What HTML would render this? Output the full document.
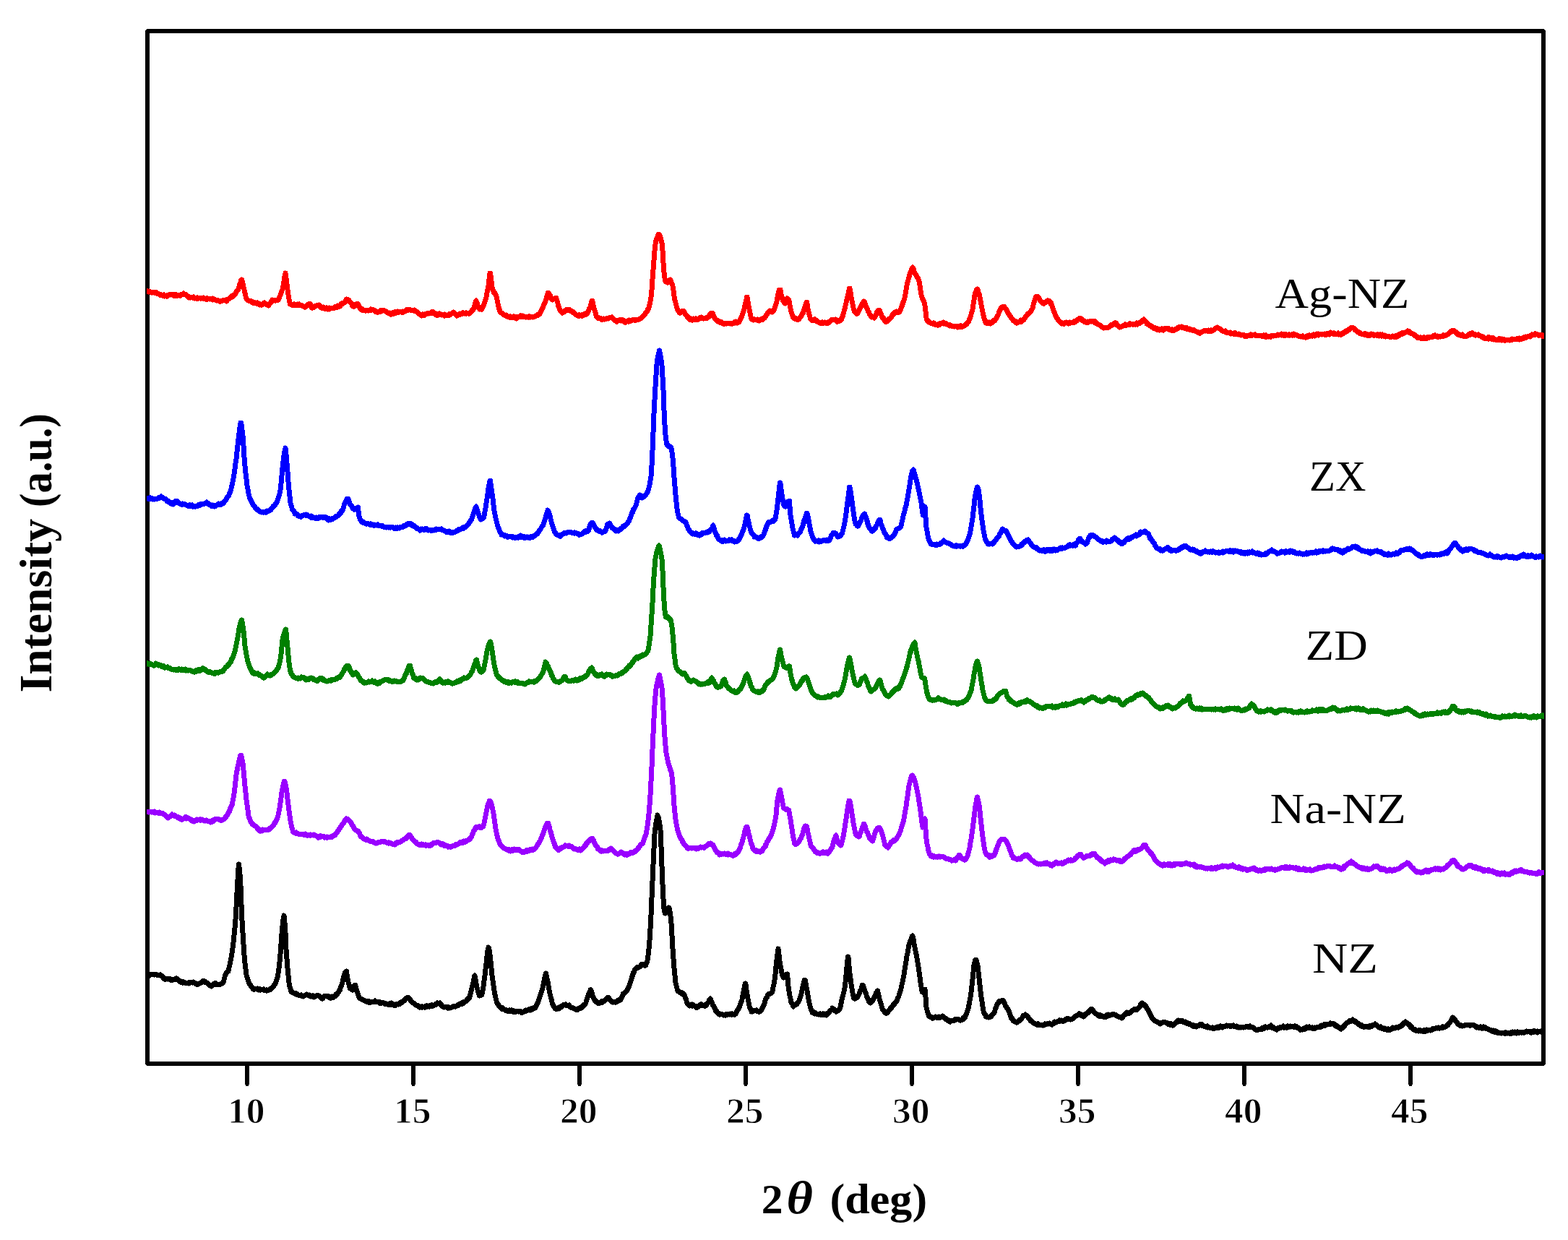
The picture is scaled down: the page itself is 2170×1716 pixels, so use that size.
<!DOCTYPE html>
<html lang="en"><head><meta charset="utf-8"><title>XRD patterns</title>
<style>
html,body{margin:0;padding:0;background:#fff;}
body{width:2170px;height:1716px;}
svg{display:block;}
text{font-family:"Liberation Serif","DejaVu Serif",serif;fill:#000;}
.b{font-weight:bold;}
.t{font-weight:bold;stroke:#fff;stroke-width:1px;}
.c{fill:none;stroke-linejoin:round;stroke-linecap:butt;shape-rendering:crispEdges;}
</style></head><body>
<svg width="2170" height="1716" viewBox="0 0 2170 1716">
<rect x="0" y="0" width="2170" height="1716" fill="#fff"/>
<g shape-rendering="crispEdges"><rect x="204" y="43" width="1932" height="1429" fill="none" stroke="#000" stroke-width="6"/>
<rect x="201" y="40" width="1" height="1" fill="#fff"/><rect x="202" y="40" width="1" height="1" fill="#fff"/><rect x="201" y="41" width="1" height="1" fill="#fff"/><rect x="2138" y="40" width="1" height="1" fill="#fff"/><rect x="2137" y="40" width="1" height="1" fill="#fff"/><rect x="2138" y="41" width="1" height="1" fill="#fff"/><rect x="201" y="1474" width="1" height="1" fill="#fff"/><rect x="202" y="1474" width="1" height="1" fill="#fff"/><rect x="201" y="1473" width="1" height="1" fill="#fff"/><rect x="2138" y="1474" width="1" height="1" fill="#fff"/><rect x="2137" y="1474" width="1" height="1" fill="#fff"/><rect x="2138" y="1473" width="1" height="1" fill="#fff"/><rect x="339" y="1472" width="6" height="29" fill="#000"/><rect x="340" y="1501" width="4" height="2" fill="#000"/><rect x="569" y="1472" width="6" height="29" fill="#000"/><rect x="570" y="1501" width="4" height="2" fill="#000"/><rect x="799" y="1472" width="6" height="29" fill="#000"/><rect x="800" y="1501" width="4" height="2" fill="#000"/><rect x="1029" y="1472" width="6" height="29" fill="#000"/><rect x="1030" y="1501" width="4" height="2" fill="#000"/><rect x="1259" y="1472" width="6" height="29" fill="#000"/><rect x="1260" y="1501" width="4" height="2" fill="#000"/><rect x="1489" y="1472" width="6" height="29" fill="#000"/><rect x="1490" y="1501" width="4" height="2" fill="#000"/><rect x="1719" y="1472" width="6" height="29" fill="#000"/><rect x="1720" y="1501" width="4" height="2" fill="#000"/><rect x="1949" y="1472" width="6" height="29" fill="#000"/><rect x="1950" y="1501" width="4" height="2" fill="#000"/></g>
<clipPath id="cp"><rect x="203" y="46" width="1934" height="1423"/></clipPath>
<g clip-path="url(#cp)">
<path class="c" d="M203 403l0.5 1h0.5l0.5 -1l0.5 1h1l0.5 -1l0.5 1h2l0.5 1l0.5 -1h1l0.5 1l0.5 -1h0.5l0.5 1h0.5l0.5 -1h0.5l0.5 1h1l0.5 1l0.5 -1l0.5 1h1.5l0.5 1h1l0.5 1l0.5 -1h0.5l0.5 1h2l0.5 1l0.5 -1h0.5l0.5 1l0.5 -1l0.5 2l0.5 -1h1.5l0.5 1h0.5l0.5 -1l0.5 1l0.5 -1l0.5 -1h2l0.5 -1h0.5l0.5 1h1l0.5 -1h0.5l0.5 1h1l0.5 1l0.5 -1l0.5 1l0.5 -1l0.5 1l0.5 -1l0.5 1h0.5l0.5 -1l0.5 1h2.5l0.5 -1h0.5l0.5 1h0.5l0.5 -1l0.5 1l0.5 -1h1.5l0.5 -1h1l0.5 -1l0.5 1h2l0.5 1h1l0.5 1h0.5l0.5 1h1l0.5 2h0.5l0.5 -1h1l0.5 1l0.5 -1h1.5l0.5 1h1.5l0.5 -1l0.5 1l0.5 1h0.5l0.5 -1h1l0.5 1h1l0.5 -1l0.5 1h1.5l0.5 -1h2l0.5 1l0.5 -1h2l0.5 1l0.5 -1l0.5 1h2.5l0.5 1l0.5 -1l0.5 1h0.5l0.5 -1l0.5 1h0.5l0.5 -1h1.5l0.5 1l0.5 -1h2.5l0.5 1l0.5 -1l0.5 2l0.5 -1h1l0.5 1h2l0.5 1l0.5 -1h1l0.5 1h2l0.5 1l0.5 -1h0.5l0.5 1h0.5l0.5 -1h2.5l0.5 -1h2l0.5 1h0.5l0.5 -1l0.5 2l0.5 -2h1l0.5 -1h1.5l0.5 -1l0.5 -1h1l0.5 -1h0.5l0.5 -1l0.5 1h0.5l0.5 -2l0.5 1l0.5 -1h0.5l0.5 -1h0.5l0.5 -1h0.5l0.5 -1l0.5 -1h0.5l0.5 -2h0.5l0.5 -1h0.5l0.5 -1l0.5 -2l0.5 -1l0.5 -1l0.5 -3l0.5 -1l0.5 -1l0.5 -2l0.5 -2h0.5l0.5 -1l0.5 1l0.5 3l0.5 1l0.5 3l0.5 2l0.5 2l0.5 2l0.5 3l0.5 1l0.5 2l0.5 3l0.5 2h0.5l0.5 2h0.5l0.5 1h0.5l0.5 1h2.5l0.5 1h1l0.5 1l0.5 -1l0.5 1h0.5l0.5 1l0.5 -1l0.5 1l0.5 -1h0.5l0.5 1h1l0.5 1h1l0.5 -1l0.5 1l0.5 -1l0.5 1h0.5l0.5 1h1l0.5 1h0.5l0.5 -1l0.5 1h2l0.5 -1l0.5 -1l0.5 1h0.5l0.5 -1l0.5 -1l0.5 1h1l0.5 1h1l0.5 1h1l0.5 1h1l0.5 -2h0.5l0.5 -1h0.5l0.5 -1l0.5 -1l0.5 -1h1l0.5 -2l0.5 1l0.5 -1h2.5l0.5 1l0.5 -1h4l0.5 -2l0.5 -1l0.5 -2h0.5l0.5 -2l0.5 -1l0.5 -2l0.5 -1l0.5 -2h0.5l0.5 -2l0.5 -2l0.5 -3l0.5 -4l0.5 -2l0.5 -4l0.5 -3l0.5 -1l0.5 -3l0.5 4l0.5 3l0.5 4l0.5 4l0.5 5l0.5 3l0.5 3l0.5 4l0.5 3l0.5 3l0.5 3l0.5 2l0.5 2h1l0.5 1h3.5l0.5 -1l0.5 1h3.5l0.5 -1l0.5 1l0.5 -1h0.5l0.5 1l0.5 -1l0.5 1h2.5l0.5 1h1.5l0.5 1h1l0.5 1h2l0.5 -1h0.5l0.5 -1h0.5l0.5 -1h0.5l0.5 -1l0.5 1l0.5 -1l0.5 -1h1l0.5 1l0.5 1l0.5 2l0.5 1l0.5 1h1l0.5 -1h1l0.5 -1l0.5 1l0.5 -1h0.5l0.5 -1h2.5l0.5 -1h1l0.5 1l0.5 -1l0.5 1h0.5l0.5 1h0.5l0.5 1l0.5 1h2.5l0.5 -1l0.5 1h0.5l0.5 1l0.5 -1h0.5l0.5 1h1l0.5 -1l0.5 1h0.5l0.5 1l0.5 -1h1l0.5 -1l0.5 2l0.5 -1l0.5 -1h5.5l0.5 -1l0.5 1h0.5l0.5 -1h1.5l0.5 -1l0.5 1l0.5 -2l0.5 2l0.5 -1h0.5l0.5 -1h0.5l0.5 1l0.5 -2h0.5l0.5 -1l0.5 -1l0.5 1h0.5l0.5 -1h1l0.5 -1h1l0.5 -1h0.5l0.5 -1l0.5 -1l0.5 -1l0.5 -1l0.5 1l0.5 -1h0.5l0.5 1h1l0.5 2h0.5l0.5 1h0.5l0.5 1h1l0.5 1l0.5 1l0.5 2h0.5l0.5 1l0.5 -1l0.5 1l0.5 -1l0.5 1l0.5 -2l0.5 1l0.5 -1h0.5l0.5 -1h0.5l0.5 -1h1l0.5 1l0.5 1l0.5 1l0.5 1l0.5 1l0.5 2h0.5l0.5 1h0.5l0.5 -1l0.5 2l0.5 -1l0.5 1l0.5 -1l0.5 1h2.5l0.5 1h1.5l0.5 -1h1.5l0.5 1l0.5 -1h2.5l0.5 -1l0.5 1h1.5l0.5 -1h0.5l0.5 1h1.5l0.5 1l0.5 1l0.5 -1h0.5l0.5 1l0.5 1h2.5l0.5 -1h1.5l0.5 -1l0.5 1h1l0.5 -1h0.5l0.5 -1h1.5l0.5 1h2l0.5 1h1.5l0.5 1h0.5l0.5 1h1l0.5 1h1l0.5 -1l0.5 1h0.5l0.5 1l0.5 -1h0.5l0.5 -1l0.5 1h1l0.5 -1l0.5 1l0.5 -2l0.5 1h0.5l0.5 -1l0.5 1l0.5 -1l0.5 1l0.5 -1h1l0.5 -1l0.5 1l0.5 -1h0.5l0.5 1h0.5l0.5 -1h1l0.5 1h2l0.5 -1l0.5 1l0.5 -1h2.5l0.5 -1l0.5 -1l0.5 1l0.5 -1h0.5l0.5 -1h0.5l0.5 1l0.5 -1h1.5l0.5 1h5l0.5 1l0.5 -1l0.5 1h0.5l0.5 1h1.5l0.5 1h0.5l0.5 1h0.5l0.5 1h0.5l0.5 1h1.5l0.5 1h1l0.5 1l0.5 -1h0.5l0.5 -1l0.5 1l0.5 -1h0.5l0.5 1l0.5 -1l0.5 1l0.5 -1h1l0.5 -1h2l0.5 -1h0.5l0.5 1l0.5 -1h2.5l0.5 -1l0.5 1h1l0.5 -1l0.5 1l0.5 -1l0.5 1h1l0.5 2h0.5l0.5 1h3.5l0.5 -1l0.5 -1l0.5 1l0.5 -1l0.5 1h2l0.5 1l0.5 -1h0.5l0.5 1h1.5l0.5 1l0.5 -2l0.5 1h4.5l0.5 -1l0.5 1l0.5 -1l0.5 1l0.5 -1h1l0.5 -1h1l0.5 -1h1l0.5 -1l0.5 1h1l0.5 1h0.5l0.5 1h0.5l0.5 1l0.5 1l0.5 -1h2l0.5 -1h1l0.5 -1l0.5 1l0.5 -1h2l0.5 -1l0.5 1h0.5l0.5 -1l0.5 1h1l0.5 -1h0.5l0.5 1l0.5 -1l0.5 1l0.5 -1h1.5l0.5 1h1.5l0.5 -1h1l0.5 -1h0.5l0.5 -1l0.5 -1l0.5 -1h1l0.5 -1l0.5 -1l0.5 -1l0.5 -2l0.5 -2l0.5 -2l0.5 -2l0.5 -1l0.5 -1l0.5 2l0.5 2h0.5l0.5 2l0.5 2l0.5 1l0.5 1h1l0.5 2l0.5 -2l0.5 1l0.5 1h0.5l0.5 -1l0.5 1l0.5 -2l0.5 -1l0.5 -1l0.5 -1l0.5 -1l0.5 -2l0.5 -1l0.5 -1l0.5 -2l0.5 -1l0.5 -2l0.5 -2l0.5 -4l0.5 -2l0.5 -2l0.5 -3l0.5 -2l0.5 -3l0.5 -4l0.5 -5l0.5 -5l0.5 -3h0.5l0.5 3l0.5 3l0.5 5l0.5 4l0.5 4l0.5 3l0.5 1l0.5 1l0.5 1l0.5 2l0.5 -1l0.5 1l0.5 1l0.5 1l0.5 1l0.5 1l0.5 1l0.5 3l0.5 2l0.5 2l0.5 3l0.5 2l0.5 3l0.5 1l0.5 3h0.5l0.5 1l0.5 2h0.5l0.5 1h1.5l0.5 1l0.5 1h1l0.5 1h2l0.5 1l0.5 -1l0.5 1l0.5 1h3l0.5 1l0.5 -1l0.5 1l0.5 -1l0.5 1h0.5l0.5 -1h0.5l0.5 1l0.5 -1h0.5l0.5 1l0.5 -1l0.5 1h1l0.5 1l0.5 -1l0.5 1l0.5 -1l0.5 2l0.5 -2l0.5 1l0.5 -1h1.5l0.5 -1h1l0.5 -1l0.5 1l0.5 -1l0.5 1l0.5 -1h0.5l0.5 1l0.5 -1l0.5 1h3l0.5 1l0.5 -1h1l0.5 1h0.5l0.5 -1h0.5l0.5 1l0.5 -1l0.5 1h0.5l0.5 -1l0.5 1h0.5l0.5 -1h2l0.5 1h0.5l0.5 -1h2l0.5 -1h1.5l0.5 -1h1l0.5 -1l0.5 1l0.5 -1l0.5 -1l0.5 1l0.5 -2h0.5l0.5 -1l0.5 -1l0.5 -1l0.5 -1l0.5 -1l0.5 -1l0.5 -1l0.5 -1l0.5 -2l0.5 -1h0.5l0.5 -2l0.5 -1l0.5 -1l0.5 -2l0.5 -1l0.5 -2l0.5 -2l0.5 -2l0.5 -1l0.5 -2l0.5 -1h0.5l0.5 1h0.5l0.5 2l0.5 1h0.5l0.5 3l0.5 1l0.5 1h0.5l0.5 1h0.5l0.5 -1h0.5l0.5 -1h2.5l0.5 -1h0.5l0.5 1l0.5 2l0.5 1l0.5 2l0.5 2l0.5 3l0.5 1l0.5 1l0.5 2l0.5 1h0.5l0.5 2h0.5l0.5 1h0.5l0.5 1l0.5 1l0.5 -1h0.5l0.5 -1l0.5 1h0.5l0.5 -1h0.5l0.5 -1h0.5l0.5 -1h1l0.5 -1h0.5l0.5 1l0.5 -1h1l0.5 1h0.5l0.5 1l0.5 -1l0.5 1h0.5l0.5 1h1l0.5 1l0.5 -1l0.5 1l0.5 1h1l0.5 1h1l0.5 1h0.5l0.5 1h1.5l0.5 1h1l0.5 -1l0.5 1l0.5 -1l0.5 1l0.5 -1h1l0.5 1l0.5 -1l0.5 1l0.5 -1l0.5 1l0.5 -1h1.5l0.5 -1l0.5 -1l0.5 1h1.5l0.5 -1h0.5l0.5 -1l0.5 -1l0.5 -1l0.5 -1l0.5 -1l0.5 -2h0.5l0.5 -1l0.5 -2l0.5 -1l0.5 -3l0.5 -2l0.5 -2h0.5l0.5 1l0.5 4l0.5 1l0.5 3l0.5 2l0.5 1l0.5 2l0.5 1l0.5 2l0.5 1l0.5 3l0.5 1l0.5 1h0.5l0.5 1l0.5 -1l0.5 1h2.5l0.5 1h0.5l0.5 1l0.5 -1h0.5l0.5 1h1.5l0.5 -1l0.5 1h0.5l0.5 -1h2.5l0.5 -1h0.5l0.5 1h0.5l0.5 -1h1.5l0.5 -1h2l0.5 1l0.5 -1l0.5 1l0.5 1h0.5l0.5 1h0.5l0.5 1h0.5l0.5 1h1.5l0.5 1l0.5 -1l0.5 1l0.5 -1h1l0.5 -1h2l0.5 -1h1l0.5 2l0.5 -1h0.5l0.5 1h0.5l0.5 -1l0.5 1h0.5l0.5 1l0.5 1l0.5 -1h0.5l0.5 1l0.5 -1h1.5l0.5 -1h1l0.5 1l0.5 -2l0.5 1l0.5 -1h1l0.5 1l0.5 -1h2.5l0.5 -1h1l0.5 1l0.5 -1h1l0.5 1l0.5 -1h4.5l0.5 -1h1l0.5 -1h1l0.5 -1l0.5 -1h1l0.5 -1l0.5 -1h0.5l0.5 -1h0.5l0.5 -1l0.5 -1h0.5l0.5 -1l0.5 -1h0.5l0.5 -1l0.5 -2l0.5 1l0.5 -2l0.5 -1l0.5 -2l0.5 -3l0.5 -1l0.5 -3l0.5 -3l0.5 -3l0.5 -4l0.5 -6l0.5 -8l0.5 -7l0.5 -7l0.5 -6l0.5 -7l0.5 -6l0.5 -7l0.5 -6l0.5 -5l0.5 -4l0.5 -4h0.5l0.5 -3l0.5 -1l0.5 -1l0.5 -2l0.5 -1l0.5 -1l0.5 -1h0.5l0.5 1h0.5l0.5 2l0.5 2l0.5 1l0.5 2l0.5 3l0.5 1l0.5 4l0.5 7l0.5 8l0.5 9l0.5 7l0.5 6l0.5 4l0.5 4l0.5 3h0.5l0.5 2h1l0.5 1h1.5l0.5 -1h0.5l0.5 -1h0.5l0.5 -1l0.5 -1l0.5 1l0.5 1l0.5 1l0.5 2l0.5 2h0.5l0.5 2l0.5 3l0.5 3l0.5 4l0.5 4l0.5 3l0.5 3l0.5 1l0.5 2l0.5 2l0.5 2l0.5 2l0.5 1l0.5 2l0.5 1l0.5 1l0.5 1h1l0.5 2h1l0.5 -1h1.5l0.5 -1l0.5 -1h1.5l0.5 1l0.5 1l0.5 1h0.5l0.5 2h0.5l0.5 1l0.5 1h0.5l0.5 1l0.5 1h0.5l0.5 1l0.5 -1l0.5 2l0.5 1l0.5 -1l0.5 1h0.5l0.5 -1l0.5 1h1l0.5 1l0.5 -1h0.5l0.5 -1l0.5 1l0.5 -1h1l0.5 1l0.5 -1l0.5 1l0.5 -1l0.5 1h2.5l0.5 -1h0.5l0.5 -1l0.5 1h0.5l0.5 -1h0.5l0.5 -1l0.5 1h1.5l0.5 1h0.5l0.5 -1h4l0.5 -1l0.5 1l0.5 -1h1l0.5 -1h0.5l0.5 -2l0.5 1l0.5 -2l0.5 -1h0.5l0.5 -1h1l0.5 1h0.5l0.5 2l0.5 1l0.5 1l0.5 1l0.5 1l0.5 1h0.5l0.5 1h0.5l0.5 1h1.5l0.5 2h1l0.5 1h0.5l0.5 -1l0.5 1h1l0.5 1h0.5l0.5 -1l0.5 1h0.5l0.5 1h3.5l0.5 -1h0.5l0.5 1l0.5 -1h3.5l0.5 1h0.5l0.5 -1h0.5l0.5 1h1.5l0.5 -1h1.5l0.5 -1l0.5 1l0.5 -1h1l0.5 1l0.5 -2l0.5 1h0.5l0.5 1l0.5 -1h0.5l0.5 -1l0.5 1l0.5 -1l0.5 -1h0.5l0.5 -2l0.5 -1l0.5 -1l0.5 -1l0.5 -1l0.5 -1l0.5 -2l0.5 -1l0.5 -2l0.5 -2l0.5 -1l0.5 -2l0.5 -3l0.5 -1l0.5 -2l0.5 -3l0.5 -2l0.5 -2l0.5 -3h0.5l0.5 3l0.5 3l0.5 2l0.5 4l0.5 2l0.5 3l0.5 2l0.5 3l0.5 3l0.5 2l0.5 2l0.5 2h0.5l0.5 -1l0.5 1l0.5 -1h0.5l0.5 2l0.5 -1h4l0.5 1l0.5 -1l0.5 1h1l0.5 1l0.5 -1h1.5l0.5 -1h1l0.5 -1l0.5 1l0.5 -1l0.5 1l0.5 -1h0.5l0.5 -1h1l0.5 -2h0.5l0.5 -1l0.5 -1l0.5 -1h0.5l0.5 -1l0.5 -1h0.5l0.5 -1l0.5 -1h1l0.5 -1l0.5 1h1l0.5 -1h0.5l0.5 2l0.5 -2h1.5l0.5 -1l0.5 -1l0.5 -1l0.5 -2l0.5 -1l0.5 -2l0.5 -1l0.5 -2l0.5 -2l0.5 -3l0.5 -3l0.5 -3l0.5 -2l0.5 -2l0.5 -2l0.5 -1h1.5l0.5 3l0.5 3l0.5 2l0.5 1l0.5 3l0.5 1l0.5 2h0.5l0.5 1l0.5 1l0.5 1l0.5 1h0.5l0.5 -2l0.5 -2l0.5 -1l0.5 -1l0.5 -1l0.5 1h0.5l0.5 1l0.5 -1l0.5 1l0.5 1l0.5 3l0.5 3l0.5 2l0.5 3l0.5 3l0.5 1l0.5 2l0.5 1l0.5 2l0.5 1l0.5 2l0.5 1h0.5l0.5 1h1l0.5 -1l0.5 1h0.5l0.5 1h3.5l0.5 -1l0.5 -1h0.5l0.5 -1h0.5l0.5 -1l0.5 -1l0.5 -1h0.5l0.5 -2l0.5 -1h0.5l0.5 -3l0.5 -1l0.5 -1l0.5 -2l0.5 -1l0.5 -2l0.5 -1l0.5 -2l0.5 -2h0.5l0.5 2l0.5 4l0.5 3l0.5 3l0.5 2l0.5 1l0.5 3l0.5 1l0.5 2l0.5 2l0.5 1h0.5l0.5 1l0.5 -1l0.5 1h0.5l0.5 -1h0.5l0.5 1l0.5 -1l0.5 1h0.5l0.5 -1l0.5 1h1l0.5 1l0.5 1h1l0.5 1h2l0.5 1h3l0.5 -1l0.5 1h2.5l0.5 -1l0.5 1h4.5l0.5 -1l0.5 -1h1l0.5 -1h0.5l0.5 -1h0.5l0.5 -1h4l0.5 1h0.5l0.5 -1l0.5 1l0.5 1l0.5 1l0.5 -1l0.5 1h0.5l0.5 -1h1l0.5 -1h0.5l0.5 1l0.5 -2h1.5l0.5 -1l0.5 -2h0.5l0.5 -2l0.5 -3l0.5 -1l0.5 -2l0.5 -2l0.5 -2l0.5 -1l0.5 -3l0.5 -2l0.5 -2l0.5 -2l0.5 -3l0.5 -2l0.5 -2l0.5 -2l0.5 -2l0.5 -2l0.5 -3l0.5 -2h0.5l0.5 3l0.5 2l0.5 5l0.5 2l0.5 2l0.5 3l0.5 3l0.5 2l0.5 3l0.5 2l0.5 2l0.5 2l0.5 1h1l0.5 1l0.5 1l0.5 1l0.5 -1l0.5 1h0.5l0.5 -1l0.5 -1l0.5 -1l0.5 -1l0.5 -1l0.5 -1l0.5 -1l0.5 -1l0.5 -1l0.5 -1l0.5 -1l0.5 -1l0.5 -1l0.5 -1h0.5l0.5 -1l0.5 -1l0.5 -1l0.5 1h0.5l0.5 2l0.5 1l0.5 1l0.5 2h0.5l0.5 2l0.5 1l0.5 1l0.5 1l0.5 2l0.5 1h0.5l0.5 2l0.5 1l0.5 1h0.5l0.5 1l0.5 1l0.5 1h0.5l0.5 -1h0.5l0.5 1h1.5l0.5 1l0.5 -1l0.5 -1l0.5 -1l0.5 -1l0.5 -1l0.5 -1l0.5 -2h1l0.5 -2l0.5 1l0.5 -1l0.5 -1h0.5l0.5 1l0.5 1l0.5 3h0.5l0.5 1l0.5 2l0.5 1l0.5 1l0.5 1l0.5 1l0.5 -1l0.5 2h1l0.5 2l0.5 1l0.5 -1l0.5 1h1.5l0.5 -1l0.5 -1h1.5l0.5 -2h1l0.5 -1h1l0.5 -1l0.5 -1l0.5 -1h0.5l0.5 -2l0.5 1l0.5 -1l0.5 -1l0.5 -1h0.5l0.5 -1h0.5l0.5 1l0.5 -1l0.5 -1l0.5 1h3.5l0.5 -1l0.5 -1l0.5 -1l0.5 -1l0.5 -1l0.5 -2l0.5 -1l0.5 -2h0.5l0.5 -3l0.5 -1l0.5 -1l0.5 -2l0.5 -1l0.5 -2l0.5 -2l0.5 -3l0.5 -3l0.5 -3l0.5 -3l0.5 -3l0.5 -2l0.5 -3l0.5 -1l0.5 -2l0.5 -2l0.5 -1l0.5 -2l0.5 -3h0.5l0.5 -2l0.5 -1l0.5 -2l0.5 -1l0.5 -1l0.5 -1l0.5 -1l0.5 1l0.5 1l0.5 1l0.5 2l0.5 2h0.5l0.5 2l0.5 1h0.5l0.5 2h0.5l0.5 2h0.5l0.5 1h0.5l0.5 2l0.5 1l0.5 1l0.5 4l0.5 2l0.5 3l0.5 4l0.5 3l0.5 3l0.5 2l0.5 2l0.5 1h0.5l0.5 2l0.5 1l0.5 1l0.5 2l0.5 1l0.5 3l0.5 4l0.5 4l0.5 5l0.5 4l0.5 2l0.5 1l0.5 1h1l0.5 1l0.5 1h1l0.5 1h2.5l0.5 1h1l0.5 -1l0.5 1l0.5 -1l0.5 1l0.5 1l0.5 -1l0.5 1h2.5l0.5 1l0.5 -1l0.5 1l0.5 -1l0.5 -1l0.5 1l0.5 -1l0.5 1l0.5 -1h0.5l0.5 -1h2.5l0.5 -1l0.5 2l0.5 -1h0.5l0.5 1l0.5 -1h0.5l0.5 1h0.5l0.5 1h3.5l0.5 2h0.5l0.5 -1h0.5l0.5 1h3.5l0.5 1h0.5l0.5 -1h1.5l0.5 1h0.5l0.5 -1h1l0.5 2l0.5 -1h2.5l0.5 -1l0.5 1l0.5 -1l0.5 1h2.5l0.5 -1h1l0.5 -1h1l0.5 -1h1l0.5 -1l0.5 -1h0.5l0.5 -1h0.5l0.5 -1l0.5 -1l0.5 -2l0.5 -1l0.5 -1l0.5 -2l0.5 -1l0.5 -2l0.5 -2l0.5 -1l0.5 -2l0.5 -2l0.5 -3l0.5 -4l0.5 -3l0.5 -3l0.5 -3l0.5 -4l0.5 -2l0.5 -2h0.5l0.5 -1l0.5 -2h0.5l0.5 -1l0.5 1l0.5 1l0.5 2l0.5 2h0.5l0.5 2l0.5 3l0.5 2l0.5 4l0.5 1l0.5 4l0.5 2l0.5 3l0.5 3l0.5 2l0.5 3l0.5 1l0.5 3l0.5 1l0.5 2l0.5 2l0.5 1l0.5 2h0.5l0.5 -1l0.5 1h1l0.5 -1l0.5 1h1.5l0.5 -1l0.5 1l0.5 1h0.5l0.5 -1l0.5 -1l0.5 1l0.5 -1l0.5 -1h1l0.5 -1l0.5 -1h0.5l0.5 1l0.5 -2h1l0.5 -1l0.5 -1l0.5 -1l0.5 -1l0.5 -1l0.5 -1h0.5l0.5 -2l0.5 -2l0.5 -1l0.5 -1h0.5l0.5 -2h0.5l0.5 -2l0.5 -1h2l0.5 -1h1l0.5 1l0.5 1h0.5l0.5 1l0.5 1h0.5l0.5 1l0.5 1l0.5 1l0.5 1l0.5 1l0.5 1l0.5 1h0.5l0.5 1l0.5 1l0.5 1h0.5l0.5 1l0.5 1l0.5 1h1l0.5 1l0.5 1l0.5 1l0.5 -1l0.5 1h1l0.5 1l0.5 1h0.5l0.5 1h1l0.5 -1h1l0.5 -1h3l0.5 -2l0.5 1l0.5 1l0.5 -1h0.5l0.5 -1h1l0.5 -1l0.5 -1l0.5 -1h0.5l0.5 -1l0.5 -1h0.5l0.5 -1l0.5 -1h0.5l0.5 -1l0.5 -1h1.5l0.5 -1l0.5 -1h0.5l0.5 -1h0.5l0.5 -1l0.5 -1l0.5 -1h0.5l0.5 -2l0.5 -1l0.5 -3l0.5 -2l0.5 -2l0.5 -1l0.5 -2l0.5 -1l0.5 -1l0.5 -2l0.5 -1h2l0.5 1h0.5l0.5 1l0.5 1l0.5 1l0.5 1l0.5 1h0.5l0.5 1h0.5l0.5 1l0.5 1h0.5l0.5 1h1l0.5 -1l0.5 1l0.5 -1h1l0.5 -1h0.5l0.5 -1l0.5 1l0.5 -1h0.5l0.5 -1l0.5 1h1.5l0.5 1l0.5 -1l0.5 1l0.5 2l0.5 -1l0.5 2l0.5 1l0.5 2l0.5 1l0.5 2l0.5 1l0.5 2l0.5 1l0.5 2h0.5l0.5 2l0.5 1l0.5 1l0.5 1l0.5 2h1l0.5 1l0.5 1l0.5 1h0.5l0.5 1l0.5 1h1l0.5 1h1l0.5 1l0.5 1l0.5 -1h0.5l0.5 1h1l0.5 -1l0.5 1l0.5 -1h1.5l0.5 -1l0.5 1h2l0.5 1h0.5l0.5 -1h0.5l0.5 -1l0.5 1l0.5 -1h4l0.5 -1l0.5 1h1l0.5 -1h1l0.5 -1h1l0.5 -2h1.5l0.5 -1h0.5l0.5 -1h1l0.5 1h1l0.5 2l0.5 -1l0.5 1h0.5l0.5 1h0.5l0.5 1l0.5 -1l0.5 1h1l0.5 1h2.5l0.5 -1l0.5 1l0.5 -1h2l0.5 -1h1l0.5 1h0.5l0.5 -1h3l0.5 2l0.5 1l0.5 -1l0.5 1l0.5 -1l0.5 2l0.5 -1l0.5 1h0.5l0.5 1h1.5l0.5 1h1l0.5 1h1l0.5 1h0.5l0.5 1h1.5l0.5 1l0.5 -1h6.5l0.5 -1h1l0.5 -1l0.5 -1l0.5 1l0.5 -1h2l0.5 -1h0.5l0.5 -1h0.5l0.5 -1l0.5 1l0.5 -1l0.5 1l0.5 -1l0.5 2l0.5 1h1l0.5 1h0.5l0.5 1h1l0.5 1h0.5l0.5 -1h2l0.5 -1h2l0.5 -1h1l0.5 -1l0.5 1h2l0.5 -1h2.5l0.5 -1l0.5 1l0.5 -1l0.5 1l0.5 -1h2.5l0.5 1l0.5 -1h2l0.5 1l0.5 -1h1l0.5 -1l0.5 1l0.5 1l0.5 -1h0.5l0.5 -1h1.5l0.5 -1l0.5 1l0.5 -1h1l0.5 -1l0.5 -1h0.5l0.5 -1h1l0.5 -1l0.5 1l0.5 1l0.5 1h1l0.5 1h0.5l0.5 2l0.5 -1l0.5 2h1.5l0.5 1h0.5l0.5 1h1.5l0.5 1l0.5 -1l0.5 1l0.5 1h1l0.5 1l0.5 -1h0.5l0.5 1h1l0.5 1l0.5 -1l0.5 1l0.5 1h1l0.5 -1l0.5 1h1.5l0.5 1l0.5 -1l0.5 -1h0.5l0.5 1h1l0.5 -1l0.5 1h1l0.5 1l0.5 -1h1l0.5 -1l0.5 -1h0.5l0.5 1h0.5l0.5 -1h1.5l0.5 1h0.5l0.5 1l0.5 -1l0.5 1h2l0.5 1l0.5 -1l0.5 1l0.5 -1l0.5 1h3l0.5 -1l0.5 -1h1.5l0.5 -1l0.5 1l0.5 -1l0.5 -1h1l0.5 -1h2.5l0.5 1l0.5 -1l0.5 1h2l0.5 1l0.5 -1h0.5l0.5 1h1l0.5 1l0.5 -1l0.5 1l0.5 -1l0.5 1h2l0.5 1l0.5 -1l0.5 1h2l0.5 1l0.5 -1h0.5l0.5 1l0.5 -1h0.5l0.5 1h0.5l0.5 1h1.5l0.5 1h2.5l0.5 1h0.5l0.5 1l0.5 -1h0.5l0.5 1l0.5 -1h1l0.5 -1h2l0.5 -1h1.5l0.5 -1h0.5l0.5 1l0.5 -1h1l0.5 1l0.5 -1h0.5l0.5 1l0.5 -1l0.5 1h2.5l0.5 -1l0.5 1h1.5l0.5 -1h1l0.5 -1h0.5l0.5 -1h1l0.5 -1h1.5l0.5 -1l0.5 1h2l0.5 1h1l0.5 1h1l0.5 1l0.5 1h3.5l0.5 1h0.5l0.5 -1l0.5 2h5l0.5 1l0.5 -1l0.5 1l0.5 1l0.5 -1h1.5l0.5 1h1.5l0.5 -1l0.5 1l0.5 -1l0.5 1l0.5 -1l0.5 1h2.5l0.5 1h0.5l0.5 -1l0.5 1h2l0.5 1l0.5 -1h2.5l0.5 1h0.5l0.5 1l0.5 -1h1l0.5 1l0.5 -1h1l0.5 1l0.5 -1h3.5l0.5 -1l0.5 1l0.5 -1l0.5 1l0.5 -1h0.5l0.5 1h0.5l0.5 -1h1.5l0.5 1l0.5 -1l0.5 1h7.5l0.5 1h3l0.5 -1l0.5 1h1l0.5 1l0.5 -1l0.5 -1l0.5 2h1l0.5 -1h1l0.5 1l0.5 -1h1l0.5 1h0.5l0.5 -1l0.5 1l0.5 -1h1.5l0.5 -1h0.5l0.5 1h0.5l0.5 -1h4.5l0.5 -1l0.5 1h1l0.5 -1h2.5l0.5 1l0.5 -2l0.5 1h0.5l0.5 1l0.5 -1l0.5 1h1l0.5 -1l0.5 1h1.5l0.5 -1l0.5 1h1l0.5 -1h0.5l0.5 1l0.5 -1l0.5 1h0.5l0.5 -1h0.5l0.5 1h0.5l0.5 -1l0.5 1h1.5l0.5 -1l0.5 -1l0.5 1l0.5 1l0.5 -1h2l0.5 1h1l0.5 1h4l0.5 1l0.5 -1h1l0.5 1l0.5 -1l0.5 1h3l0.5 1l0.5 -1h0.5l0.5 -1l0.5 1l0.5 -1l0.5 1l0.5 -1h1l0.5 -1l0.5 1h1l0.5 -1h1l0.5 1l0.5 -1l0.5 1l0.5 -1h0.5l0.5 -1l0.5 1h0.5l0.5 1l0.5 -1l0.5 -1l0.5 1l0.5 -1h0.5l0.5 -1l0.5 1h1l0.5 1l0.5 -2l0.5 1h1.5l0.5 -1h1.5l0.5 1l0.5 -1h2.5l0.5 1l0.5 -1l0.5 1h1.5l0.5 -1l0.5 1l0.5 -1h1.5l0.5 1h0.5l0.5 -2l0.5 1l0.5 -1l0.5 -1l0.5 1h2.5l0.5 1l0.5 -1l0.5 1l0.5 -1l0.5 1h4.5l0.5 -1l0.5 2h0.5l0.5 -1h1l0.5 1l0.5 -1l0.5 1l0.5 -1h0.5l0.5 -1h0.5l0.5 1l0.5 -2h0.5l0.5 1l0.5 -1l0.5 -1h0.5l0.5 -1h0.5l0.5 1l0.5 -1h0.5l0.5 -1l0.5 1l0.5 -1h1l0.5 -1l0.5 -1h1l0.5 -1h1l0.5 -1h1.5l0.5 1h1.5l0.5 1h0.5l0.5 2l0.5 -1l0.5 1h0.5l0.5 1h0.5l0.5 1l0.5 1h1.5l0.5 1l0.5 -1l0.5 1h1l0.5 1h3.5l0.5 1l0.5 -1l0.5 1h1l0.5 -1l0.5 1h1l0.5 1l0.5 -1l0.5 1l0.5 -1l0.5 1l0.5 -1h1l0.5 1l0.5 -1h0.5l0.5 -1l0.5 1h1.5l0.5 1h0.5l0.5 -1l0.5 1h1l0.5 -1h1l0.5 1h1l0.5 -1l0.5 1l0.5 -1l0.5 1h0.5l0.5 1l0.5 -1h0.5l0.5 -1l0.5 1h1l0.5 1l0.5 -1l0.5 -1l0.5 1l0.5 1h2l0.5 -1l0.5 1l0.5 1l0.5 -1h4l0.5 1h4.5l0.5 -1l0.5 1h2l0.5 -1l0.5 1l0.5 -1l0.5 1h0.5l0.5 -1l0.5 1l0.5 -1h1l0.5 -2l0.5 1l0.5 -1l0.5 1l0.5 -1h0.5l0.5 -1h0.5l0.5 -1l0.5 1l0.5 -1l0.5 1h1l0.5 -1h0.5l0.5 -1h2.5l0.5 -1h1l0.5 -1l0.5 1h0.5l0.5 1h1l0.5 -1l0.5 2h2l0.5 1h1.5l0.5 1h0.5l0.5 1h1l0.5 1l0.5 -1l0.5 1h0.5l0.5 1l0.5 1l0.5 -1h0.5l0.5 1h2.5l0.5 1l0.5 -1l0.5 1h1l0.5 -1h0.5l0.5 1l0.5 -1l0.5 1l0.5 -1l0.5 1l0.5 -1l0.5 1h0.5l0.5 -1h0.5l0.5 1l0.5 -1l0.5 1h0.5l0.5 -1h0.5l0.5 -1h0.5l0.5 1h1l0.5 -1h3l0.5 -1l0.5 1l0.5 -1h1.5l0.5 -1l0.5 1h2l0.5 1l0.5 -1l0.5 1h1.5l0.5 -1h1l0.5 1h0.5l0.5 -1h2l0.5 -1l0.5 1l0.5 -1l0.5 1l0.5 -1h2.5l0.5 -1h1.5l0.5 -1h1l0.5 -1h0.5l0.5 -1h0.5l0.5 -1h0.5l0.5 -1l0.5 1l0.5 -1h0.5l0.5 -1h1.5l0.5 1h0.5l0.5 1h1l0.5 1l0.5 1h1l0.5 1l0.5 1h0.5l0.5 -1l0.5 1h0.5l0.5 1h3.5l0.5 -1l0.5 2h6l0.5 -1h0.5l0.5 -1l0.5 1h0.5l0.5 -1h0.5l0.5 -1l0.5 1l0.5 -1h1l0.5 -1l0.5 1l0.5 -1l0.5 1h1l0.5 1h0.5l0.5 1h0.5l0.5 -1l0.5 1h0.5l0.5 -1h1l0.5 1h0.5l0.5 -1l0.5 1h1l0.5 1h1.5l0.5 1h1l0.5 1h0.5l0.5 -1l0.5 2h5.5l0.5 -1l0.5 1l0.5 1l0.5 -1l0.5 -1l0.5 1h1.5l0.5 1l0.5 -1l0.5 1l0.5 -1l0.5 1h1l0.5 -1l0.5 2l0.5 -1h0.5l0.5 1h4.5l0.5 -1l0.5 1l0.5 -1l0.5 1l0.5 -1l0.5 1h1.5l0.5 -1l0.5 2l0.5 -1h1l0.5 1h0.5l0.5 -1l0.5 1h1l0.5 -1h5l0.5 1l0.5 -1h2l0.5 -1l0.5 1l0.5 -1h6.5l0.5 -1h1.5l0.5 2l0.5 -2l0.5 1h0.5l0.5 -1h1l0.5 1l0.5 -1h1.5l0.5 -1l0.5 1l0.5 -1h1.5l0.5 -1l0.5 1l0.5 -1h2l0.5 -1h2l0.5 1l0.5 -1l0.5 -1h1l0.5 -1l0.5 1l0.5 -1h2.5l0.5 -1l0.5 1l0.5 -1l0.5 1l0.5 -1h0.5l0.5 1h1.5l0.5 1l0.5 -1h0.5l0.5 1h0.5l0.5 -1h1l0.5 1h0.5l0.5 1l0.5 -1l0.5 1l0.5 -1l0.5 1h0.5l0.5 1" stroke="#ff0000" stroke-width="7"/>
<path class="c" d="M203 690l0.5 -1h1l0.5 1l0.5 -1h0.5l0.5 1l0.5 -1l0.5 1h0.5l0.5 -1l0.5 1l0.5 -1h0.5l0.5 1h0.5l0.5 1h0.5l0.5 -1h0.5l0.5 1l0.5 -1h4.5l0.5 -1h0.5l0.5 -1h1l0.5 1l0.5 -1h0.5l0.5 -1l0.5 1h1l0.5 1h1l0.5 1h2l0.5 1h0.5l0.5 1h1l0.5 2l0.5 -1l0.5 1h0.5l0.5 1l0.5 -1l0.5 1h0.5l0.5 1h0.5l0.5 1l0.5 -1l0.5 1h1.5l0.5 1l0.5 -1l0.5 -2l0.5 1h0.5l0.5 -2h0.5l0.5 -1h1.5l0.5 1h1l0.5 2h1.5l0.5 1h1.5l0.5 1l0.5 -1h0.5l0.5 1l0.5 -1l0.5 1l0.5 -1h1l0.5 1h2l0.5 1h1.5l0.5 1h1.5l0.5 -1l0.5 1l0.5 -1l0.5 1l0.5 -1l0.5 1l0.5 -1h0.5l0.5 1l0.5 -1l0.5 2l0.5 -1l0.5 1l0.5 -1h1.5l0.5 1l0.5 -1h3l0.5 -1l0.5 1l0.5 -1h1l0.5 -1h0.5l0.5 1l0.5 -2h0.5l0.5 1h0.5l0.5 -1h3.5l0.5 -1h1.5l0.5 -1l0.5 2l0.5 -1h0.5l0.5 1l0.5 1h2l0.5 1h0.5l0.5 1l0.5 -1h1l0.5 1l0.5 -1l0.5 1h1l0.5 1l0.5 -1h0.5l0.5 -1h0.5l0.5 1l0.5 -1h1.5l0.5 -1h0.5l0.5 -1l0.5 1h2.5l0.5 -1l0.5 1h0.5l0.5 -1l0.5 -1l0.5 1h0.5l0.5 -1l0.5 -1l0.5 -1h0.5l0.5 -1l0.5 -1h0.5l0.5 -1l0.5 -1h0.5l0.5 -2h0.5l0.5 -1l0.5 -1h0.5l0.5 -1l0.5 -2l0.5 -1l0.5 -1l0.5 -2l0.5 -1l0.5 -2l0.5 -3l0.5 -1l0.5 -3l0.5 -2l0.5 -2l0.5 -3l0.5 -3l0.5 -3l0.5 -3l0.5 -4l0.5 -3l0.5 -5l0.5 -3l0.5 -3l0.5 -5l0.5 -5l0.5 -4l0.5 -5l0.5 -4l0.5 -5l0.5 -4l0.5 -4l0.5 -4l0.5 -4l0.5 -3l0.5 -3h0.5l0.5 2l0.5 5l0.5 3l0.5 4l0.5 4l0.5 7l0.5 7l0.5 8l0.5 8l0.5 7l0.5 5l0.5 5l0.5 5l0.5 5l0.5 3l0.5 5l0.5 4l0.5 2l0.5 3l0.5 2l0.5 4l0.5 2l0.5 2l0.5 2h0.5l0.5 2l0.5 1l0.5 1h0.5l0.5 2l0.5 1l0.5 1l0.5 2h0.5l0.5 1h0.5l0.5 1h0.5l0.5 1l0.5 1l0.5 1h0.5l0.5 1h1l0.5 1l0.5 -1l0.5 1l0.5 1h1l0.5 1h2.5l0.5 1l0.5 -1h1l0.5 1h1l0.5 -1h1.5l0.5 1l0.5 -1h0.5l0.5 -1l0.5 1h1l0.5 -1h1.5l0.5 -1h1l0.5 -1l0.5 -1h0.5l0.5 -1l0.5 -1h0.5l0.5 -1l0.5 -1l0.5 1l0.5 -1l0.5 -1h0.5l0.5 -1l0.5 -1l0.5 -1h0.5l0.5 -1l0.5 -1l0.5 -2l0.5 -1l0.5 -1l0.5 -2l0.5 -2l0.5 -1l0.5 -2l0.5 -2l0.5 -3l0.5 -4l0.5 -5l0.5 -6l0.5 -5l0.5 -5l0.5 -6l0.5 -4l0.5 -5l0.5 -4l0.5 -4l0.5 -3l0.5 -3l0.5 -2l0.5 -2l0.5 3l0.5 6l0.5 5l0.5 7l0.5 6l0.5 6l0.5 7l0.5 7l0.5 5l0.5 6l0.5 5l0.5 4l0.5 5l0.5 4l0.5 2l0.5 2l0.5 1l0.5 2l0.5 2l0.5 1h0.5l0.5 1h0.5l0.5 1l0.5 1l0.5 2l0.5 -1l0.5 1h1.5l0.5 1h0.5l0.5 1l0.5 1l0.5 -1l0.5 1h2l0.5 1l0.5 -1l0.5 1l0.5 -1h1l0.5 -1h1.5l0.5 -1h0.5l0.5 1h1l0.5 -1l0.5 1l0.5 -1h0.5l0.5 1h0.5l0.5 1h2.5l0.5 1l0.5 1l0.5 -2l0.5 2l0.5 -1l0.5 1l0.5 -1l0.5 1h1.5l0.5 1h0.5l0.5 -1h0.5l0.5 1l0.5 -1l0.5 1h2.5l0.5 -1l0.5 1h0.5l0.5 -1h1.5l0.5 -1h1l0.5 1l0.5 -1h0.5l0.5 1h0.5l0.5 -1h0.5l0.5 1h0.5l0.5 1h0.5l0.5 -1l0.5 2h0.5l0.5 1h1l0.5 1h0.5l0.5 -1l0.5 -1l0.5 1h2.5l0.5 -1l0.5 -1h0.5l0.5 1l0.5 -1h1.5l0.5 -1l0.5 -1l0.5 1l0.5 -1h1l0.5 -1h1l0.5 -1h1l0.5 -2h0.5l0.5 -1l0.5 1l0.5 -1l0.5 -2l0.5 -1l0.5 -1l0.5 1l0.5 -1l0.5 -1l0.5 -2l0.5 -1l0.5 -2l0.5 -2l0.5 -1l0.5 -1l0.5 -2h0.5l0.5 -2h0.5l0.5 -1l0.5 -1h1l0.5 1l0.5 1l0.5 2l0.5 1l0.5 2l0.5 1l0.5 1h0.5l0.5 1h0.5l0.5 1l0.5 1l0.5 1l0.5 1h1l0.5 1l0.5 -1h2l0.5 1l0.5 -2l0.5 1l0.5 -1l0.5 1l0.5 -2l0.5 5l0.5 4l0.5 4l0.5 1l0.5 1l0.5 2l0.5 1h0.5l0.5 1l0.5 1h0.5l0.5 1h0.5l0.5 -1h0.5l0.5 1h0.5l0.5 1h1.5l0.5 1h1l0.5 -1h0.5l0.5 1h2l0.5 1h0.5l0.5 -1l0.5 1l0.5 -1l0.5 1h2.5l0.5 1l0.5 -1l0.5 1h0.5l0.5 -1h1l0.5 1l0.5 -1h1l0.5 1l0.5 -1l0.5 1h3.5l0.5 1l0.5 -1h0.5l0.5 1h1l0.5 1h3l0.5 1h0.5l0.5 -1h2l0.5 1h0.5l0.5 -1h1l0.5 1l0.5 -1h2l0.5 1h1.5l0.5 1l0.5 -1h1l0.5 1l0.5 -1l0.5 1l0.5 -1h0.5l0.5 1l0.5 -1l0.5 1l0.5 -1h1l0.5 1l0.5 -1h0.5l0.5 -1h3.5l0.5 -1l0.5 1l0.5 -1h2l0.5 -1h0.5l0.5 -1h0.5l0.5 -1l0.5 1h0.5l0.5 -1h0.5l0.5 -1h1l0.5 1l0.5 1l0.5 -1h0.5l0.5 2l0.5 -2l0.5 2h0.5l0.5 1h0.5l0.5 -1l0.5 1h0.5l0.5 1h1l0.5 1l0.5 1l0.5 -1l0.5 1h0.5l0.5 1h1.5l0.5 1h0.5l0.5 1l0.5 -1h0.5l0.5 -1l0.5 1h1l0.5 -1l0.5 1h2.5l0.5 -1l0.5 1h0.5l0.5 -1l0.5 1h0.5l0.5 -1l0.5 1h0.5l0.5 1h0.5l0.5 -1h1l0.5 1h4l0.5 -1h0.5l0.5 1l0.5 -1h2l0.5 -1l0.5 1l0.5 -1h5l0.5 1h0.5l0.5 -1l0.5 1h1l0.5 1h1.5l0.5 1h1.5l0.5 1l0.5 -1h1l0.5 1l0.5 -1h0.5l0.5 1h0.5l0.5 -1l0.5 1l0.5 1h1l0.5 -1h0.5l0.5 1l0.5 -1h1l0.5 1l0.5 -1h3l0.5 -1h1l0.5 -1h1l0.5 -1l0.5 1l0.5 -1h2l0.5 -1h1l0.5 -1h1l0.5 -1l0.5 1l0.5 -1l0.5 1l0.5 -1h1l0.5 -1h0.5l0.5 -1h0.5l0.5 -1h1l0.5 -1l0.5 -1h1l0.5 -2l0.5 -1h1l0.5 -2h0.5l0.5 -1l0.5 -1l0.5 -2l0.5 -1l0.5 -2l0.5 -1l0.5 -2l0.5 -2l0.5 -1l0.5 -1l0.5 -2l0.5 -2h0.5l0.5 -1l0.5 2l0.5 1l0.5 2l0.5 3h0.5l0.5 2l0.5 1l0.5 1l0.5 2l0.5 1l0.5 1l0.5 1l0.5 1l0.5 -1h1l0.5 -1h0.5l0.5 -1l0.5 1l0.5 -1l0.5 -2l0.5 -3l0.5 -3l0.5 -3l0.5 -2l0.5 -4l0.5 -3l0.5 -3l0.5 -3l0.5 -4l0.5 -3l0.5 -4l0.5 -4l0.5 -2l0.5 -3l0.5 -3l0.5 -2h0.5l0.5 4l0.5 3l0.5 4l0.5 3l0.5 4l0.5 4l0.5 3l0.5 6l0.5 3l0.5 3l0.5 5l0.5 3l0.5 2l0.5 3l0.5 2l0.5 2l0.5 2l0.5 2l0.5 2l0.5 2l0.5 1l0.5 2l0.5 1l0.5 1l0.5 2l0.5 1l0.5 2h0.5l0.5 1h0.5l0.5 2l0.5 -1l0.5 1h2l0.5 1l0.5 1h1l0.5 -1l0.5 1h1.5l0.5 1l0.5 -1l0.5 1l0.5 -1h5l0.5 1l0.5 1h0.5l0.5 -1l0.5 1h3.5l0.5 -1h1l0.5 1h1l0.5 -1l0.5 -1l0.5 1h1l0.5 -2l0.5 2l0.5 -1l0.5 1l0.5 -1h1l0.5 1l0.5 1h1l0.5 -1l0.5 1h1.5l0.5 -1l0.5 1h1l0.5 -1l0.5 1h2.5l0.5 -1l0.5 1l0.5 -1h2l0.5 -1l0.5 1l0.5 -1h1.5l0.5 -1h0.5l0.5 -1h0.5l0.5 -1h1l0.5 -1l0.5 -1l0.5 -1h0.5l0.5 -1l0.5 -1h0.5l0.5 -1l0.5 -1h0.5l0.5 -2h0.5l0.5 -2h0.5l0.5 -1h0.5l0.5 -1l0.5 -2l0.5 -1l0.5 -2l0.5 -1l0.5 -2l0.5 -2l0.5 -2l0.5 -2l0.5 -1l0.5 -2l0.5 -1l0.5 -2l0.5 1l0.5 1l0.5 1l0.5 2l0.5 1l0.5 2l0.5 1l0.5 3l0.5 2l0.5 2l0.5 2l0.5 1l0.5 2l0.5 2l0.5 1l0.5 2l0.5 1l0.5 1l0.5 2h0.5l0.5 1l0.5 1l0.5 1h0.5l0.5 1h1l0.5 1h1.5l0.5 1h1l0.5 -1l0.5 1l0.5 -2h1.5l0.5 -1h1l0.5 -1h1l0.5 -1h1l0.5 1h0.5l0.5 -1h2l0.5 -1h3.5l0.5 1h3.5l0.5 1l0.5 -1l0.5 1l0.5 -1h0.5l0.5 1h2l0.5 1h1l0.5 1l0.5 -1l0.5 1h1l0.5 -1h2l0.5 -1h1l0.5 -1h0.5l0.5 -1h0.5l0.5 -1l0.5 1l0.5 -1l0.5 1l0.5 -1h1.5l0.5 -1l0.5 1l0.5 -1l0.5 -1l0.5 -3h0.5l0.5 -3h0.5l0.5 -2l0.5 -1l0.5 1l0.5 -1l0.5 -1h0.5l0.5 1l0.5 1l0.5 1l0.5 1l0.5 1l0.5 1l0.5 1h0.5l0.5 1h0.5l0.5 2h0.5l0.5 1l0.5 -1l0.5 1h0.5l0.5 1l0.5 -1h1l0.5 1h0.5l0.5 1h1l0.5 1l0.5 -1h2l0.5 -1h1l0.5 -1l0.5 1l0.5 -2l0.5 -1l0.5 -2l0.5 -2l0.5 -2l0.5 1l0.5 -2h1.5l0.5 -1l0.5 1l0.5 1l0.5 1l0.5 1l0.5 1h0.5l0.5 2h1.5l0.5 1h0.5l0.5 1h1l0.5 1h0.5l0.5 1l0.5 -2l0.5 1h0.5l0.5 -1h0.5l0.5 2l0.5 -2h1.5l0.5 -1l0.5 1l0.5 -2h1.5l0.5 -1h0.5l0.5 -1l0.5 -1l0.5 1h0.5l0.5 -1h1l0.5 -1h0.5l0.5 -1h0.5l0.5 -1h0.5l0.5 -1l0.5 -1l0.5 -1h0.5l0.5 -1l0.5 -2l0.5 -1l0.5 -1l0.5 -1l0.5 -1l0.5 -2l0.5 -1l0.5 -2h0.5l0.5 -1l0.5 -3h1l0.5 -2l0.5 -1h0.5l0.5 -2h0.5l0.5 -2l0.5 -1l0.5 -2l0.5 -2l0.5 -2l0.5 -2l0.5 -1l0.5 -1l0.5 -1h0.5l0.5 -1l0.5 -1l0.5 1h0.5l0.5 1l0.5 1h0.5l0.5 1l0.5 -1h1l0.5 -1h0.5l0.5 -1l0.5 1l0.5 -1h0.5l0.5 -1l0.5 -1h0.5l0.5 -2h0.5l0.5 -1l0.5 -1l0.5 -1l0.5 -2l0.5 -2l0.5 -2l0.5 -2l0.5 -3l0.5 -3l0.5 -2l0.5 -4l0.5 -6l0.5 -9l0.5 -11l0.5 -10l0.5 -13l0.5 -12l0.5 -14l0.5 -12l0.5 -9l0.5 -10l0.5 -9l0.5 -9l0.5 -8l0.5 -8l0.5 -8l0.5 -7l0.5 -6l0.5 -2l0.5 -3l0.5 -2l0.5 -2l0.5 -2l0.5 -2l0.5 2l0.5 3l0.5 2l0.5 3l0.5 3l0.5 3l0.5 5l0.5 8l0.5 8l0.5 9l0.5 9l0.5 13l0.5 15l0.5 12l0.5 8l0.5 7l0.5 7l0.5 5l0.5 3l0.5 4l0.5 2h1.5l0.5 1l0.5 1l0.5 -1l0.5 1h1l0.5 1h0.5l0.5 1l0.5 3l0.5 3l0.5 4l0.5 4l0.5 4l0.5 8l0.5 7l0.5 8l0.5 6l0.5 6l0.5 6l0.5 6l0.5 5l0.5 5l0.5 5l0.5 4l0.5 4l0.5 2l0.5 2l0.5 2l0.5 2l0.5 1h0.5l0.5 1h1.5l0.5 1h0.5l0.5 1h1l0.5 1h1l0.5 1h1.5l0.5 1l0.5 1l0.5 2l0.5 1l0.5 1l0.5 1l0.5 1l0.5 2l0.5 1h0.5l0.5 1l0.5 1h0.5l0.5 1l0.5 1h0.5l0.5 1l0.5 -1l0.5 1l0.5 1l0.5 -1h1.5l0.5 1l0.5 -1h0.5l0.5 1l0.5 -1l0.5 1h1l0.5 1l0.5 -1l0.5 1l0.5 -1h0.5l0.5 1l0.5 1l0.5 -1h1l0.5 -1l0.5 1l0.5 -1h1l0.5 -2h5.5l0.5 -1l0.5 1h1l0.5 -1h1l0.5 -1l0.5 -1h0.5l0.5 -1l0.5 -1h0.5l0.5 -1h0.5l0.5 -2l0.5 -1l0.5 -1l0.5 2l0.5 1l0.5 3l0.5 1l0.5 2l0.5 1l0.5 1l0.5 1l0.5 2h1l0.5 2l0.5 1h0.5l0.5 2h0.5l0.5 1h2l0.5 2h2l0.5 -1l0.5 1l0.5 -1h0.5l0.5 -1l0.5 1h0.5l0.5 1h0.5l0.5 -1h3.5l0.5 -1l0.5 1l0.5 -1h1l0.5 1l0.5 -1l0.5 1l0.5 -1l0.5 1h0.5l0.5 1h0.5l0.5 -1h0.5l0.5 2l0.5 -1h3.5l0.5 -1h0.5l0.5 -1l0.5 -1h1l0.5 -2l0.5 -1h0.5l0.5 -2l0.5 -1l0.5 -1l0.5 -1l0.5 -2l0.5 -1l0.5 -1l0.5 -2l0.5 -1l0.5 -2l0.5 -2l0.5 -2l0.5 -3l0.5 -2l0.5 -3l0.5 -1l0.5 -3l0.5 1h0.5l0.5 4l0.5 2l0.5 2l0.5 2l0.5 3l0.5 2l0.5 2l0.5 2l0.5 2l0.5 1l0.5 1l0.5 1l0.5 1h0.5l0.5 1h0.5l0.5 1h0.5l0.5 2l0.5 -1l0.5 1h2l0.5 1h0.5l0.5 1h2l0.5 -1l0.5 1h0.5l0.5 -2h0.5l0.5 1l0.5 -1l0.5 -1h1l0.5 -1h0.5l0.5 -2l0.5 -1l0.5 -2l0.5 -1l0.5 -1l0.5 -2h0.5l0.5 -3h0.5l0.5 -2l0.5 -1l0.5 -1l0.5 -1l0.5 -1l0.5 -1h3.5l0.5 -1h1l0.5 -1l0.5 1l0.5 -1l0.5 1l0.5 -1h0.5l0.5 -1l0.5 -1l0.5 -2l0.5 -4l0.5 -3l0.5 -3l0.5 -4l0.5 -4l0.5 -5l0.5 -4l0.5 -4l0.5 -5l0.5 -5l0.5 -4l0.5 -3l0.5 1l0.5 4l0.5 4l0.5 3l0.5 4l0.5 3l0.5 3l0.5 3l0.5 2l0.5 3l0.5 1l0.5 1h0.5l0.5 1h1l0.5 -2l0.5 -1l0.5 -2l0.5 -1l0.5 -1h1.5l0.5 -1h0.5l0.5 8l0.5 9l0.5 3l0.5 4l0.5 2l0.5 4l0.5 2l0.5 4l0.5 2l0.5 2l0.5 2l0.5 2l0.5 2l0.5 2l0.5 -1h3.5l0.5 1l0.5 -2h0.5l0.5 -1l0.5 -1h1l0.5 -1l0.5 -1l0.5 -2h0.5l0.5 -2h0.5l0.5 -2l0.5 -2l0.5 -2h0.5l0.5 -4h0.5l0.5 -2l0.5 -2l0.5 -1l0.5 -2l0.5 -1l0.5 -2l0.5 -1h0.5l0.5 2l0.5 2l0.5 3l0.5 3l0.5 1l0.5 4l0.5 3l0.5 2l0.5 3l0.5 3l0.5 1l0.5 1l0.5 2l0.5 2l0.5 1l0.5 1l0.5 1l0.5 1l0.5 1l0.5 1h0.5l0.5 1l0.5 -1h2l0.5 1l0.5 -1h0.5l0.5 1l0.5 -1l0.5 2l0.5 -2l0.5 1h3.5l0.5 -1h1l0.5 -1h1.5l0.5 1l0.5 -1h1l0.5 1l0.5 -1l0.5 1h2.5l0.5 -1l0.5 -1l0.5 -1l0.5 -1l0.5 -2l0.5 -1l0.5 -1h0.5l0.5 -1h0.5l0.5 -1l0.5 -1h1.5l0.5 1h1l0.5 1l0.5 1h0.5l0.5 1l0.5 1l0.5 1h0.5l0.5 -1h2l0.5 -1h0.5l0.5 -1l0.5 -1h0.5l0.5 -1l0.5 -2l0.5 -2l0.5 -2l0.5 -2l0.5 -2l0.5 -2l0.5 -3l0.5 -3l0.5 -3l0.5 -4l0.5 -3l0.5 -4l0.5 -4l0.5 -4l0.5 -4l0.5 -4l0.5 -3l0.5 -5l0.5 -3l0.5 -5h0.5l0.5 3l0.5 2l0.5 4l0.5 3l0.5 4l0.5 3l0.5 4l0.5 4l0.5 4l0.5 3l0.5 4l0.5 3l0.5 2l0.5 4l0.5 2l0.5 2l0.5 -1l0.5 2h0.5l0.5 1l0.5 1h1l0.5 -1h0.5l0.5 -2l0.5 -1l0.5 -1l0.5 -1l0.5 -1h0.5l0.5 -2l0.5 -2l0.5 -1l0.5 -1l0.5 -1l0.5 -1l0.5 -1h1l0.5 -1l0.5 2l0.5 1l0.5 1l0.5 1l0.5 2l0.5 2h0.5l0.5 3l0.5 3h0.5l0.5 2l0.5 1h0.5l0.5 2l0.5 1h0.5l0.5 1h0.5l0.5 1l0.5 1h1l0.5 -1h1l0.5 -1l0.5 -1l0.5 -1h1l0.5 -1l0.5 -2l0.5 -1h0.5l0.5 -2l0.5 -1l0.5 -1l0.5 -1l0.5 -1l0.5 -1l0.5 -1h1l0.5 2l0.5 3l0.5 2l0.5 1l0.5 1l0.5 2l0.5 1l0.5 2h0.5l0.5 2l0.5 1l0.5 1l0.5 1l0.5 1h0.5l0.5 2h0.5l0.5 2l0.5 1h1l0.5 -1l0.5 2l0.5 -1h0.5l0.5 1l0.5 -1h0.5l0.5 1l0.5 -1h1l0.5 -1h0.5l0.5 -1h1l0.5 -2h0.5l0.5 -1l0.5 -1l0.5 -1l0.5 -1l0.5 -2l0.5 -1h0.5l0.5 -1h1.5l0.5 -1h1l0.5 -1h1l0.5 -1l0.5 -2l0.5 -1l0.5 -3l0.5 -2l0.5 -2l0.5 -3l0.5 -2l0.5 -2l0.5 -2l0.5 -1l0.5 -2l0.5 -3l0.5 -1l0.5 -2l0.5 -1l0.5 -2l0.5 -4l0.5 -2l0.5 -3l0.5 -2l0.5 -4l0.5 -3l0.5 -3l0.5 -3l0.5 -3l0.5 -3l0.5 -4l0.5 -3l0.5 -3l0.5 -2l0.5 -1l0.5 -3l0.5 -1h0.5l0.5 -1l0.5 1l0.5 2l0.5 2l0.5 2l0.5 1l0.5 2l0.5 2l0.5 2l0.5 1l0.5 3l0.5 1l0.5 3l0.5 2l0.5 3l0.5 1l0.5 3l0.5 2l0.5 3l0.5 2l0.5 3l0.5 2l0.5 3l0.5 4l0.5 4l0.5 4l0.5 3l0.5 2l0.5 -2l0.5 -3l0.5 -2l0.5 -3l0.5 -2l0.5 7l0.5 8l0.5 8l0.5 6l0.5 3l0.5 2l0.5 4l0.5 2l0.5 3l0.5 1l0.5 2l0.5 1l0.5 1h0.5l0.5 2l0.5 1l0.5 1h5l0.5 1l0.5 -1h0.5l0.5 1h0.5l0.5 -1l0.5 1l0.5 -1h4l0.5 -1l0.5 -1l0.5 1l0.5 -1l0.5 -1h1l0.5 -1l0.5 -1l0.5 1h0.5l0.5 1h1.5l0.5 1h2l0.5 1h1.5l0.5 1h1.5l0.5 1h1l0.5 1h2.5l0.5 1l0.5 -1h1l0.5 1l0.5 -1l0.5 1l0.5 -1l0.5 1l0.5 -1h3.5l0.5 1l0.5 -1h1l0.5 1h1l0.5 -1l0.5 1l0.5 -1h1.5l0.5 -1l0.5 -1h0.5l0.5 -1l0.5 -1l0.5 -1l0.5 -1h0.5l0.5 -2l0.5 -1l0.5 -2l0.5 -1l0.5 -2l0.5 -1l0.5 -2l0.5 -3l0.5 -3l0.5 -3l0.5 -3l0.5 -3l0.5 -3l0.5 -3l0.5 -4l0.5 -5l0.5 -5l0.5 -3l0.5 -6l0.5 -4l0.5 -3l0.5 -3l0.5 -2l0.5 -3l0.5 -2l0.5 -2l0.5 -1l0.5 1l0.5 1l0.5 1l0.5 2l0.5 5l0.5 4l0.5 4l0.5 5l0.5 6l0.5 4l0.5 5l0.5 4l0.5 4l0.5 4l0.5 3l0.5 4l0.5 3l0.5 3l0.5 2l0.5 2l0.5 3l0.5 2l0.5 2h0.5l0.5 1l0.5 1l0.5 1h0.5l0.5 1l0.5 1h0.5l0.5 -1h0.5l0.5 1h0.5l0.5 -1h2.5l0.5 1l0.5 -2h1.5l0.5 -1l0.5 -1h0.5l0.5 -1h0.5l0.5 -1l0.5 -1l0.5 -1h0.5l0.5 -1l0.5 -1h0.5l0.5 -1h0.5l0.5 -1l0.5 -2h0.5l0.5 -1l0.5 -1l0.5 -1l0.5 -1l0.5 -1l0.5 -1l0.5 -1l0.5 1h0.5l0.5 1h2.5l0.5 1h0.5l0.5 2h0.5l0.5 1l0.5 1l0.5 1l0.5 1l0.5 1l0.5 1l0.5 1l0.5 1h0.5l0.5 2l0.5 1l0.5 1l0.5 1h0.5l0.5 2h0.5l0.5 1h0.5l0.5 1h0.5l0.5 1h0.5l0.5 1h0.5l0.5 1h1l0.5 -1h4l0.5 -1h0.5l0.5 -1l0.5 1l0.5 -2l0.5 1l0.5 -1l0.5 -1h0.5l0.5 -1l0.5 -1l0.5 1l0.5 -1h0.5l0.5 -1h1l0.5 -1h0.5l0.5 -1h0.5l0.5 1l0.5 -1l0.5 1l0.5 1l0.5 1l0.5 1h0.5l0.5 1h0.5l0.5 2h1l0.5 1l0.5 1h1l0.5 1h1l0.5 1h2l0.5 1l0.5 -1l0.5 2h1l0.5 1h1l0.5 1l0.5 -1h1.5l0.5 1l0.5 -1h1l0.5 1l0.5 -1l0.5 1h0.5l0.5 -1l0.5 2l0.5 -1h0.5l0.5 1l0.5 -1l0.5 -1l0.5 1l0.5 -1l0.5 1h0.5l0.5 -1l0.5 1h0.5l0.5 -1l0.5 1h1l0.5 -1l0.5 1h0.5l0.5 -1l0.5 1l0.5 -1l0.5 1h0.5l0.5 -2l0.5 1h0.5l0.5 -1l0.5 1l0.5 1l0.5 -1h1.5l0.5 -1h0.5l0.5 1l0.5 -1h1.5l0.5 -1h0.5l0.5 -1l0.5 1h1.5l0.5 -1l0.5 1l0.5 -1h4l0.5 -1h1.5l0.5 -1h0.5l0.5 -1h0.5l0.5 -1l0.5 1h0.5l0.5 -1l0.5 1l0.5 -1h0.5l0.5 1h1.5l0.5 -1l0.5 1h0.5l0.5 -1l0.5 -1l0.5 2l0.5 -1l0.5 1l0.5 -2l0.5 -1h0.5l0.5 -1h0.5l0.5 -1l0.5 -1l0.5 -2h0.5l0.5 -1l0.5 -1h0.5l0.5 1l0.5 1h0.5l0.5 1h0.5l0.5 2h1.5l0.5 1h1.5l0.5 1l0.5 1l0.5 -1l0.5 -1h0.5l0.5 1l0.5 -1l0.5 -1l0.5 -2l0.5 -2l0.5 -1l0.5 -1l0.5 -1h1l0.5 -2l0.5 1l0.5 -1h0.5l0.5 -1h1l0.5 1h1.5l0.5 1h0.5l0.5 1h1l0.5 1h0.5l0.5 1h0.5l0.5 1h0.5l0.5 1h1.5l0.5 1h1l0.5 1h2l0.5 1l0.5 -1l0.5 1l0.5 -1h3l0.5 1l0.5 -2l0.5 1h5.5l0.5 -1h0.5l0.5 -1l0.5 -1h1.5l0.5 -1h0.5l0.5 -1l0.5 1h1l0.5 1h0.5l0.5 1l0.5 1h0.5l0.5 1h0.5l0.5 -1l0.5 1l0.5 1l0.5 1h1l0.5 1l0.5 -1l0.5 1h1l0.5 -1l0.5 1l0.5 -2h0.5l0.5 1l0.5 -1l0.5 -1h0.5l0.5 -1l0.5 -1h0.5l0.5 -1h1l0.5 -1l0.5 1l0.5 -1l0.5 1l0.5 -1l0.5 1l0.5 -1h0.5l0.5 -1l0.5 1l0.5 -1h1l0.5 -1h0.5l0.5 -1h1.5l0.5 -1h1.5l0.5 -1l0.5 2l0.5 -1h2l0.5 -1l0.5 -1l0.5 1l0.5 -1l0.5 -1h0.5l0.5 -2l0.5 2l0.5 -2h4.5l0.5 -1l0.5 1h1l0.5 1h0.5l0.5 1h1l0.5 1h0.5l0.5 1l0.5 2l0.5 1l0.5 2h1l0.5 2h0.5l0.5 1h0.5l0.5 1l0.5 1h0.5l0.5 1l0.5 1h0.5l0.5 1l0.5 2h0.5l0.5 1l0.5 1l0.5 1l0.5 1h2l0.5 1h1.5l0.5 1l0.5 -1l0.5 2l0.5 -1h0.5l0.5 1h1.5l0.5 -1h1l0.5 -1h1l0.5 -1h1.5l0.5 -1l0.5 1h1l0.5 -1l0.5 1l0.5 1h0.5l0.5 1l0.5 1l0.5 -1h0.5l0.5 1l0.5 -1l0.5 1h0.5l0.5 -1h2.5l0.5 1h0.5l0.5 -1h0.5l0.5 1l0.5 -1h2l0.5 -1l0.5 1l0.5 -1h0.5l0.5 -1h1l0.5 -1h0.5l0.5 -1h0.5l0.5 1l0.5 -2h1.5l0.5 -1h2l0.5 1h0.5l0.5 1h0.5l0.5 1h1l0.5 1h0.5l0.5 1h0.5l0.5 1h0.5l0.5 -1h0.5l0.5 1h1l0.5 -1l0.5 1h1l0.5 1l0.5 -1l0.5 1h2l0.5 1l0.5 1h1.5l0.5 1h1l0.5 1h0.5l0.5 -1l0.5 1h1l0.5 -1h0.5l0.5 -1h0.5l0.5 -1h2.5l0.5 -1l0.5 1h2.5l0.5 1h0.5l0.5 -1h0.5l0.5 1h1.5l0.5 -1l0.5 1h1.5l0.5 -1l0.5 1h0.5l0.5 -1l0.5 1h2l0.5 1l0.5 -1h2.5l0.5 1l0.5 -1l0.5 1h2l0.5 -1h2.5l0.5 -1l0.5 2l0.5 -1l0.5 -1h3l0.5 -1h2l0.5 1l0.5 -1h0.5l0.5 1l0.5 -1l0.5 1l0.5 -1l0.5 1h1.5l0.5 -1l0.5 1h0.5l0.5 1l0.5 -2l0.5 1h1l0.5 -1l0.5 1h0.5l0.5 -1h0.5l0.5 1h3l0.5 1h0.5l0.5 1l0.5 -1l0.5 1h0.5l0.5 -1l0.5 1h1l0.5 1h0.5l0.5 -1l0.5 1h0.5l0.5 -1l0.5 1h0.5l0.5 -1h1.5l0.5 1l0.5 -2l0.5 1h1l0.5 -1l0.5 1l0.5 -1h2.5l0.5 -1l0.5 2l0.5 -1h0.5l0.5 1h1.5l0.5 1h3l0.5 -1l0.5 1l0.5 1l0.5 -1l0.5 1h0.5l0.5 -1l0.5 1h1l0.5 1l0.5 -1h4.5l0.5 -1l0.5 1l0.5 -1l0.5 1l0.5 -1h0.5l0.5 -1h1l0.5 -1h0.5l0.5 -1h1.5l0.5 -1h1l0.5 -1l0.5 2l0.5 -1h1l0.5 1h1l0.5 1h1.5l0.5 1h0.5l0.5 1l0.5 -1l0.5 1h0.5l0.5 -1h2.5l0.5 -1h1l0.5 -1l0.5 1h0.5l0.5 -1h0.5l0.5 1h1.5l0.5 1l0.5 -2l0.5 1h1l0.5 -1l0.5 1l0.5 -1h2l0.5 1l0.5 -1h0.5l0.5 -1l0.5 2l0.5 -1h1l0.5 1h0.5l0.5 -1l0.5 1h1l0.5 1h0.5l0.5 -1l0.5 1h1.5l0.5 1l0.5 -1h0.5l0.5 1h2l0.5 -1l0.5 1h2.5l0.5 1h1.5l0.5 -1h1l0.5 1h0.5l0.5 -1h1l0.5 -1l0.5 2l0.5 -1h1l0.5 -1l0.5 1l0.5 -1h2.5l0.5 -1h0.5l0.5 1h1.5l0.5 -1h0.5l0.5 1l0.5 -1h1.5l0.5 -1l0.5 1l0.5 1l0.5 -1l0.5 -1h0.5l0.5 1h0.5l0.5 -1l0.5 1h0.5l0.5 -1h1l0.5 -1h0.5l0.5 1h1l0.5 -1l0.5 1l0.5 -1l0.5 1h0.5l0.5 -1h0.5l0.5 1h0.5l0.5 -1h5.5l0.5 -1h0.5l0.5 -1l0.5 1l0.5 -1h0.5l0.5 -1l0.5 1l0.5 -1h0.5l0.5 1h5l0.5 1h0.5l0.5 1l0.5 -1h0.5l0.5 2l0.5 -1l0.5 1h0.5l0.5 1l0.5 -1l0.5 1l0.5 1l0.5 -1l0.5 1l0.5 -1l0.5 -2l0.5 1h1.5l0.5 -1l0.5 -1h1l0.5 -1l0.5 1l0.5 -1l0.5 -1l0.5 1h1.5l0.5 -1h1.5l0.5 -1h1l0.5 -1h0.5l0.5 -1h2l0.5 1l0.5 -1l0.5 1h1l0.5 1l0.5 -1l0.5 2l0.5 -2l0.5 2h1l0.5 1h0.5l0.5 1h1.5l0.5 1l0.5 -1h0.5l0.5 1h2.5l0.5 1h3.5l0.5 1l0.5 -1l0.5 1h0.5l0.5 1h0.5l0.5 -1h0.5l0.5 2l0.5 -3l0.5 2h1l0.5 -1h2l0.5 -1h1.5l0.5 -1h1.5l0.5 1l0.5 -1l0.5 1h3l0.5 1l0.5 -1h0.5l0.5 1h0.5l0.5 1h0.5l0.5 1h1l0.5 1l0.5 -1l0.5 1h3l0.5 1h0.5l0.5 -1l0.5 1l0.5 -2l0.5 1h1l0.5 1l0.5 -1h1l0.5 1l0.5 -1h1.5l0.5 -1h1.5l0.5 1l0.5 -1h1l0.5 -1l0.5 1h1.5l0.5 -1l0.5 1l0.5 -1h1l0.5 -1l0.5 -1h0.5l0.5 -1l0.5 -1h4.5l0.5 -1h2.5l0.5 -1h0.5l0.5 1l0.5 -1h1l0.5 1l0.5 -1l0.5 1h1l0.5 1l0.5 -1l0.5 1h1.5l0.5 1h0.5l0.5 1l0.5 1h0.5l0.5 1h1l0.5 1h0.5l0.5 1h1l0.5 1l0.5 -1l0.5 1l0.5 1h1.5l0.5 1h4l0.5 -1h0.5l0.5 -1h0.5l0.5 1l0.5 -1l0.5 1l0.5 -1h1l0.5 -1l0.5 1h3l0.5 -1l0.5 1h0.5l0.5 -1l0.5 1h1.5l0.5 -1h0.5l0.5 1l0.5 -1h0.5l0.5 1h0.5l0.5 -1h2l0.5 1l0.5 -1h2.5l0.5 1h0.5l0.5 -1h0.5l0.5 -1l0.5 1l0.5 -1h2.5l0.5 -1l0.5 1l0.5 -1h1l0.5 -1l0.5 1h0.5l0.5 1l0.5 -1h0.5l0.5 -1l0.5 -1l0.5 -1l0.5 -1h0.5l0.5 -1h0.5l0.5 -1l0.5 -1h0.5l0.5 -2h1l0.5 -1l0.5 -1l0.5 -1h0.5l0.5 -1l0.5 -1h1l0.5 1l0.5 1l0.5 1h0.5l0.5 1h0.5l0.5 1l0.5 1l0.5 1h0.5l0.5 1h1l0.5 1l0.5 1l0.5 1h1.5l0.5 1l0.5 -1h1l0.5 -1l0.5 1l0.5 -1h1.5l0.5 -1l0.5 1h1.5l0.5 -1l0.5 1l0.5 -1h1l0.5 -1h2l0.5 1h2.5l0.5 1l0.5 1l0.5 -1l0.5 1h2l0.5 1h0.5l0.5 1h4.5l0.5 1h2l0.5 1h2l0.5 1h1l0.5 1h3l0.5 1l0.5 -1h1.5l0.5 -1l0.5 1h1l0.5 1h1l0.5 1h1.5l0.5 1l0.5 -1h1l0.5 1h0.5l0.5 -1l0.5 1h0.5l0.5 -1l0.5 1h0.5l0.5 -1l0.5 1h2.5l0.5 1h1l0.5 -1h1.5l0.5 -1h0.5l0.5 1l0.5 -1h2l0.5 -1l0.5 1h2.5l0.5 1l0.5 -1h0.5l0.5 1h3.5l0.5 -1l0.5 1h0.5l0.5 1l0.5 -1h1.5l0.5 1h1l0.5 -1h0.5l0.5 1l0.5 -1h1.5l0.5 -1l0.5 1l0.5 -1h1.5l0.5 -1h0.5l0.5 -1h1l0.5 1l0.5 -2l0.5 1h0.5l0.5 1h1l0.5 1l0.5 -1h0.5l0.5 1l0.5 -1l0.5 1h0.5l0.5 -1l0.5 1h1.5l0.5 -1h0.5l0.5 1l0.5 -1l0.5 -1l0.5 1h0.5l0.5 1h1.5l0.5 1h2.5l0.5 -1l0.5 1h0.5l0.5 -1h1.5l0.5 1l0.5 -1h1l0.5 -1l0.5 1h0.5l0.5 1h1l0.5 -1h0.5l0.5 1l0.5 -1h1" stroke="#0000ff" stroke-width="7"/>
<path class="c" d="M203 919h1l0.5 -1l0.5 1h0.5l0.5 -1h0.5l0.5 1l0.5 -1l0.5 1h1.5l0.5 1h2.5l0.5 1l0.5 -1h2l0.5 -2l0.5 1h2.5l0.5 2l0.5 -1h1l0.5 1h1l0.5 1l0.5 -1l0.5 1h0.5l0.5 1h1.5l0.5 -1l0.5 1l0.5 1l0.5 -1h2.5l0.5 1l0.5 -1l0.5 1h2.5l0.5 1h0.5l0.5 1h3.5l0.5 1l0.5 -1h1l0.5 1l0.5 -1h0.5l0.5 1l0.5 -1h0.5l0.5 1h1l0.5 -1l0.5 1h0.5l0.5 -1l0.5 1h0.5l0.5 -1h0.5l0.5 1l0.5 -1l0.5 1h4l0.5 1l0.5 -2l0.5 1h0.5l0.5 1l0.5 -1h1l0.5 1h0.5l0.5 -1h1.5l0.5 1h1.5l0.5 1h3l0.5 1l0.5 -1h0.5l0.5 -1l0.5 1l0.5 -1h0.5l0.5 1l0.5 -1l0.5 -1l0.5 1h0.5l0.5 -1l0.5 1h2l0.5 -1l0.5 -1h1l0.5 -1l0.5 1l0.5 -1l0.5 1h1l0.5 1l0.5 -1l0.5 1l0.5 1h1.5l0.5 1h0.5l0.5 1l0.5 -1h0.5l0.5 1l0.5 -1h0.5l0.5 1h1.5l0.5 1h2.5l0.5 1h0.5l0.5 -1l0.5 1l0.5 -1l0.5 1l0.5 -1h1.5l0.5 -1h1l0.5 1l0.5 -1h2l0.5 -1h2.5l0.5 -1l0.5 1l0.5 -1l0.5 -1l0.5 -1h0.5l0.5 -1h0.5l0.5 -2h1.5l0.5 -1h0.5l0.5 -1l0.5 -1h1l0.5 -1l0.5 -1l0.5 -1h1l0.5 -2h0.5l0.5 -3h0.5l0.5 -1l0.5 -1l0.5 -1l0.5 -1l0.5 -2l0.5 -1l0.5 -2l0.5 -2l0.5 -1l0.5 -3l0.5 -2l0.5 -3l0.5 -2l0.5 -3l0.5 -2l0.5 -3l0.5 -3l0.5 -3l0.5 -3l0.5 -4l0.5 -2l0.5 -2l0.5 -2l0.5 -1l0.5 -2l0.5 -1l0.5 -1l0.5 2l0.5 2l0.5 4l0.5 3l0.5 4l0.5 5l0.5 5l0.5 6l0.5 5l0.5 4l0.5 2l0.5 3l0.5 3l0.5 2l0.5 3l0.5 3l0.5 1l0.5 2l0.5 2l0.5 1l0.5 1l0.5 2l0.5 1l0.5 1l0.5 1l0.5 1l0.5 2h1l0.5 2h0.5l0.5 1h0.5l0.5 -1l0.5 1l0.5 -1l0.5 1h3l0.5 1l0.5 -1l0.5 1l0.5 1l0.5 -1l0.5 1h0.5l0.5 1h1.5l0.5 1h1l0.5 1l0.5 1h2l0.5 -1l0.5 -1h0.5l0.5 -1h1l0.5 -1l0.5 -1l0.5 1h1l0.5 1h1l0.5 -1l0.5 1h1l0.5 -1h0.5l0.5 -1h1l0.5 -1h1l0.5 -1h0.5l0.5 -1h0.5l0.5 -1l0.5 -1h0.5l0.5 -1l0.5 -1l0.5 -1h0.5l0.5 -1l0.5 -1l0.5 -3l0.5 -1l0.5 -2l0.5 -2l0.5 -3l0.5 -2l0.5 -5l0.5 -4l0.5 -6l0.5 -5l0.5 -5l0.5 -2l0.5 -3l0.5 -1l0.5 -2l0.5 -1l0.5 -1l0.5 -2l0.5 -1l0.5 -1l0.5 4l0.5 6l0.5 5l0.5 5l0.5 5l0.5 6l0.5 5l0.5 6l0.5 4l0.5 4l0.5 3l0.5 2l0.5 4h0.5l0.5 1l0.5 2h0.5l0.5 1l0.5 1l0.5 1h0.5l0.5 1h1l0.5 1h3.5l0.5 1l0.5 -1l0.5 1h1l0.5 -1h0.5l0.5 1l0.5 -1h0.5l0.5 -1l0.5 1l0.5 -1h2l0.5 1l0.5 1l0.5 -1l0.5 1l0.5 1h0.5l0.5 1l0.5 -1h1.5l0.5 -1h0.5l0.5 1l0.5 -1l0.5 1l0.5 -1h1.5l0.5 -1l0.5 1h1.5l0.5 1l0.5 -1l0.5 1h0.5l0.5 1h2l0.5 1h0.5l0.5 -1l0.5 1l0.5 -1l0.5 1l0.5 -1h0.5l0.5 -1h0.5l0.5 -1h0.5l0.5 -1h1l0.5 1h1.5l0.5 2l0.5 -1h0.5l0.5 1h0.5l0.5 1h2.5l0.5 1l0.5 -1h2.5l0.5 -1h0.5l0.5 1h0.5l0.5 -1l0.5 1l0.5 -1h1l0.5 -1h4l0.5 -1h1l0.5 -1l0.5 1l0.5 -1h0.5l0.5 -1h1.5l0.5 -1l0.5 1l0.5 -2h0.5l0.5 -1l0.5 -1l0.5 -1l0.5 -1h0.5l0.5 -2h0.5l0.5 -1l0.5 -2l0.5 1l0.5 -1l0.5 -2l0.5 -1h0.5l0.5 -1l0.5 -1h2l0.5 1l0.5 1l0.5 1l0.5 1l0.5 3h0.5l0.5 1l0.5 1l0.5 1h0.5l0.5 1h0.5l0.5 2h0.5l0.5 -2l0.5 1h0.5l0.5 -1h0.5l0.5 -1l0.5 1l0.5 -1l0.5 1h0.5l0.5 1l0.5 1l0.5 1l0.5 1l0.5 1h0.5l0.5 1l0.5 1l0.5 1l0.5 1l0.5 1h1.5l0.5 1l0.5 1l0.5 -1l0.5 1h0.5l0.5 1l0.5 -1h1l0.5 1h0.5l0.5 -1h3l0.5 -1l0.5 1h0.5l0.5 -1h2.5l0.5 -1l0.5 1h0.5l0.5 1l0.5 -1h1l0.5 1l0.5 -1l0.5 2l0.5 -1h0.5l0.5 1h0.5l0.5 1l0.5 -1l0.5 1h0.5l0.5 -1h1l0.5 -1l0.5 1l0.5 -2h2l0.5 -1h2l0.5 -1h1.5l0.5 -1h1.5l0.5 1l0.5 -1h1l0.5 1l0.5 1l0.5 -1l0.5 1h2l0.5 1h3.5l0.5 -1l0.5 1h1l0.5 -1h0.5l0.5 1h7l0.5 -1h1.5l0.5 -1l0.5 -1l0.5 -2h0.5l0.5 -1l0.5 -2l0.5 -1l0.5 -1l0.5 -1l0.5 -1h0.5l0.5 -3h0.5l0.5 -2l0.5 -2l0.5 -1l0.5 -1l0.5 -1h1l0.5 3l0.5 1l0.5 2l0.5 1l0.5 3l0.5 1l0.5 2h0.5l0.5 2l0.5 2h0.5l0.5 1l0.5 -1l0.5 1h0.5l0.5 1l0.5 -1l0.5 2l0.5 -1h1l0.5 1l0.5 -1l0.5 -1h1.5l0.5 -1l0.5 1h0.5l0.5 -1h2l0.5 1l0.5 1h1l0.5 1l0.5 1h1l0.5 1h2.5l0.5 1h2.5l0.5 1h3.5l0.5 1l0.5 -1h1l0.5 -1h1l0.5 -1h0.5l0.5 1l0.5 -1h0.5l0.5 1l0.5 -2h0.5l0.5 -1h0.5l0.5 -1l0.5 1l0.5 -1l0.5 1l0.5 1l0.5 1h0.5l0.5 1h0.5l0.5 1l0.5 -1l0.5 1l0.5 -1h1.5l0.5 1l0.5 -1h0.5l0.5 -1h1l0.5 1l0.5 -1l0.5 1l0.5 -1l0.5 1h1.5l0.5 1h2l0.5 1h1l0.5 -1h2.5l0.5 -1h1.5l0.5 -1l0.5 1l0.5 -1h1.5l0.5 -1l0.5 1l0.5 -1h0.5l0.5 -1h0.5l0.5 1l0.5 -2l0.5 1l0.5 -1h1.5l0.5 -1l0.5 -1l0.5 1l0.5 -1h4l0.5 -1h0.5l0.5 -1h0.5l0.5 -1h0.5l0.5 -1l0.5 -1h0.5l0.5 -2l0.5 -1h0.5l0.5 -1l0.5 -2l0.5 -1l0.5 -1l0.5 -2l0.5 -1l0.5 -2l0.5 -1l0.5 -1l0.5 -2l0.5 -2h0.5l0.5 -1l0.5 2l0.5 2l0.5 2l0.5 2l0.5 1l0.5 2l0.5 1l0.5 2h0.5l0.5 2l0.5 1h0.5l0.5 -1l0.5 1l0.5 -1l0.5 -1h1l0.5 -1l0.5 -1l0.5 -3l0.5 -2l0.5 -3l0.5 -2l0.5 -3l0.5 -2l0.5 -4l0.5 -3l0.5 -3l0.5 -2l0.5 -1l0.5 -3l0.5 -1l0.5 -2l0.5 -1l0.5 -1l0.5 -1l0.5 -1l0.5 1l0.5 2l0.5 3l0.5 3l0.5 3l0.5 4l0.5 3l0.5 4l0.5 3l0.5 3l0.5 3l0.5 3l0.5 1l0.5 3l0.5 1l0.5 3l0.5 1l0.5 2l0.5 1h0.5l0.5 2h1l0.5 1l0.5 -1l0.5 2h1.5l0.5 1h0.5l0.5 1l0.5 1h1.5l0.5 1l0.5 -1l0.5 1h1l0.5 1l0.5 -1h0.5l0.5 1h1l0.5 1l0.5 -1l0.5 1h0.5l0.5 -1l0.5 1l0.5 -1h2l0.5 1l0.5 -1h1l0.5 -1h0.5l0.5 1h1l0.5 -1l0.5 1l0.5 -1l0.5 1h1l0.5 1h1l0.5 -1l0.5 1h5l0.5 1h3l0.5 1l0.5 -1h1l0.5 -1h1.5l0.5 -1h1l0.5 -1l0.5 1h0.5l0.5 -1h4l0.5 1h0.5l0.5 -1l0.5 1h0.5l0.5 -1h1l0.5 -1h0.5l0.5 -1h0.5l0.5 -1h0.5l0.5 -1h1l0.5 -1h0.5l0.5 -1l0.5 -1l0.5 -1l0.5 -1h0.5l0.5 -2h0.5l0.5 -1l0.5 -1l0.5 -2l0.5 -1l0.5 -3l0.5 -2l0.5 -2l0.5 -2l0.5 -2l0.5 1h0.5l0.5 1l0.5 1l0.5 2h0.5l0.5 1l0.5 1l0.5 2l0.5 1l0.5 1l0.5 1l0.5 1l0.5 2l0.5 1h0.5l0.5 3h0.5l0.5 1l0.5 1l0.5 2h0.5l0.5 1l0.5 1l0.5 1h0.5l0.5 1h4l0.5 1l0.5 -1h0.5l0.5 1h0.5l0.5 -1h0.5l0.5 -1h1l0.5 -1h0.5l0.5 -1l0.5 -1l0.5 -1l0.5 -1l0.5 -1h0.5l0.5 1h0.5l0.5 1l0.5 2h0.5l0.5 1l0.5 1h6.5l0.5 -1h1.5l0.5 1l0.5 -1h1.5l0.5 -1l0.5 1h1l0.5 1l0.5 -1l0.5 -1h1l0.5 1l0.5 -1l0.5 -1l0.5 1h1l0.5 -1h1l0.5 -1l0.5 1l0.5 -1h1.5l0.5 -1h1.5l0.5 -2h1l0.5 -1h0.5l0.5 -1h0.5l0.5 -2l0.5 -1l0.5 -1l0.5 -1l0.5 -1h0.5l0.5 -1l0.5 -1h1l0.5 -1l0.5 1l0.5 1l0.5 2l0.5 1l0.5 1l0.5 1h1l0.5 2h1l0.5 1l0.5 1l0.5 -1l0.5 1l0.5 -1l0.5 1h2l0.5 -1h0.5l0.5 -1h0.5l0.5 1h0.5l0.5 -1l0.5 1l0.5 1h0.5l0.5 -1h0.5l0.5 2l0.5 -1l0.5 1l0.5 -1h0.5l0.5 -1h0.5l0.5 -1l0.5 1l0.5 -1h3l0.5 1h0.5l0.5 1h1.5l0.5 1l0.5 -1l0.5 1h0.5l0.5 -1h3.5l0.5 -1h1l0.5 1l0.5 -1h1l0.5 -1h0.5l0.5 -1h2l0.5 -1l0.5 1l0.5 -1l0.5 -1l0.5 1l0.5 -1h0.5l0.5 -1h1l0.5 -1h0.5l0.5 -1l0.5 -1h1l0.5 -1l0.5 -1h0.5l0.5 -1h1l0.5 -2l0.5 1l0.5 -1h0.5l0.5 -1l0.5 -1h0.5l0.5 -1h0.5l0.5 -2h1l0.5 -2h0.5l0.5 -1l0.5 -1l0.5 -1h1l0.5 -1h0.5l0.5 -1l0.5 1h0.5l0.5 1l0.5 -1l0.5 -1h1l0.5 -1l0.5 1h0.5l0.5 -1h1.5l0.5 -1l0.5 -1l0.5 1h0.5l0.5 -1h2l0.5 -1h0.5l0.5 -1l0.5 -1h0.5l0.5 -2h0.5l0.5 -1l0.5 -3l0.5 -3l0.5 -2l0.5 -5l0.5 -3l0.5 -4l0.5 -7l0.5 -8l0.5 -7l0.5 -8l0.5 -8l0.5 -8l0.5 -10l0.5 -10l0.5 -9l0.5 -7l0.5 -7l0.5 -6l0.5 -7l0.5 -5l0.5 -3l0.5 -2l0.5 -2l0.5 -3l0.5 -1l0.5 -2l0.5 -1l0.5 -2l0.5 -1l0.5 -1l0.5 1l0.5 3l0.5 1l0.5 3l0.5 2l0.5 3l0.5 2l0.5 4l0.5 5l0.5 11l0.5 12l0.5 11l0.5 10l0.5 9l0.5 9l0.5 4l0.5 4l0.5 3l0.5 2l0.5 -1l0.5 1h0.5l0.5 1l0.5 -1l0.5 1l0.5 -1l0.5 1l0.5 1l0.5 1l0.5 1l0.5 -1l0.5 2h0.5l0.5 3l0.5 3l0.5 3l0.5 5l0.5 5l0.5 5l0.5 7l0.5 7l0.5 8l0.5 3l0.5 4l0.5 4l0.5 4l0.5 2l0.5 1l0.5 2h0.5l0.5 1l0.5 1l0.5 1h0.5l0.5 1h1l0.5 1h0.5l0.5 1h0.5l0.5 1h1l0.5 1l0.5 -1h0.5l0.5 -1h1l0.5 1l0.5 1l0.5 1l0.5 1h0.5l0.5 2h0.5l0.5 1l0.5 1h0.5l0.5 1l0.5 1l0.5 1h1l0.5 1h0.5l0.5 -1h0.5l0.5 1l0.5 -1h1.5l0.5 -1l0.5 1h2l0.5 1h1l0.5 1h0.5l0.5 1h0.5l0.5 1l0.5 -1l0.5 1l0.5 1l0.5 -1h0.5l0.5 1h2l0.5 -1h0.5l0.5 1h0.5l0.5 -1h3l0.5 -1h1.5l0.5 -1l0.5 1h1l0.5 -1l0.5 1l0.5 -2h0.5l0.5 -1l0.5 -1l0.5 -2h0.5l0.5 -1l0.5 1l0.5 1l0.5 1l0.5 1h0.5l0.5 2l0.5 1l0.5 1h0.5l0.5 1l0.5 1l0.5 1l0.5 1h0.5l0.5 1l0.5 -1h0.5l0.5 1l0.5 -1h3l0.5 -1l0.5 -1l0.5 -2l0.5 -1l0.5 -1l0.5 -2h0.5l0.5 -1h0.5l0.5 -1l0.5 2l0.5 1l0.5 2h0.5l0.5 3l0.5 1h0.5l0.5 1h0.5l0.5 1l0.5 1l0.5 1h1l0.5 1h1l0.5 1h0.5l0.5 1h1l0.5 1h1.5l0.5 -1l0.5 2l0.5 -1l0.5 1h3l0.5 -1h0.5l0.5 -1l0.5 -1h0.5l0.5 -1h1l0.5 -1l0.5 -1l0.5 -1l0.5 -1h0.5l0.5 -2l0.5 -2h0.5l0.5 -1l0.5 -2l0.5 -2l0.5 -1l0.5 -1l0.5 -2l0.5 -1l0.5 -1h0.5l0.5 -1l0.5 -1l0.5 2h0.5l0.5 2l0.5 2l0.5 1l0.5 2l0.5 2h0.5l0.5 3l0.5 1l0.5 2l0.5 1h0.5l0.5 1l0.5 2h0.5l0.5 1l0.5 1h1.5l0.5 1h3l0.5 1l0.5 -1l0.5 1h1.5l0.5 -1l0.5 1l0.5 -1h1l0.5 -1l0.5 1l0.5 -1h1l0.5 -1l0.5 -1l0.5 -1l0.5 -2l0.5 -1l0.5 -1l0.5 -1l0.5 -1h0.5l0.5 -1h0.5l0.5 -2h1l0.5 -1l0.5 1l0.5 -1h0.5l0.5 -1h0.5l0.5 -1h1l0.5 -1h0.5l0.5 -1h0.5l0.5 -1l0.5 -1h0.5l0.5 -2l0.5 -1l0.5 -2l0.5 -1l0.5 -2l0.5 -2l0.5 -2l0.5 -2l0.5 -4l0.5 -3l0.5 -4l0.5 -3l0.5 -2l0.5 -2l0.5 -3l0.5 -1l0.5 -2l0.5 2l0.5 3l0.5 3l0.5 2l0.5 2l0.5 2l0.5 2l0.5 2l0.5 2l0.5 2l0.5 1l0.5 1h1.5l0.5 1h2l0.5 -1h1l0.5 -1l0.5 1l0.5 -1l0.5 3l0.5 4l0.5 3l0.5 2l0.5 3l0.5 2l0.5 3h0.5l0.5 2l0.5 2l0.5 2h0.5l0.5 2l0.5 1l0.5 1h0.5l0.5 1h1l0.5 -1h0.5l0.5 -1l0.5 -1h0.5l0.5 -1h0.5l0.5 -1h0.5l0.5 -1l0.5 -1l0.5 -1l0.5 -1l0.5 -1l0.5 -1h1l0.5 -1l0.5 -2h0.5l0.5 -1h1l0.5 -1h1l0.5 1l0.5 -1l0.5 1l0.5 1l0.5 1l0.5 2l0.5 1l0.5 2l0.5 1l0.5 2l0.5 1l0.5 1l0.5 2l0.5 2l0.5 1l0.5 1l0.5 1l0.5 1l0.5 1l0.5 1h0.5l0.5 1h0.5l0.5 1h0.5l0.5 1h2l0.5 1h0.5l0.5 1h0.5l0.5 -1l0.5 1h8.5l0.5 -1h0.5l0.5 1l0.5 -1h2l0.5 -1l0.5 1h2.5l0.5 -1l0.5 1l0.5 -1l0.5 -1h0.5l0.5 -1l0.5 1l0.5 -2h3.5l0.5 1h0.5l0.5 -1l0.5 1h0.5l0.5 1h0.5l0.5 -1h0.5l0.5 -1l0.5 -1h0.5l0.5 -1l0.5 -1h0.5l0.5 -1l0.5 -1l0.5 -2l0.5 -1l0.5 -2l0.5 -1l0.5 -3l0.5 -1l0.5 -2l0.5 -2l0.5 -2l0.5 -3l0.5 -3l0.5 -3l0.5 -3l0.5 -3l0.5 -3l0.5 -2l0.5 -1l0.5 -3l0.5 -2l0.5 -1l0.5 -2l0.5 1l0.5 2l0.5 3l0.5 2l0.5 3l0.5 2l0.5 4l0.5 2l0.5 3l0.5 3l0.5 2l0.5 1l0.5 3l0.5 2l0.5 2l0.5 1h0.5l0.5 1h1l0.5 1l0.5 -1h0.5l0.5 1h1.5l0.5 -1l0.5 -2l0.5 -1l0.5 -1l0.5 -1l0.5 -2l0.5 -1h1.5l0.5 -1h1l0.5 -1h0.5l0.5 -1l0.5 2h0.5l0.5 2l0.5 2l0.5 1l0.5 1l0.5 1l0.5 2l0.5 2h0.5l0.5 2l0.5 2h0.5l0.5 2l0.5 1l0.5 1h0.5l0.5 -1h1l0.5 -1h0.5l0.5 -1h1l0.5 -1h1l0.5 -1l0.5 -2h0.5l0.5 -1l0.5 -1h0.5l0.5 -2l0.5 -1l0.5 -1l0.5 -1l0.5 -1h0.5l0.5 -1l0.5 1l0.5 1l0.5 3l0.5 1l0.5 3l0.5 1l0.5 1l0.5 2l0.5 1h0.5l0.5 2h0.5l0.5 2h0.5l0.5 2h0.5l0.5 1h0.5l0.5 1h1.5l0.5 1h1l0.5 -1h0.5l0.5 -1h0.5l0.5 -1h0.5l0.5 -1l0.5 -1l0.5 -1l0.5 -1l0.5 1l0.5 -1l0.5 -1h1l0.5 -2h1l0.5 -1l0.5 1l0.5 -1h0.5l0.5 -1h0.5l0.5 1l0.5 -1l0.5 1l0.5 -1l0.5 -2l0.5 1l0.5 -1l0.5 -1l0.5 -2l0.5 -1l0.5 -1l0.5 -1l0.5 -2l0.5 -1l0.5 -2l0.5 -1l0.5 -1l0.5 -1l0.5 -2l0.5 -1l0.5 -2l0.5 -1l0.5 -2l0.5 -2l0.5 -2h0.5l0.5 -3l0.5 -2l0.5 -2l0.5 -2l0.5 -2l0.5 -2l0.5 -3l0.5 -2l0.5 -2l0.5 -3h1l0.5 -3l0.5 -1l0.5 -2l0.5 -1l0.5 -1l0.5 -2h0.5l0.5 -1h0.5l0.5 -1l0.5 4l0.5 3l0.5 2l0.5 3l0.5 3l0.5 2l0.5 2l0.5 3l0.5 2l0.5 1l0.5 4l0.5 2l0.5 3l0.5 2l0.5 3l0.5 3l0.5 2l0.5 2l0.5 2h0.5l0.5 1h2l0.5 1h0.5l0.5 2l0.5 4l0.5 3l0.5 3l0.5 3l0.5 4h0.5l0.5 3l0.5 1l0.5 2l0.5 1l0.5 1h0.5l0.5 2l0.5 -1l0.5 1h1.5l0.5 1h2.5l0.5 -1h0.5l0.5 1h0.5l0.5 -1h2l0.5 -1h0.5l0.5 -1l0.5 1l0.5 -1l0.5 1h1l0.5 1h3.5l0.5 1h1l0.5 -1l0.5 1h0.5l0.5 1l0.5 -1l0.5 1h1l0.5 1h3.5l0.5 1h1.5l0.5 1l0.5 -1h4.5l0.5 1h1.5l0.5 1l0.5 -1h0.5l0.5 1l0.5 -1l0.5 1l0.5 -1h1.5l0.5 -1h3l0.5 -1l0.5 1l0.5 -1h1l0.5 -1h1l0.5 -1h1l0.5 -1l0.5 -1l0.5 -1h1l0.5 -2h0.5l0.5 -2l0.5 -1l0.5 -2l0.5 -1l0.5 -1l0.5 -1l0.5 -3l0.5 -3l0.5 -2l0.5 -3l0.5 -2l0.5 -3l0.5 -4l0.5 -3l0.5 -3l0.5 -2l0.5 -4l0.5 -2l0.5 -2l0.5 -1l0.5 -2l0.5 -1l0.5 -1l0.5 1l0.5 2l0.5 2l0.5 1l0.5 2l0.5 4l0.5 3l0.5 3l0.5 3l0.5 3l0.5 4l0.5 4l0.5 1l0.5 4l0.5 3l0.5 2l0.5 2l0.5 2l0.5 2l0.5 2l0.5 1l0.5 1l0.5 2h0.5l0.5 1h10l0.5 -2l0.5 1l0.5 -1h1l0.5 -1h0.5l0.5 -1l0.5 -1l0.5 -1l0.5 -1h0.5l0.5 -1h0.5l0.5 -1l0.5 -1h0.5l0.5 -1h2l0.5 -1h1l0.5 -1h1l0.5 -1h2l0.5 1l0.5 2l0.5 2l0.5 2l0.5 1l0.5 1l0.5 1h0.5l0.5 2l0.5 -1l0.5 1h0.5l0.5 1l0.5 1l0.5 -1l0.5 2l0.5 -1l0.5 1l0.5 1h1.5l0.5 1h1l0.5 1h2l0.5 1l0.5 -1l0.5 1h0.5l0.5 -1h0.5l0.5 -1l0.5 1l0.5 -1l0.5 1l0.5 -1l0.5 -1l0.5 1l0.5 -1h1l0.5 -1h2.5l0.5 -1h0.5l0.5 1l0.5 -1l0.5 1l0.5 -2l0.5 1h0.5l0.5 -1l0.5 1h2l0.5 1h0.5l0.5 1h1.5l0.5 1h1l0.5 1l0.5 1h2l0.5 1h0.5l0.5 1h1l0.5 1h0.5l0.5 -1l0.5 2l0.5 -1h0.5l0.5 1l0.5 1l0.5 -1h2l0.5 1h3.5l0.5 -1h0.5l0.5 -1l0.5 1l0.5 -1l0.5 -1h6.5l0.5 1h0.5l0.5 -1l0.5 2h1l0.5 -1h0.5l0.5 1h0.5l0.5 -1l0.5 1l0.5 -1l0.5 1h0.5l0.5 -1h1l0.5 -1h0.5l0.5 1l0.5 -1h1l0.5 -1h2.5l0.5 -1l0.5 1h3l0.5 -1h0.5l0.5 -1l0.5 1l0.5 1l0.5 -2h1.5l0.5 1l0.5 -1h4l0.5 -1h2l0.5 -1l0.5 1h0.5l0.5 -1h1l0.5 -1h1l0.5 -1h2l0.5 -1h1l0.5 1h0.5l0.5 -1l0.5 1h0.5l0.5 -1l0.5 1h0.5l0.5 1h1l0.5 1l0.5 -1h1.5l0.5 -2l0.5 1l0.5 -1h1l0.5 -1h0.5l0.5 -1l0.5 1l0.5 -1h0.5l0.5 -1h2l0.5 -1h0.5l0.5 -1h0.5l0.5 1h2l0.5 1h1l0.5 1h0.5l0.5 1h0.5l0.5 1h2.5l0.5 1l0.5 -1l0.5 1h0.5l0.5 1l0.5 -1h0.5l0.5 1h1l0.5 -1h1l0.5 -1l0.5 1l0.5 -1h0.5l0.5 -1h0.5l0.5 -1h2l0.5 -1h0.5l0.5 -1l0.5 1l0.5 -1l0.5 1h1.5l0.5 1l0.5 1l0.5 -1l0.5 1h3l0.5 -1l0.5 1h0.5l0.5 1l0.5 -1h1l0.5 1h0.5l0.5 -1l0.5 1l0.5 1l0.5 1h0.5l0.5 1l0.5 1l0.5 1h1l0.5 1h3l0.5 -2h1.5l0.5 -2h0.5l0.5 -1l0.5 1l0.5 -1h1l0.5 -1h1l0.5 -1h1l0.5 -1l0.5 1h0.5l0.5 -1l0.5 1l0.5 -1l0.5 -1l0.5 1l0.5 -1l0.5 -1l0.5 1l0.5 -2h1l0.5 -1h0.5l0.5 -1h1.5l0.5 -1l0.5 1l0.5 -1h2l0.5 -1l0.5 1l0.5 -1h2l0.5 -1l0.5 2h1.5l0.5 1h1l0.5 1h0.5l0.5 1l0.5 -1l0.5 1h0.5l0.5 1h1l0.5 2h0.5l0.5 1h0.5l0.5 1h1l0.5 2l0.5 1h1l0.5 1l0.5 1h0.5l0.5 1h0.5l0.5 1h0.5l0.5 1h1l0.5 1h1.5l0.5 1h1l0.5 1l0.5 -1l0.5 1l0.5 1l0.5 -1h2l0.5 -1l0.5 1l0.5 -1l0.5 1l0.5 -1h1l0.5 -1h0.5l0.5 -1l0.5 1h0.5l0.5 -1h1.5l0.5 -1l0.5 1l0.5 1h2l0.5 1h1l0.5 1l0.5 1h0.5l0.5 -1h2l0.5 -1h0.5l0.5 1l0.5 -1h1l0.5 -1h1.5l0.5 -1h0.5l0.5 -1h0.5l0.5 -1l0.5 -1l0.5 -1h1l0.5 -1h0.5l0.5 -1h0.5l0.5 -1l0.5 1h1.5l0.5 -1h1l0.5 -1h1l0.5 -1l0.5 -1l0.5 -1h0.5l0.5 -1l0.5 -2h0.5l0.5 2l0.5 3l0.5 3l0.5 4h0.5l0.5 1l0.5 1l0.5 1h0.5l0.5 1l0.5 -1l0.5 2h2.5l0.5 1h1.5l0.5 -1l0.5 1h2l0.5 -1l0.5 1l0.5 -1l0.5 1h1l0.5 -1l0.5 2l0.5 -1h0.5l0.5 1l0.5 -1h11l0.5 1l0.5 -1h2l0.5 1l0.5 -1h1l0.5 1l0.5 -1l0.5 1l0.5 -1h4l0.5 1l0.5 -1h0.5l0.5 1h0.5l0.5 -1l0.5 1h1l0.5 1l0.5 -1l0.5 1h2l0.5 -1l0.5 1h0.5l0.5 -2l0.5 1l0.5 -1l0.5 1l0.5 -1h1l0.5 1l0.5 -1l0.5 -1l0.5 1l0.5 -1h5l0.5 1l0.5 -1l0.5 1h2.5l0.5 1l0.5 -1h0.5l0.5 -1l0.5 1h0.5l0.5 1h1l0.5 1h4l0.5 -1h1l0.5 1l0.5 -1l0.5 -1l0.5 1l0.5 -1h2.5l0.5 -1h1.5l0.5 -2h0.5l0.5 -2h0.5l0.5 -1l0.5 -1l0.5 1h1l0.5 1l0.5 1l0.5 -1l0.5 1l0.5 1l0.5 1h0.5l0.5 2l0.5 1h0.5l0.5 1l0.5 1h1.5l0.5 1h1.5l0.5 -1l0.5 1h0.5l0.5 -1l0.5 1h0.5l0.5 -1h2.5l0.5 1l0.5 -1h1.5l0.5 -1h1.5l0.5 -1l0.5 1l0.5 -1h2.5l0.5 1l0.5 -1l0.5 1l0.5 -1l0.5 1l0.5 1h1l0.5 1l0.5 -1l0.5 1l0.5 1l0.5 -1h0.5l0.5 1l0.5 -1l0.5 1h0.5l0.5 -1l0.5 1l0.5 -1h0.5l0.5 -1l0.5 -1h1.5l0.5 -1h1l0.5 1l0.5 -1h3.5l0.5 1h0.5l0.5 -1l0.5 1h1.5l0.5 1h2l0.5 -1h1l0.5 1h2l0.5 1l0.5 -1l0.5 1h1l0.5 1l0.5 -1h3.5l0.5 1l0.5 -1h1l0.5 1l0.5 -1l0.5 1l0.5 -1h1l0.5 -1l0.5 1l0.5 -1l0.5 1h4l0.5 1l0.5 -1h2l0.5 -1l0.5 1l0.5 -1l0.5 1h1l0.5 -1h0.5l0.5 1l0.5 -1h2.5l0.5 -1l0.5 1l0.5 -1h4.5l0.5 -1l0.5 1h1l0.5 1l0.5 -2l0.5 1h0.5l0.5 -1l0.5 1l0.5 -1l0.5 1l0.5 -1l0.5 1l0.5 -1l0.5 1h0.5l0.5 -1l0.5 1l0.5 -1l0.5 1h6l0.5 -1h1.5l0.5 -1h1.5l0.5 -1l0.5 1l0.5 -1h0.5l0.5 -1l0.5 1h1.5l0.5 1h0.5l0.5 -1l0.5 1l0.5 1h1.5l0.5 1l0.5 1l0.5 -1h2l0.5 1h0.5l0.5 -1h2.5l0.5 -1h1l0.5 1h1l0.5 -1h1.5l0.5 -1l0.5 1l0.5 -1l0.5 1l0.5 -1h0.5l0.5 1l0.5 -1h1.5l0.5 -1l0.5 1l0.5 -1h4.5l0.5 1l0.5 -1l0.5 1h1l0.5 -1l0.5 2l0.5 -1h1l0.5 -1l0.5 1h1l0.5 1l0.5 -1l0.5 1l0.5 -1h1l0.5 1l0.5 -1l0.5 1h0.5l0.5 -1l0.5 1h1.5l0.5 1h1.5l0.5 1h1.5l0.5 1h1l0.5 -1h1l0.5 1l0.5 -1l0.5 -1l0.5 1l0.5 -1h1l0.5 1l0.5 -1l0.5 1l0.5 -1h1l0.5 1l0.5 -1h0.5l0.5 1l0.5 -1h0.5l0.5 1l0.5 -1l0.5 1h3l0.5 1h3l0.5 1h1l0.5 1h1l0.5 -1h0.5l0.5 1h1l0.5 1h0.5l0.5 -1l0.5 -1l0.5 1l0.5 1l0.5 -1l0.5 -1l0.5 1h0.5l0.5 -1h1.5l0.5 -1l0.5 1l0.5 -1h3.5l0.5 -1l0.5 1l0.5 -1l0.5 1l0.5 -1h1.5l0.5 1h0.5l0.5 -1h3l0.5 -1h2.5l0.5 -1h0.5l0.5 -1l0.5 1l0.5 -1l0.5 1l0.5 -1h1l0.5 -1l0.5 1h2l0.5 1h0.5l0.5 1h1.5l0.5 1h0.5l0.5 1h1l0.5 1h1.5l0.5 1l0.5 1l0.5 -1l0.5 1h0.5l0.5 1h1.5l0.5 1h1.5l0.5 1l0.5 -1h1l0.5 1l0.5 -1h1l0.5 -1l0.5 1l0.5 -1l0.5 1l0.5 -1h1l0.5 -1l0.5 1h2.5l0.5 -1l0.5 1h0.5l0.5 -1h2.5l0.5 -1h0.5l0.5 1l0.5 -1h0.5l0.5 1l0.5 -1h0.5l0.5 1l0.5 -1h4l0.5 -1l0.5 1h2.5l0.5 -1h0.5l0.5 1h0.5l0.5 -1l0.5 1l0.5 -1h1.5l0.5 -1l0.5 1h1.5l0.5 -1l0.5 1h1l0.5 -1h0.5l0.5 1l0.5 -1l0.5 1h0.5l0.5 -1h0.5l0.5 -1h0.5l0.5 -1l0.5 -1l0.5 -1h0.5l0.5 -1l0.5 -1h0.5l0.5 -2h1.5l0.5 2l0.5 1l0.5 -1l0.5 2l0.5 1h0.5l0.5 1l0.5 1h2l0.5 1l0.5 -1l0.5 1l0.5 -1h2.5l0.5 2l0.5 -1h1l0.5 1h0.5l0.5 -1h1l0.5 -1l0.5 1h0.5l0.5 -1h1.5l0.5 -1h2l0.5 1h2l0.5 1l0.5 -1l0.5 1h6.5l0.5 1l0.5 -1l0.5 1h2l0.5 1l0.5 -1l0.5 1h1l0.5 1h0.5l0.5 -1h0.5l0.5 1h1l0.5 1h1.5l0.5 1l0.5 -1l0.5 -1l0.5 1h1l0.5 1l0.5 1l0.5 -1h1.5l0.5 1h0.5l0.5 -1l0.5 1h4.5l0.5 1l0.5 -1h0.5l0.5 1h5l0.5 1l0.5 -1h1l0.5 1l0.5 -1h1l0.5 -1l0.5 1l0.5 -1h0.5l0.5 1h1l0.5 -1l0.5 1h1l0.5 -1h0.5l0.5 1l0.5 -1h2l0.5 1l0.5 -2l0.5 1h4l0.5 -1h1l0.5 1l0.5 -1l0.5 -1l0.5 1l0.5 1l0.5 -1h2l0.5 1l0.5 -1h0.5l0.5 1l0.5 -1h0.5l0.5 1h1l0.5 -1l0.5 1h4l0.5 -1h0.5l0.5 1h1.5l0.5 1h3l0.5 1h0.5l0.5 -1l0.5 1h1.5l0.5 -1h1l0.5 -1l0.5 1h0.5l0.5 -1l0.5 1h0.5l0.5 -1h1l0.5 1l0.5 1l0.5 -1h0.5l0.5 -1l0.5 1l0.5 -1h4l0.5 -1h0.5l0.5 1l0.5 -1l0.5 1h1.5" stroke="#008000" stroke-width="7"/>
<path class="c" d="M203 1123h2l0.5 1l0.5 -1h2.5l0.5 1h0.5l0.5 -1h0.5l0.5 1h2l0.5 -1l0.5 1l0.5 1l0.5 -1h3l0.5 1l0.5 -1h0.5l0.5 1l0.5 -1l0.5 1h4l0.5 1h0.5l0.5 1h1l0.5 1h1l0.5 1l0.5 1h0.5l0.5 1h1l0.5 1h0.5l0.5 -1h0.5l0.5 -1h1l0.5 -1h0.5l0.5 -1h0.5l0.5 -1l0.5 1h1.5l0.5 1h0.5l0.5 -1l0.5 1h1l0.5 1h1l0.5 1h1l0.5 1l0.5 -1l0.5 1h0.5l0.5 1h0.5l0.5 -1l0.5 1h0.5l0.5 1l0.5 -1l0.5 1h0.5l0.5 -1h2l0.5 -1h0.5l0.5 -1l0.5 1l0.5 -1l0.5 2l0.5 -2l0.5 1h1.5l0.5 1h1.5l0.5 1h1l0.5 1h0.5l0.5 1l0.5 -1l0.5 1h1.5l0.5 1l0.5 -1l0.5 -1h0.5l0.5 1l0.5 -1h1l0.5 -1l0.5 1h0.5l0.5 -1h2l0.5 1l0.5 -1l0.5 1h1.5l0.5 -1l0.5 1h2l0.5 1h0.5l0.5 -1h0.5l0.5 1h0.5l0.5 -1l0.5 1h4l0.5 1h0.5l0.5 1l0.5 -1h0.5l0.5 -1l0.5 1l0.5 -1l0.5 1h0.5l0.5 -1l0.5 -1l0.5 -1l0.5 1l0.5 -1l0.5 -1h4l0.5 1h1.5l0.5 1h3.5l0.5 -1h1l0.5 -1h0.5l0.5 -1h0.5l0.5 -1l0.5 -1h1l0.5 -2h0.5l0.5 -1l0.5 -1l0.5 -1l0.5 -1l0.5 -1h0.5l0.5 -3h0.5l0.5 -1l0.5 -2l0.5 -1l0.5 -1l0.5 -1l0.5 -1l0.5 -4l0.5 -2l0.5 -3l0.5 -2l0.5 -4l0.5 -3l0.5 -5l0.5 -4l0.5 -5l0.5 -5l0.5 -4l0.5 -4l0.5 -1l0.5 -3l0.5 -3l0.5 -2l0.5 -2l0.5 -3l0.5 -1l0.5 -2l0.5 -3l0.5 -2l0.5 -1h0.5l0.5 1l0.5 3l0.5 2l0.5 3l0.5 2l0.5 5l0.5 5l0.5 6l0.5 5l0.5 6l0.5 5l0.5 4l0.5 5l0.5 5l0.5 5l0.5 4l0.5 3l0.5 5l0.5 2l0.5 5l0.5 3l0.5 2l0.5 2h0.5l0.5 2l0.5 1l0.5 1l0.5 1h0.5l0.5 1h0.5l0.5 2l0.5 -1l0.5 1h0.5l0.5 1h0.5l0.5 1h1l0.5 1h0.5l0.5 1h0.5l0.5 1l0.5 1h1l0.5 1l0.5 1h0.5l0.5 1h1.5l0.5 -1h0.5l0.5 1l0.5 -1l0.5 -1l0.5 1h0.5l0.5 -1h8l0.5 -2h1l0.5 -1h1l0.5 -1l0.5 -1h0.5l0.5 -1h0.5l0.5 -1l0.5 -1l0.5 -1l0.5 -1l0.5 1l0.5 -2l0.5 -1l0.5 -1l0.5 -1l0.5 -1l0.5 -1l0.5 -2l0.5 -2l0.5 -3l0.5 -2l0.5 -2l0.5 -3l0.5 -3l0.5 -4l0.5 -3l0.5 -4l0.5 -4l0.5 -4l0.5 -3l0.5 -2l0.5 -3l0.5 -2l0.5 -2l0.5 -2l0.5 -1h0.5l0.5 2l0.5 3l0.5 1l0.5 3l0.5 3l0.5 4l0.5 3l0.5 6l0.5 4l0.5 4l0.5 4l0.5 4l0.5 3l0.5 4l0.5 4l0.5 3l0.5 3l0.5 2l0.5 3l0.5 1l0.5 2l0.5 2l0.5 2h0.5l0.5 1h1.5l0.5 1h1l0.5 -1l0.5 1h1.5l0.5 1h7l0.5 1l0.5 -1h0.5l0.5 1h0.5l0.5 -1l0.5 1h1l0.5 1h2.5l0.5 -1h1l0.5 1l0.5 -1l0.5 1h0.5l0.5 -1h2l0.5 1h0.5l0.5 -1l0.5 1h1.5l0.5 1h1.5l0.5 1h0.5l0.5 1l0.5 -1l0.5 1l0.5 -1h1l0.5 -1l0.5 1l0.5 -1l0.5 1l0.5 -1h2.5l0.5 1h0.5l0.5 1l0.5 -1h1.5l0.5 1h0.5l0.5 -1l0.5 1l0.5 -1h5.5l0.5 -1l0.5 1l0.5 -1h1l0.5 -1h1.5l0.5 -1l0.5 -1h0.5l0.5 -1h0.5l0.5 -1l0.5 -1l0.5 -1h0.5l0.5 -1h0.5l0.5 -2l0.5 -1h0.5l0.5 -1l0.5 -1h0.5l0.5 -1h0.5l0.5 -2h0.5l0.5 -1h0.5l0.5 -1l0.5 -1l0.5 -1l0.5 -1l0.5 -1l0.5 -1h0.5l0.5 -1l0.5 1l0.5 -1h0.5l0.5 1l0.5 1h1l0.5 1h1l0.5 1h0.5l0.5 1h0.5l0.5 2l0.5 1l0.5 1h0.5l0.5 1l0.5 2h0.5l0.5 2h1l0.5 1h0.5l0.5 1h1l0.5 1h1.5l0.5 1l0.5 1h0.5l0.5 1l0.5 1l0.5 2l0.5 1l0.5 1h1.5l0.5 1l0.5 1h1l0.5 1h1l0.5 1h2l0.5 -1l0.5 1h1l0.5 1h1.5l0.5 1h4l0.5 1h1l0.5 1h1.5l0.5 1h0.5l0.5 -1h0.5l0.5 1l0.5 -1h2l0.5 -1h3l0.5 -1h2l0.5 1l0.5 -1h0.5l0.5 1h2l0.5 1h2l0.5 1h0.5l0.5 -1l0.5 1h0.5l0.5 -1h0.5l0.5 1h1.5l0.5 1h3.5l0.5 1l0.5 -1h0.5l0.5 -1l0.5 -1l0.5 1h0.5l0.5 -1h1l0.5 -1h3l0.5 -1h0.5l0.5 -1h1.5l0.5 -1h1l0.5 -1h1.5l0.5 -1h0.5l0.5 -1l0.5 1l0.5 -2h0.5l0.5 -1l0.5 -1l0.5 1l0.5 -1l0.5 -1h0.5l0.5 1l0.5 1l0.5 1h0.5l0.5 1l0.5 1l0.5 1h0.5l0.5 1l0.5 1h0.5l0.5 1h0.5l0.5 1h1.5l0.5 1l0.5 1h0.5l0.5 1h1l0.5 1h0.5l0.5 -1h0.5l0.5 1l0.5 -1h1l0.5 1l0.5 -1l0.5 1l0.5 -1h0.5l0.5 1h2.5l0.5 1l0.5 -1l0.5 1h1.5l0.5 -1h0.5l0.5 1h3l0.5 -1l0.5 1l0.5 -1h0.5l0.5 -1h0.5l0.5 -1h1l0.5 -1h4l0.5 -1h0.5l0.5 1h1.5l0.5 1h1l0.5 1h0.5l0.5 1h0.5l0.5 -1l0.5 1h0.5l0.5 -1l0.5 1l0.5 1l0.5 -1l0.5 1l0.5 -1l0.5 1h2.5l0.5 1h0.5l0.5 1l0.5 -1h1.5l0.5 1h2.5l0.5 -1h1.5l0.5 -1h2l0.5 -1l0.5 1l0.5 -1h1l0.5 -1h2l0.5 -1h0.5l0.5 -1l0.5 1l0.5 -1l0.5 -1h0.5l0.5 1h0.5l0.5 -1l0.5 1l0.5 -1h0.5l0.5 1l0.5 -2l0.5 1h0.5l0.5 -1l0.5 1h0.5l0.5 -1h1l0.5 -1h1.5l0.5 -1l0.5 -1l0.5 1l0.5 -1h1l0.5 -2h0.5l0.5 -1l0.5 -1l0.5 -2l0.5 -1l0.5 -1l0.5 -1l0.5 -2h0.5l0.5 -1l0.5 -1l0.5 -1h0.5l0.5 -2l0.5 -1h2l0.5 1h0.5l0.5 -1l0.5 1h0.5l0.5 -1l0.5 1h1.5l0.5 -1l0.5 1l0.5 -1h1l0.5 -1l0.5 -2l0.5 -2l0.5 -3l0.5 -2l0.5 -3l0.5 -2l0.5 -3l0.5 -2l0.5 -3l0.5 -2l0.5 -3l0.5 -1l0.5 -2l0.5 -2h0.5l0.5 -2l0.5 -1h0.5l0.5 1l0.5 1l0.5 1l0.5 1l0.5 3l0.5 1l0.5 2l0.5 3l0.5 3l0.5 2l0.5 4l0.5 3l0.5 3l0.5 4l0.5 3l0.5 4l0.5 2l0.5 3l0.5 2l0.5 3l0.5 1l0.5 3l0.5 1l0.5 1l0.5 1l0.5 2l0.5 1h0.5l0.5 2h0.5l0.5 1l0.5 1h1l0.5 1l0.5 1h1l0.5 1h1l0.5 1h1.5l0.5 1h2l0.5 1l0.5 -1l0.5 1h0.5l0.5 -1l0.5 1l0.5 1l0.5 -1h0.5l0.5 -1l0.5 1l0.5 -1l0.5 1h1l0.5 -1l0.5 -1l0.5 1h1.5l0.5 -1h0.5l0.5 1l0.5 -1h1l0.5 1h1l0.5 1l0.5 -1l0.5 1h0.5l0.5 1h1l0.5 1l0.5 -1h1l0.5 1l0.5 -1h1l0.5 1l0.5 -1h1l0.5 -1l0.5 1h0.5l0.5 -1l0.5 1l0.5 -1h1.5l0.5 -1l0.5 1l0.5 -1h1l0.5 -1h0.5l0.5 1l0.5 -1l0.5 1h1.5l0.5 -1h1l0.5 -1h0.5l0.5 -1l0.5 -1h0.5l0.5 -2h0.5l0.5 -1l0.5 -1h0.5l0.5 -1l0.5 -1l0.5 -1l0.5 -1h0.5l0.5 -2l0.5 -1l0.5 -1l0.5 -1l0.5 -1l0.5 -2l0.5 -1l0.5 -1l0.5 -2l0.5 -1l0.5 -1l0.5 -2l0.5 -1l0.5 -2l0.5 -1l0.5 -1l0.5 -1l0.5 -1l0.5 -1l0.5 -1h1l0.5 1l0.5 2l0.5 2l0.5 1l0.5 3l0.5 2l0.5 1l0.5 1l0.5 3l0.5 1l0.5 3l0.5 1l0.5 2l0.5 1l0.5 2l0.5 1l0.5 1l0.5 1l0.5 3h0.5l0.5 1l0.5 1h0.5l0.5 1h0.5l0.5 1l0.5 1l0.5 -1h1l0.5 1l0.5 -1l0.5 -1l0.5 1l0.5 -1h1l0.5 -1h0.5l0.5 -1h2l0.5 -1h0.5l0.5 -1l0.5 1l0.5 -1h2l0.5 1l0.5 -1h0.5l0.5 1l0.5 -1l0.5 1h2.5l0.5 1h0.5l0.5 1h1l0.5 1h0.5l0.5 1l0.5 -1h0.5l0.5 1h2l0.5 1h3l0.5 -1l0.5 1h0.5l0.5 1l0.5 -1l0.5 -1l0.5 1l0.5 -1l0.5 -1h1l0.5 -1h0.5l0.5 -1l0.5 -1l0.5 -1h1l0.5 -1l0.5 -2h1l0.5 -1l0.5 -1l0.5 -1h0.5l0.5 -1l0.5 1l0.5 -2h0.5l0.5 -1h1.5l0.5 -1h0.5l0.5 1l0.5 1l0.5 1h0.5l0.5 2l0.5 1h0.5l0.5 2h0.5l0.5 2h0.5l0.5 1l0.5 1h0.5l0.5 1l0.5 2h1l0.5 1h1.5l0.5 1l0.5 1h1.5l0.5 -1l0.5 1h0.5l0.5 -1h7.5l0.5 -1l0.5 -1l0.5 1l0.5 -1h0.5l0.5 -1l0.5 1l0.5 1l0.5 -1l0.5 1h0.5l0.5 1h0.5l0.5 1h0.5l0.5 1l0.5 1h1l0.5 1h1l0.5 1h2l0.5 -1h1.5l0.5 -1h0.5l0.5 -1l0.5 1h1.5l0.5 1h1l0.5 1l0.5 1h1l0.5 -1l0.5 1h0.5l0.5 -1l0.5 1l0.5 -1l0.5 1l0.5 -1h1.5l0.5 -1h0.5l0.5 -1l0.5 1l0.5 -1h1.5l0.5 -1h0.5l0.5 1l0.5 -1h2l0.5 -1l0.5 -1h1l0.5 -1h1l0.5 -1h0.5l0.5 -2h1l0.5 -2h0.5l0.5 -1l0.5 -1h0.5l0.5 -1h1l0.5 -1h0.5l0.5 -1l0.5 -2l0.5 -2l0.5 -1l0.5 -1l0.5 -2h0.5l0.5 -2l0.5 -1l0.5 -2l0.5 -4l0.5 -3l0.5 -3l0.5 -3l0.5 -5l0.5 -3l0.5 -6l0.5 -6l0.5 -6l0.5 -6l0.5 -8l0.5 -9l0.5 -10l0.5 -10l0.5 -10l0.5 -11l0.5 -13l0.5 -11l0.5 -11l0.5 -11l0.5 -10l0.5 -10l0.5 -8l0.5 -6l0.5 -7l0.5 -5l0.5 -5l0.5 -3l0.5 -3l0.5 -2l0.5 -2l0.5 -3l0.5 -2l0.5 -1l0.5 -2l0.5 -1l0.5 2l0.5 3l0.5 2l0.5 2l0.5 3l0.5 3l0.5 3l0.5 5l0.5 8l0.5 9l0.5 9l0.5 10l0.5 10l0.5 9l0.5 8l0.5 7l0.5 5l0.5 4l0.5 6l0.5 3l0.5 2l0.5 3l0.5 2l0.5 3l0.5 1l0.5 2l0.5 1l0.5 2l0.5 1l0.5 3h0.5l0.5 2l0.5 1l0.5 2l0.5 5l0.5 6l0.5 5l0.5 8l0.5 6l0.5 7l0.5 8l0.5 5l0.5 5l0.5 5l0.5 4l0.5 4l0.5 2l0.5 3l0.5 2l0.5 3l0.5 1l0.5 2l0.5 2l0.5 1l0.5 2l0.5 1l0.5 1l0.5 1l0.5 1l0.5 1l0.5 1h0.5l0.5 1l0.5 2l0.5 -1l0.5 2l0.5 1l0.5 1l0.5 1h1l0.5 1l0.5 1h1l0.5 1l0.5 1l0.5 1h2l0.5 -1h3l0.5 1h0.5l0.5 -1h2.5l0.5 1h1.5l0.5 1l0.5 -1h0.5l0.5 -1h1.5l0.5 1l0.5 -1h1.5l0.5 -1l0.5 1h1l0.5 -1h1l0.5 1h1l0.5 -1l0.5 1l0.5 -1l0.5 -1h2l0.5 -1h0.5l0.5 -1l0.5 -1h1l0.5 -1h1l0.5 1l0.5 -1l0.5 1h1l0.5 1h1l0.5 1l0.5 1l0.5 1l0.5 1l0.5 1l0.5 1l0.5 1l0.5 1l0.5 1h0.5l0.5 1l0.5 1l0.5 -1l0.5 1h1l0.5 1h0.5l0.5 2l0.5 -1h3l0.5 -1h0.5l0.5 1h1l0.5 -1l0.5 1h4l0.5 1l0.5 -2l0.5 1h2.5l0.5 1h2l0.5 1l0.5 -1l0.5 1h1l0.5 -1l0.5 -1l0.5 1l0.5 -2l0.5 1l0.5 -1h0.5l0.5 -1h1l0.5 -1h0.5l0.5 -2l0.5 -1l0.5 -1l0.5 -1l0.5 -1l0.5 -2l0.5 -2l0.5 -1l0.5 -1l0.5 -2l0.5 -1l0.5 -3l0.5 -1l0.5 -2l0.5 -2l0.5 -2l0.5 -3l0.5 -1l0.5 -2l0.5 -1l0.5 -2l0.5 -1h1l0.5 2l0.5 2l0.5 3l0.5 2l0.5 2l0.5 1l0.5 3l0.5 2l0.5 2l0.5 2l0.5 2l0.5 1l0.5 1l0.5 1l0.5 3h0.5l0.5 2l0.5 1h0.5l0.5 1h0.5l0.5 1h1l0.5 -1l0.5 1l0.5 -1l0.5 1h3l0.5 1l0.5 -1l0.5 1l0.5 -1h0.5l0.5 -1l0.5 1l0.5 -1l0.5 -1h0.5l0.5 -2h0.5l0.5 -1h0.5l0.5 -1l0.5 -2l0.5 1l0.5 -2l0.5 -1l0.5 -1l0.5 -2h0.5l0.5 -1l0.5 -1l0.5 -1l0.5 -1l0.5 -1l0.5 -1h0.5l0.5 -1l0.5 -1l0.5 -1l0.5 -1l0.5 -1l0.5 -2l0.5 -1l0.5 -2l0.5 -1l0.5 -2l0.5 -3l0.5 -1l0.5 -3l0.5 -3l0.5 -2l0.5 -2l0.5 -4l0.5 -6l0.5 -5l0.5 -5l0.5 -5l0.5 -2l0.5 -3l0.5 -3l0.5 -2l0.5 -2l0.5 -1l0.5 -1l0.5 2l0.5 3l0.5 2l0.5 3l0.5 2l0.5 2l0.5 4l0.5 2l0.5 3l0.5 2h0.5l0.5 1h1l0.5 1l0.5 -1h1l0.5 1h1l0.5 1h1l0.5 2l0.5 3l0.5 3l0.5 2l0.5 3l0.5 4l0.5 3l0.5 3l0.5 3l0.5 4l0.5 3l0.5 4l0.5 1l0.5 3l0.5 2l0.5 3l0.5 1l0.5 -1h0.5l0.5 1h1l0.5 -1h1l0.5 -1h0.5l0.5 -1l0.5 -1l0.5 -1l0.5 -2h1l0.5 -1l0.5 -2l0.5 -1l0.5 -1l0.5 -1l0.5 -2l0.5 -2l0.5 -2l0.5 -2l0.5 -1l0.5 -1h0.5l0.5 -2l0.5 1l0.5 -1h0.5l0.5 1l0.5 2l0.5 3l0.5 3l0.5 2l0.5 2l0.5 2l0.5 3l0.5 2l0.5 2l0.5 2l0.5 3l0.5 1l0.5 1h1l0.5 1l0.5 1h0.5l0.5 1l0.5 1h0.5l0.5 1l0.5 1l0.5 1l0.5 -1l0.5 1l0.5 1l0.5 -1l0.5 1h2.5l0.5 1l0.5 -1h0.5l0.5 1l0.5 -1h2l0.5 -1l0.5 1l0.5 -1l0.5 1l0.5 -1h0.5l0.5 1l0.5 -1h0.5l0.5 1l0.5 -1l0.5 2h1l0.5 -1l0.5 1l0.5 -1l0.5 -1h0.5l0.5 -1l0.5 -1l0.5 -1h0.5l0.5 -1l0.5 -1h0.5l0.5 -1l0.5 -1l0.5 -3l0.5 -1l0.5 -2l0.5 -3l0.5 -1l0.5 -1l0.5 -1l0.5 -2l0.5 -1l0.5 -1l0.5 2l0.5 2l0.5 2l0.5 2l0.5 1l0.5 1l0.5 1l0.5 1h1.5l0.5 1l0.5 1l0.5 -1l0.5 -1l0.5 -3l0.5 -1l0.5 -2l0.5 -3l0.5 -1l0.5 -3l0.5 -3l0.5 -3l0.5 -3l0.5 -4l0.5 -3l0.5 -3l0.5 -3l0.5 -3l0.5 -4l0.5 -4l0.5 -3l0.5 -3l0.5 -3l0.5 -2l0.5 -3h1l0.5 2l0.5 3l0.5 4l0.5 2l0.5 4l0.5 3l0.5 4l0.5 2l0.5 4l0.5 3l0.5 2l0.5 3l0.5 3l0.5 2l0.5 2l0.5 3l0.5 1h0.5l0.5 1h0.5l0.5 1h1l0.5 1h1l0.5 -1l0.5 -2l0.5 -2l0.5 -1l0.5 -1l0.5 -1l0.5 -2l0.5 -1l0.5 -2l0.5 -1l0.5 -1l0.5 -2l0.5 -1h0.5l0.5 2l0.5 1l0.5 1l0.5 2l0.5 2l0.5 1l0.5 2h0.5l0.5 1l0.5 2l0.5 1l0.5 1l0.5 1l0.5 2l0.5 -1l0.5 2l0.5 1h0.5l0.5 1l0.5 1l0.5 -1l0.5 1l0.5 1l0.5 -1l0.5 -2l0.5 -1l0.5 -2l0.5 -2l0.5 -2l0.5 -2l0.5 -1h0.5l0.5 -2h0.5l0.5 -1l0.5 -2h1.5l0.5 -1h0.5l0.5 1h1l0.5 2l0.5 1l0.5 1l0.5 2l0.5 1l0.5 2l0.5 1l0.5 2l0.5 2l0.5 2l0.5 2l0.5 2l0.5 3l0.5 1h0.5l0.5 1h0.5l0.5 1h1.5l0.5 1l0.5 -1l0.5 -1l0.5 -1l0.5 -1h0.5l0.5 -1l0.5 -1h0.5l0.5 -2h1l0.5 -1h0.5l0.5 -1l0.5 1h1l0.5 -1h1l0.5 -1l0.5 -1h0.5l0.5 -1l0.5 -1l0.5 -1h0.5l0.5 -2h0.5l0.5 -1l0.5 -1l0.5 -2h0.5l0.5 -2l0.5 -1l0.5 -2l0.5 -2l0.5 -1l0.5 -2l0.5 -2l0.5 -1l0.5 -1l0.5 -3l0.5 -2l0.5 -4l0.5 -2l0.5 -3l0.5 -3l0.5 -3l0.5 -2l0.5 -5l0.5 -3l0.5 -3l0.5 -3l0.5 -4l0.5 -4l0.5 -4l0.5 -3l0.5 -2l0.5 -2l0.5 -2l0.5 -2l0.5 -2l0.5 -1l0.5 -2h0.5l0.5 1l0.5 -2l0.5 2h0.5l0.5 1l0.5 1l0.5 2l0.5 1l0.5 2l0.5 2l0.5 2l0.5 3l0.5 1l0.5 3l0.5 2l0.5 3l0.5 3l0.5 2l0.5 3l0.5 4l0.5 3l0.5 3l0.5 3l0.5 4l0.5 4l0.5 4l0.5 4l0.5 4l0.5 4l0.5 2l0.5 -2l0.5 -2l0.5 -2l0.5 -2l0.5 -3l0.5 -1l0.5 6l0.5 9l0.5 9l0.5 4l0.5 4l0.5 3l0.5 2l0.5 2l0.5 4l0.5 2l0.5 1l0.5 1l0.5 2h0.5l0.5 1l0.5 1l0.5 1h1l0.5 -1l0.5 1l0.5 1h0.5l0.5 -1l0.5 1h0.5l0.5 -1l0.5 1h1l0.5 -1h0.5l0.5 1h1.5l0.5 -1l0.5 1h1l0.5 -1l0.5 1h0.5l0.5 -1h3l0.5 1h1l0.5 1h1l0.5 1h3l0.5 1h3l0.5 1h1l0.5 1l0.5 -1h3.5l0.5 -1l0.5 1l0.5 1l0.5 -1l0.5 -2l0.5 1l0.5 -1h0.5l0.5 -2h1l0.5 -2l0.5 -1h0.5l0.5 1h0.5l0.5 2h0.5l0.5 2h2l0.5 1h1l0.5 1h1l0.5 -1h0.5l0.5 -1l0.5 -1l0.5 -1h0.5l0.5 -2l0.5 -1l0.5 -3l0.5 -1l0.5 -2l0.5 -2l0.5 -2l0.5 -3l0.5 -4l0.5 -3l0.5 -2l0.5 -4l0.5 -3l0.5 -3l0.5 -4l0.5 -3l0.5 -5l0.5 -4l0.5 -4l0.5 -5l0.5 -3l0.5 -4l0.5 -4l0.5 -3l0.5 -2l0.5 -3l0.5 -3l0.5 -1l0.5 2l0.5 3l0.5 1l0.5 3l0.5 2l0.5 3l0.5 5l0.5 4l0.5 6l0.5 4l0.5 5l0.5 5l0.5 4l0.5 3l0.5 5l0.5 3l0.5 4l0.5 3l0.5 4l0.5 2l0.5 3l0.5 2l0.5 2h1l0.5 2l0.5 -1l0.5 1l0.5 1h0.5l0.5 1h0.5l0.5 1l0.5 -2l0.5 1l0.5 1l0.5 -2l0.5 1h0.5l0.5 -1l0.5 1l0.5 -1h2l0.5 -1l0.5 -1l0.5 -2l0.5 -1h0.5l0.5 -3h0.5l0.5 -2l0.5 -2l0.5 -1l0.5 -1l0.5 -1l0.5 -1l0.5 -2h0.5l0.5 -2h0.5l0.5 -1l0.5 -1h1l0.5 -1h3.5l0.5 1h0.5l0.5 1l0.5 1h0.5l0.5 1l0.5 1h0.5l0.5 2l0.5 1l0.5 1l0.5 1l0.5 2l0.5 2l0.5 1l0.5 1l0.5 1l0.5 2l0.5 1l0.5 1l0.5 2h0.5l0.5 1l0.5 2l0.5 -1l0.5 1h0.5l0.5 1h1.5l0.5 1h3l0.5 -1l0.5 1h0.5l0.5 -1h1l0.5 1l0.5 -1l0.5 -1h0.5l0.5 -1h0.5l0.5 -1h1l0.5 -1l0.5 1l0.5 -1l0.5 -1l0.5 1h2l0.5 1l0.5 -2l0.5 2h1l0.5 1h0.5l0.5 1l0.5 1h0.5l0.5 1h0.5l0.5 1h0.5l0.5 1h1.5l0.5 1l0.5 1h1l0.5 1h1l0.5 1h3l0.5 1h0.5l0.5 -1h1.5l0.5 1l0.5 -1h3.5l0.5 -1h0.5l0.5 1l0.5 -1l0.5 1h1.5l0.5 -1l0.5 1h1l0.5 1h1.5l0.5 1l0.5 -1l0.5 1h1.5l0.5 1l0.5 -1l0.5 -1l0.5 1l0.5 -1h0.5l0.5 -1h1l0.5 -1h0.5l0.5 -1l0.5 1h0.5l0.5 1h0.5l0.5 -1h0.5l0.5 1h0.5l0.5 -1h1.5l0.5 1h0.5l0.5 -1l0.5 1h2l0.5 -1h1l0.5 -1l0.5 -1h0.5l0.5 1l0.5 -1h1l0.5 -1h1l0.5 -1l0.5 1h1l0.5 -1h0.5l0.5 1l0.5 -1l0.5 1h0.5l0.5 -1h0.5l0.5 1l0.5 -1h1.5l0.5 -1h0.5l0.5 -1l0.5 -1h1.5l0.5 -1l0.5 -1l0.5 -1l0.5 1l0.5 -1l0.5 -1h0.5l0.5 -1h1.5l0.5 1l0.5 1h0.5l0.5 1h0.5l0.5 1l0.5 1l0.5 -1l0.5 1h0.5l0.5 -1h1.5l0.5 -1h1l0.5 -1h4l0.5 -1l0.5 1h0.5l0.5 -1l0.5 -1h1l0.5 -1h2l0.5 1l0.5 1l0.5 1h0.5l0.5 1h0.5l0.5 1l0.5 1h1.5l0.5 1h1.5l0.5 2h1l0.5 1l0.5 1h1l0.5 1h1.5l0.5 1h0.5l0.5 1l0.5 -2l0.5 1l0.5 -1h0.5l0.5 -1l0.5 1l0.5 -1l0.5 -1l0.5 1h0.5l0.5 -1l0.5 1l0.5 -1h1l0.5 -1l0.5 1h0.5l0.5 -1h2l0.5 -1l0.5 1l0.5 -1h0.5l0.5 1h2l0.5 1l0.5 -1h1l0.5 1h1.5l0.5 1l0.5 -1l0.5 1h3.5l0.5 -1l0.5 -1h0.5l0.5 -1l0.5 -1h1l0.5 -1h1l0.5 -1h0.5l0.5 -1h1l0.5 -1h1l0.5 -1l0.5 -1l0.5 1l0.5 -1l0.5 -1h0.5l0.5 -1l0.5 -1h0.5l0.5 -1l0.5 1l0.5 -2l0.5 1l0.5 -1l0.5 1l0.5 -1h0.5l0.5 1l0.5 -1h0.5l0.5 -1l0.5 1h0.5l0.5 -1h1l0.5 -1h2l0.5 -1h1l0.5 -1h0.5l0.5 -1l0.5 -1l0.5 -1h0.5l0.5 -1h1l0.5 1h0.5l0.5 2l0.5 1l0.5 1h0.5l0.5 1l0.5 1l0.5 1h1l0.5 1l0.5 1h0.5l0.5 1l0.5 1h1l0.5 1l0.5 1l0.5 1h0.5l0.5 2h0.5l0.5 2h0.5l0.5 1l0.5 1l0.5 1h1l0.5 1l0.5 1h0.5l0.5 1h1l0.5 1h1l0.5 1h1l0.5 1h1l0.5 1h0.5l0.5 -1l0.5 1h0.5l0.5 -1l0.5 -1l0.5 1h2l0.5 -1h1l0.5 1l0.5 -1l0.5 1h1l0.5 -1l0.5 1h1l0.5 -1l0.5 2h0.5l0.5 -1l0.5 1h0.5l0.5 -1h0.5l0.5 -1l0.5 1l0.5 -1h0.5l0.5 1l0.5 -1l0.5 -1h5.5l0.5 1l0.5 -1h0.5l0.5 1l0.5 -1h0.5l0.5 1l0.5 -1h4.5l0.5 -1l0.5 1h4l0.5 1l0.5 1h0.5l0.5 -1h1.5l0.5 1h1.5l0.5 1l0.5 -2l0.5 1l0.5 1l0.5 -1l0.5 1l0.5 1l0.5 -1l0.5 2l0.5 -1l0.5 1h1l0.5 -1h1l0.5 1h0.5l0.5 -1h0.5l0.5 1h3l0.5 1h2.5l0.5 1h0.5l0.5 -1h1l0.5 1l0.5 -1h3l0.5 1l0.5 -1l0.5 1h0.5l0.5 -1l0.5 1h2.5l0.5 -1l0.5 1h0.5l0.5 -1l0.5 1l0.5 -1l0.5 1h0.5l0.5 -1l0.5 -1l0.5 1h0.5l0.5 -1h2.5l0.5 -1h1.5l0.5 -1l0.5 1l0.5 -1h0.5l0.5 1h0.5l0.5 -1h2.5l0.5 1h1.5l0.5 1l0.5 -1h2l0.5 -1l0.5 1h0.5l0.5 -1h1.5l0.5 -1l0.5 1l0.5 1l0.5 -1h0.5l0.5 1l0.5 1h3.5l0.5 1l0.5 -1l0.5 1h0.5l0.5 -1l0.5 1h0.5l0.5 1l0.5 -1l0.5 1h1.5l0.5 1l0.5 -1l0.5 1l0.5 -1h2l0.5 1h1l0.5 1l0.5 -1h1l0.5 1l0.5 -1h3l0.5 -1h2.5l0.5 -1h0.5l0.5 1l0.5 -1l0.5 1l0.5 1h0.5l0.5 1l0.5 -1h1l0.5 1h0.5l0.5 1h2.5l0.5 -1l0.5 1h3l0.5 -1h1.5l0.5 -1l0.5 1l0.5 -1l0.5 1l0.5 -1l0.5 -1h0.5l0.5 1h0.5l0.5 -1h2l0.5 1l0.5 -1h0.5l0.5 1h1l0.5 -1l0.5 1h3.5l0.5 1l0.5 -1l0.5 1h1l0.5 -1h2.5l0.5 -1h2.5l0.5 -1h1l0.5 -1h2.5l0.5 1l0.5 -1l0.5 1l0.5 -1l0.5 1l0.5 -1l0.5 1h0.5l0.5 -1l0.5 1h3l0.5 -1l0.5 1h0.5l0.5 -1h2l0.5 1h3l0.5 1l0.5 -1l0.5 1l0.5 -1l0.5 1h1l0.5 1l0.5 -1l0.5 1h0.5l0.5 -1l0.5 1h5l0.5 -1l0.5 1h0.5l0.5 1h0.5l0.5 -1l0.5 1l0.5 -1l0.5 1l0.5 -1h0.5l0.5 1l0.5 -1h0.5l0.5 1h1.5l0.5 -1l0.5 1l0.5 1h0.5l0.5 -1h4l0.5 -1h1.5l0.5 -1h0.5l0.5 1l0.5 -1h0.5l0.5 -1h1l0.5 -1h1l0.5 1l0.5 -1h1.5l0.5 1h0.5l0.5 -1h1.5l0.5 -1l0.5 1l0.5 -1h3.5l0.5 -1h2l0.5 1h6.5l0.5 -1l0.5 1h2.5l0.5 1h1l0.5 1h1l0.5 1l0.5 -1l0.5 1h0.5l0.5 1h1l0.5 -1h1l0.5 -1h0.5l0.5 1l0.5 -3l0.5 1l0.5 -1h0.5l0.5 -1h0.5l0.5 -1h0.5l0.5 -1h1l0.5 -1h1.5l0.5 -1l0.5 -1h0.5l0.5 1l0.5 -1l0.5 -1l0.5 1l0.5 1l0.5 -1h0.5l0.5 2h1.5l0.5 1h1l0.5 1h0.5l0.5 1h1l0.5 1h1l0.5 1h2.5l0.5 1h1l0.5 1l0.5 -1l0.5 1h1.5l0.5 -1l0.5 1h0.5l0.5 1h0.5l0.5 -1h0.5l0.5 1h0.5l0.5 -1l0.5 1h3l0.5 -1h2.5l0.5 -1h1l0.5 -1l0.5 -1l0.5 1l0.5 -1h2.5l0.5 -1h0.5l0.5 1h1l0.5 1h0.5l0.5 1h0.5l0.5 1l0.5 1l0.5 -1h0.5l0.5 1l0.5 -1l0.5 1h1.5l0.5 -1l0.5 1h1l0.5 1l0.5 -1l0.5 1l0.5 1l0.5 -1l0.5 1h2l0.5 -1h0.5l0.5 1l0.5 -1l0.5 -1l0.5 1h1.5l0.5 1l0.5 -1h0.5l0.5 1h0.5l0.5 -1h0.5l0.5 -1l0.5 1l0.5 -1h0.5l0.5 1l0.5 -1h2l0.5 -1h2l0.5 -1h1l0.5 -1l0.5 -1l0.5 1l0.5 -1h1l0.5 -1h0.5l0.5 -1h1.5l0.5 -1h1.5l0.5 -1l0.5 -1l0.5 1l0.5 -1h1l0.5 1h0.5l0.5 1h0.5l0.5 1l0.5 1l0.5 1l0.5 1h0.5l0.5 1h0.5l0.5 1l0.5 -1l0.5 1l0.5 1h0.5l0.5 1h0.5l0.5 1h0.5l0.5 1h0.5l0.5 1h0.5l0.5 -1l0.5 1h0.5l0.5 -1h0.5l0.5 1h2l0.5 1l0.5 -1h2l0.5 -1l0.5 1l0.5 -1h0.5l0.5 -1h1.5l0.5 -1l0.5 2l0.5 -1l0.5 1l0.5 -1l0.5 1l0.5 -1l0.5 1l0.5 -1l0.5 1l0.5 -1h1l0.5 -1h0.5l0.5 -1h4l0.5 -1l0.5 1h0.5l0.5 -1l0.5 1l0.5 -1h1l0.5 1l0.5 -1l0.5 1h1.5l0.5 -1l0.5 1l0.5 1l0.5 -2h0.5l0.5 1h0.5l0.5 -1h1l0.5 1l0.5 -1h0.5l0.5 -1h1.5l0.5 -1h0.5l0.5 -1h1l0.5 -2l0.5 1l0.5 -1l0.5 -1h1l0.5 -1h0.5l0.5 -1l0.5 -1h0.5l0.5 -1l0.5 -1h1l0.5 -1h0.5l0.5 1h0.5l0.5 1h0.5l0.5 1l0.5 1h0.5l0.5 1l0.5 1l0.5 1l0.5 -1l0.5 3l0.5 -1l0.5 1h0.5l0.5 1h1.5l0.5 1h0.5l0.5 1h0.5l0.5 1l0.5 -1h1l0.5 1l0.5 -1h1.5l0.5 -1h1l0.5 -1h0.5l0.5 -1h1l0.5 -1h0.5l0.5 -1h1l0.5 1l0.5 -1h1l0.5 1h0.5l0.5 1l0.5 1l0.5 -1l0.5 1h1.5l0.5 1l0.5 -1l0.5 1h0.5l0.5 -1l0.5 1h1l0.5 1l0.5 -1l0.5 1h0.5l0.5 -1h0.5l0.5 1l0.5 1h0.5l0.5 -1l0.5 1l0.5 1h1l0.5 1l0.5 -1l0.5 1h0.5l0.5 -1l0.5 1l0.5 -1l0.5 1h0.5l0.5 -1h1l0.5 1h0.5l0.5 -1l0.5 1l0.5 -1l0.5 1l0.5 -1l0.5 1h2.5l0.5 1h0.5l0.5 -1l0.5 1l0.5 1h0.5l0.5 -1h0.5l0.5 1h0.5l0.5 1h1l0.5 1l0.5 -1l0.5 1h0.5l0.5 -1l0.5 1h1.5l0.5 1l0.5 -1l0.5 1l0.5 -1h1l0.5 -1l0.5 1h2.5l0.5 -1l0.5 2h2l0.5 -1h0.5l0.5 1h3l0.5 -1l0.5 1l0.5 -1h1.5l0.5 -2l0.5 1l0.5 -1l0.5 1l0.5 -1l0.5 -1l0.5 1h0.5l0.5 -2l0.5 1h1l0.5 -1l0.5 1l0.5 -1h3.5l0.5 -1l0.5 1h0.5l0.5 -1l0.5 1l0.5 -1l0.5 1h1l0.5 1h5l0.5 1h2.5l0.5 1h1l0.5 -1h1l0.5 1h5l0.5 1l0.5 -1h1l0.5 1l0.5 -1l0.5 1l0.5 -1l0.5 -1l0.5 1l0.5 -1l0.5 1h3l0.5 -1h3" stroke="#9900ff" stroke-width="7"/>
<path class="c" d="M203 1350h2.5l0.5 1l0.5 -1l0.5 -1h1l0.5 -1h4l0.5 1h0.5l0.5 -1h2l0.5 1h4l0.5 1h0.5l0.5 -1l0.5 1h1.5l0.5 1l0.5 1h0.5l0.5 1l0.5 1h0.5l0.5 1l0.5 -1l0.5 1h1l0.5 -1h0.5l0.5 1h0.5l0.5 -1h2.5l0.5 1l0.5 1l0.5 -1l0.5 1h3l0.5 -1h3l0.5 -1l0.5 1l0.5 -1l0.5 1h1l0.5 1l0.5 1h1l0.5 1h0.5l0.5 1l0.5 -1l0.5 1h1l0.5 1h0.5l0.5 -1l0.5 1h0.5l0.5 -1l0.5 1h6l0.5 1l0.5 -1l0.5 -1h0.5l0.5 1l0.5 -1h2l0.5 1h0.5l0.5 -1l0.5 1h1.5l0.5 1h0.5l0.5 1h3.5l0.5 -1h2l0.5 -1h1l0.5 -1h1l0.5 -1h0.5l0.5 -1h0.5l0.5 2l0.5 -1h0.5l0.5 1h0.5l0.5 1h1.5l0.5 1h0.5l0.5 1h0.5l0.5 1h1l0.5 1h1l0.5 1h0.5l0.5 -1l0.5 -1h1l0.5 -1l0.5 1l0.5 -1h0.5l0.5 -1l0.5 1l0.5 -1l0.5 1l0.5 -1l0.5 1h6.5l0.5 -1h1l0.5 -1h0.5l0.5 -1l0.5 -1l0.5 -2l0.5 -2l0.5 -2l0.5 -2h0.5l0.5 -2l0.5 -1l0.5 -1h0.5l0.5 -1l0.5 -1h1l0.5 -3l0.5 -2l0.5 -2l0.5 -2l0.5 -3l0.5 -2l0.5 -2l0.5 -3l0.5 -3l0.5 -3l0.5 -4l0.5 -3l0.5 -4l0.5 -4l0.5 -5l0.5 -5l0.5 -5l0.5 -5l0.5 -7l0.5 -5l0.5 -7l0.5 -10l0.5 -10l0.5 -10l0.5 -9l0.5 -9l0.5 -8l0.5 -8l0.5 -5l0.5 4l0.5 4l0.5 6l0.5 7l0.5 9l0.5 13l0.5 13l0.5 13l0.5 9l0.5 10l0.5 7l0.5 9l0.5 7l0.5 8l0.5 7l0.5 7l0.5 4l0.5 4l0.5 4l0.5 4l0.5 4l0.5 2l0.5 1l0.5 2l0.5 2l0.5 1l0.5 1l0.5 2l0.5 1l0.5 1l0.5 1h1l0.5 2h0.5l0.5 1l0.5 1h0.5l0.5 1l0.5 1l0.5 -1l0.5 1h1l0.5 -1h1.5l0.5 1h1l0.5 -1l0.5 1l0.5 1h0.5l0.5 -1h0.5l0.5 1l0.5 -1l0.5 1h0.5l0.5 -1h2.5l0.5 1l0.5 -1l0.5 1h2.5l0.5 1l0.5 -1l0.5 1h0.5l0.5 -1h2l0.5 -1h1l0.5 -1l0.5 1l0.5 -1l0.5 -1h0.5l0.5 -1h1l0.5 -1l0.5 -1l0.5 -1h0.5l0.5 -1l0.5 -1l0.5 -1l0.5 -2l0.5 -1l0.5 -2l0.5 -1l0.5 -2l0.5 -1l0.5 -4l0.5 -3l0.5 -4l0.5 -5l0.5 -4l0.5 -4l0.5 -7l0.5 -7l0.5 -7l0.5 -7l0.5 -7l0.5 -6l0.5 -5l0.5 -6l0.5 -3l0.5 -3l0.5 -2l0.5 4l0.5 6l0.5 5l0.5 9l0.5 13l0.5 10l0.5 7l0.5 6l0.5 6l0.5 7l0.5 5l0.5 5l0.5 5l0.5 5l0.5 4l0.5 2l0.5 1l0.5 1l0.5 3h0.5l0.5 2h1l0.5 1h2l0.5 1l0.5 -1h0.5l0.5 1h0.5l0.5 1l0.5 -1l0.5 1h0.5l0.5 1h4l0.5 1l0.5 -1l0.5 1h1.5l0.5 1l0.5 -1h1.5l0.5 -1h2l0.5 -1l0.5 1h2l0.5 1h0.5l0.5 -1l0.5 1l0.5 1h0.5l0.5 -1l0.5 1h1.5l0.5 -1l0.5 1h0.5l0.5 1l0.5 -1h1l0.5 -1h2l0.5 -1h0.5l0.5 1h1.5l0.5 1h1l0.5 1h0.5l0.5 1h0.5l0.5 1l0.5 -1l0.5 1l0.5 -1l0.5 -1h0.5l0.5 -1l0.5 -1h4.5l0.5 1l0.5 1h2l0.5 1l0.5 -1h0.5l0.5 1l0.5 -1l0.5 -1l0.5 1h0.5l0.5 -1h0.5l0.5 1l0.5 -1l0.5 -1l0.5 1l0.5 -1h0.5l0.5 -2l0.5 1l0.5 -1h0.5l0.5 -1l0.5 -1h0.5l0.5 -1h0.5l0.5 -2l0.5 -1h0.5l0.5 -3l0.5 -1l0.5 -1l0.5 -1l0.5 -1l0.5 -2l0.5 -2l0.5 -3l0.5 -2l0.5 -2l0.5 -2l0.5 -1l0.5 -1l0.5 -2h1.5l0.5 -2l0.5 4l0.5 3l0.5 3l0.5 3l0.5 2l0.5 2l0.5 1l0.5 3l0.5 1l0.5 2h1l0.5 1h0.5l0.5 1h1.5l0.5 -2l0.5 -1l0.5 -2l0.5 -1l0.5 -1h0.5l0.5 1l0.5 2l0.5 2l0.5 3l0.5 1l0.5 1l0.5 2l0.5 1l0.5 2l0.5 1l0.5 1l0.5 1h0.5l0.5 1h1l0.5 1h2l0.5 1h1.5l0.5 1h2l0.5 1l0.5 -1h0.5l0.5 1l0.5 -1h0.5l0.5 2l0.5 -1l0.5 1l0.5 -1l0.5 1l0.5 -1h0.5l0.5 1h0.5l0.5 -1h4l0.5 -1l0.5 1h3.5l0.5 1h1l0.5 1l0.5 -1l0.5 1l0.5 -1l0.5 1h1.5l0.5 -1h0.5l0.5 1h1.5l0.5 1l0.5 -1h0.5l0.5 1h2l0.5 1h2.5l0.5 -1l0.5 1h2l0.5 -2l0.5 1l0.5 1l0.5 -1l0.5 1h0.5l0.5 1l0.5 -1h0.5l0.5 1h0.5l0.5 -1l0.5 1l0.5 -1h1.5l0.5 -1h0.5l0.5 1l0.5 -1h1l0.5 -1l0.5 1l0.5 -2h0.5l0.5 1l0.5 -2h1.5l0.5 -1h1.5l0.5 -1l0.5 -1l0.5 -1h1l0.5 -1h1l0.5 -1h1l0.5 1l0.5 1h0.5l0.5 1h0.5l0.5 1l0.5 1l0.5 1h1l0.5 1l0.5 1h1.5l0.5 1h1l0.5 1h0.5l0.5 1h2.5l0.5 1l0.5 1l0.5 -1h0.5l0.5 2l0.5 -1l0.5 1h0.5l0.5 -1h0.5l0.5 1l0.5 -1l0.5 1l0.5 -1h2l0.5 1l0.5 -1l0.5 1l0.5 -1l0.5 -1l0.5 1h0.5l0.5 -1l0.5 1l0.5 -1h1.5l0.5 1l0.5 -1l0.5 -1h0.5l0.5 1l0.5 -1l0.5 1h0.5l0.5 -1l0.5 1h1l0.5 -1h1.5l0.5 -1h1l0.5 -1l0.5 1l0.5 -1l0.5 -1l0.5 1l0.5 -1h2l0.5 1l0.5 -1l0.5 2l0.5 -1l0.5 1l0.5 1l0.5 1h0.5l0.5 1h1.5l0.5 1l0.5 -1h1.5l0.5 1h2l0.5 1l0.5 -1l0.5 1h0.5l0.5 -1l0.5 1h1l0.5 -1h2l0.5 -1h1.5l0.5 -1h1l0.5 1h1l0.5 -1h1.5l0.5 -1h1l0.5 -1l0.5 1l0.5 -1h1.5l0.5 -1h0.5l0.5 -1l0.5 1l0.5 -1l0.5 1h0.5l0.5 -2l0.5 1l0.5 -1h1l0.5 -1h1l0.5 -1h0.5l0.5 -1l0.5 -1h1l0.5 -1l0.5 -1h1l0.5 -1l0.5 -3l0.5 -1l0.5 -3l0.5 -2l0.5 -1l0.5 -3l0.5 -2l0.5 -2l0.5 -2l0.5 -2l0.5 -3l0.5 -2l0.5 -3l0.5 -1l0.5 2l0.5 3l0.5 3l0.5 3l0.5 3l0.5 2l0.5 2l0.5 2l0.5 2l0.5 2l0.5 1l0.5 2l0.5 1h0.5l0.5 -1h2l0.5 -1l0.5 -2l0.5 -3l0.5 -3l0.5 -3l0.5 -4l0.5 -4l0.5 -4l0.5 -3l0.5 -5l0.5 -4l0.5 -4l0.5 -4l0.5 -5l0.5 -5l0.5 -4l0.5 -4l0.5 -2l0.5 -2l0.5 1l0.5 2l0.5 3l0.5 4l0.5 3l0.5 6l0.5 4l0.5 6l0.5 5l0.5 5l0.5 4l0.5 3l0.5 4l0.5 3l0.5 4l0.5 3l0.5 3l0.5 3l0.5 1l0.5 3l0.5 2l0.5 2l0.5 2l0.5 1l0.5 1l0.5 1h0.5l0.5 1l0.5 1h0.5l0.5 1l0.5 1h1l0.5 1l0.5 1l0.5 -1h0.5l0.5 1l0.5 -1l0.5 1h0.5l0.5 1h1l0.5 1l0.5 -1h0.5l0.5 1h0.5l0.5 1h3l0.5 -1l0.5 1h2l0.5 -1l0.5 1h1l0.5 1l0.5 -1l0.5 1l0.5 -1l0.5 1h3l0.5 -1h1l0.5 1h0.5l0.5 -1h0.5l0.5 1h1.5l0.5 1l0.5 -1l0.5 1l0.5 -1h0.5l0.5 1l0.5 -1h2l0.5 -1h0.5l0.5 -1l0.5 1l0.5 -1h2.5l0.5 -1l0.5 1h1l0.5 -1h0.5l0.5 1l0.5 -2l0.5 1l0.5 -1l0.5 1l0.5 -1l0.5 -1l0.5 1h0.5l0.5 -1h1.5l0.5 -1l0.5 -1l0.5 -1l0.5 -1l0.5 -1l0.5 -1l0.5 -1l0.5 -1l0.5 -1l0.5 -2l0.5 -1l0.5 -2l0.5 -1l0.5 -2l0.5 -2l0.5 -1l0.5 -1l0.5 -2l0.5 -2l0.5 -1l0.5 -2l0.5 -3l0.5 -2l0.5 -3l0.5 -2l0.5 -3l0.5 -2l0.5 -2l0.5 -1l0.5 -2l0.5 2l0.5 2l0.5 3l0.5 3l0.5 1l0.5 3l0.5 3l0.5 3l0.5 3l0.5 2l0.5 3l0.5 2l0.5 2l0.5 2l0.5 1l0.5 3l0.5 2l0.5 2l0.5 1l0.5 1l0.5 1l0.5 1l0.5 1h0.5l0.5 1l0.5 1h3.5l0.5 -1h0.5l0.5 -1l0.5 2l0.5 -1l0.5 -1h0.5l0.5 -1l0.5 1l0.5 -1l0.5 -1h1l0.5 -1h1l0.5 -1h1l0.5 1h0.5l0.5 -1l0.5 1h3.5l0.5 1l0.5 -1l0.5 2h0.5l0.5 1h2l0.5 1h1.5l0.5 1h1.5l0.5 1h3l0.5 -1l0.5 1l0.5 -1h1.5l0.5 -1h0.5l0.5 -1h0.5l0.5 1l0.5 -1h0.5l0.5 -1l0.5 -1h1l0.5 -1l0.5 -1l0.5 1l0.5 -1l0.5 -1h0.5l0.5 -2l0.5 -2l0.5 -1l0.5 -2l0.5 -2l0.5 -1l0.5 -2l0.5 -1l0.5 -2h0.5l0.5 -2h0.5l0.5 -2l0.5 1l0.5 -1l0.5 2l0.5 2l0.5 1l0.5 3l0.5 1l0.5 2h0.5l0.5 1l0.5 1l0.5 1l0.5 1h1l0.5 1l0.5 1h1l0.5 1l0.5 -1h0.5l0.5 1l0.5 -1h0.5l0.5 1l0.5 -1h1l0.5 -1l0.5 1h0.5l0.5 -1l0.5 1l0.5 -1h1.5l0.5 -1l0.5 -1h1l0.5 -1l0.5 -1h0.5l0.5 -1h0.5l0.5 -1h1l0.5 1l0.5 1l0.5 1l0.5 1h0.5l0.5 1h0.5l0.5 1h0.5l0.5 1h0.5l0.5 -1h1l0.5 1h0.5l0.5 -1h0.5l0.5 1h1l0.5 -1h0.5l0.5 -1l0.5 1l0.5 -1h0.5l0.5 -1h1l0.5 -1l0.5 1h0.5l0.5 -1l0.5 -1l0.5 -1l0.5 -1l0.5 -1l0.5 -1l0.5 -2l0.5 -1h1l0.5 -1h1l0.5 -1h0.5l0.5 -1h0.5l0.5 -1l0.5 -1l0.5 -1l0.5 -2h0.5l0.5 -1l0.5 -1l0.5 -2l0.5 -1l0.5 -2l0.5 -1l0.5 -2l0.5 -1l0.5 -1l0.5 -3h0.5l0.5 -3l0.5 -1l0.5 -2h1l0.5 -2l0.5 -2h0.5l0.5 -1h0.5l0.5 -1h1l0.5 -1l0.5 -1h3l0.5 -1h0.5l0.5 -1l0.5 -1h0.5l0.5 -1h1.5l0.5 1h0.5l0.5 1h2l0.5 -1l0.5 -2l0.5 -1l0.5 -1l0.5 -2l0.5 -3l0.5 -4l0.5 -4l0.5 -5l0.5 -5l0.5 -7l0.5 -7l0.5 -9l0.5 -8l0.5 -11l0.5 -13l0.5 -11l0.5 -12l0.5 -11l0.5 -12l0.5 -11l0.5 -12l0.5 -10l0.5 -10l0.5 -10l0.5 -5l0.5 -4l0.5 -4l0.5 -3l0.5 -3l0.5 -2l0.5 -3l0.5 -2l0.5 2l0.5 2h0.5l0.5 3l0.5 3l0.5 3l0.5 2l0.5 6l0.5 12l0.5 11l0.5 14l0.5 13l0.5 12l0.5 13l0.5 10l0.5 10l0.5 8l0.5 6l0.5 2l0.5 3l0.5 1h0.5l0.5 -1l0.5 -1l0.5 -1l0.5 -1h0.5l0.5 -1h0.5l0.5 -1l0.5 -2l0.5 1l0.5 1l0.5 3l0.5 3l0.5 4l0.5 5l0.5 5l0.5 9l0.5 8l0.5 9l0.5 9l0.5 7l0.5 7l0.5 8l0.5 5l0.5 6l0.5 4l0.5 5l0.5 5l0.5 2l0.5 2l0.5 2l0.5 2l0.5 2l0.5 2h2l0.5 1l0.5 1h1.5l0.5 1l0.5 -1l0.5 1l0.5 -1l0.5 1h1l0.5 1l0.5 1l0.5 1l0.5 2l0.5 1l0.5 2h0.5l0.5 2l0.5 2h0.5l0.5 2l0.5 1h0.5l0.5 1h1l0.5 1l0.5 -1h1l0.5 -1l0.5 1h0.5l0.5 1l0.5 -2l0.5 1h0.5l0.5 1h1.5l0.5 1h0.5l0.5 1l0.5 -1h0.5l0.5 1h1l0.5 -1l0.5 -1h1l0.5 -1l0.5 1l0.5 -1h0.5l0.5 -1l0.5 1l0.5 -1l0.5 1h2.5l0.5 1l0.5 -1l0.5 1l0.5 -1l0.5 1l0.5 -1h0.5l0.5 -1h0.5l0.5 -2h1l0.5 -1l0.5 -1l0.5 -2h0.5l0.5 -1l0.5 -1l0.5 1l0.5 1l0.5 2l0.5 1l0.5 1l0.5 2l0.5 1l0.5 1h0.5l0.5 2h0.5l0.5 2h0.5l0.5 2l0.5 1l0.5 -1l0.5 1l0.5 1l0.5 1h0.5l0.5 1h0.5l0.5 1h0.5l0.5 1l0.5 -1l0.5 1h0.5l0.5 -1h1l0.5 1h2l0.5 1l0.5 -1h1l0.5 1l0.5 -1l0.5 1l0.5 -1h0.5l0.5 -1h0.5l0.5 1l0.5 -1h1.5l0.5 1h0.5l0.5 -1l0.5 1h1.5l0.5 -1l0.5 1l0.5 -1h1l0.5 1l0.5 -1h0.5l0.5 1l0.5 -1h1l0.5 -2l0.5 -1l0.5 -1l0.5 -1h0.5l0.5 -1l0.5 -1l0.5 -1l0.5 -1l0.5 -1l0.5 -1l0.5 -2l0.5 -1l0.5 -2l0.5 -1l0.5 -1l0.5 -2l0.5 -3l0.5 -3l0.5 -2l0.5 -3l0.5 -3l0.5 -2l0.5 -3l0.5 -1l0.5 -2l0.5 1l0.5 3l0.5 5l0.5 3l0.5 3l0.5 3l0.5 3l0.5 3l0.5 2l0.5 3l0.5 2l0.5 2l0.5 1l0.5 1l0.5 2h0.5l0.5 2l0.5 -1l0.5 1h0.5l0.5 -1h0.5l0.5 -1h3l0.5 1l0.5 -1l0.5 1h1.5l0.5 1h2.5l0.5 -1l0.5 -1h0.5l0.5 -1l0.5 -1l0.5 -1l0.5 -1h0.5l0.5 -2l0.5 -2h0.5l0.5 -1l0.5 -3l0.5 -1l0.5 -2l0.5 -1l0.5 -1h0.5l0.5 -1l0.5 -1l0.5 -2h0.5l0.5 -1h0.5l0.5 -1h2.5l0.5 -1h0.5l0.5 -1l0.5 -1l0.5 -2l0.5 -4l0.5 -2l0.5 -2l0.5 -3l0.5 -3l0.5 -4l0.5 -4l0.5 -5l0.5 -6l0.5 -5l0.5 -4l0.5 -4l0.5 -4l0.5 -4l0.5 -3l0.5 3l0.5 5l0.5 4l0.5 5l0.5 3l0.5 3l0.5 3l0.5 2l0.5 4l0.5 2l0.5 2h0.5l0.5 2l0.5 2h1l0.5 -1h0.5l0.5 -2l0.5 -1l0.5 1l0.5 -1h1l0.5 -1l0.5 5l0.5 6l0.5 6l0.5 4l0.5 3l0.5 2l0.5 4l0.5 2l0.5 2l0.5 4h0.5l0.5 2h0.5l0.5 1l0.5 2l0.5 1l0.5 1l0.5 -1h0.5l0.5 -1h1.5l0.5 -1h1.5l0.5 -2l0.5 -1h0.5l0.5 -1h0.5l0.5 -2l0.5 -1l0.5 -2l0.5 -1l0.5 -2l0.5 -1l0.5 -2l0.5 -2l0.5 -3l0.5 -2l0.5 -3l0.5 -2l0.5 -1l0.5 -3l0.5 -1l0.5 -2h0.5l0.5 1l0.5 3l0.5 2l0.5 4l0.5 2l0.5 3l0.5 3l0.5 3l0.5 4l0.5 2l0.5 3l0.5 2l0.5 2l0.5 2l0.5 2l0.5 2l0.5 1l0.5 1l0.5 1l0.5 2l0.5 -1l0.5 1h0.5l0.5 1h1l0.5 -1l0.5 2l0.5 -1l0.5 1h3l0.5 1l0.5 -1h1l0.5 1l0.5 -1l0.5 1h2.5l0.5 -1l0.5 1l0.5 -1l0.5 1h1l0.5 -1l0.5 1h1l0.5 -1l0.5 2l0.5 -1l0.5 -1h0.5l0.5 -1h0.5l0.5 -1h1l0.5 -2h0.5l0.5 -1h1l0.5 -1h0.5l0.5 -2l0.5 1h0.5l0.5 2l0.5 -2l0.5 2l0.5 -1l0.5 1h0.5l0.5 1l0.5 1l0.5 -1h2.5l0.5 -1l0.5 -1h0.5l0.5 -1l0.5 -1l0.5 -1l0.5 -3l0.5 -3l0.5 -1l0.5 -4l0.5 -1l0.5 -3l0.5 -1l0.5 -2l0.5 -2l0.5 -2l0.5 -2l0.5 -3l0.5 -4l0.5 -4l0.5 -5l0.5 -5l0.5 -6l0.5 -5l0.5 -5l0.5 -5l0.5 -4l0.5 1l0.5 6l0.5 6l0.5 6l0.5 4l0.5 5l0.5 2l0.5 4l0.5 4l0.5 3l0.5 3l0.5 3l0.5 3l0.5 2l0.5 3l0.5 2l0.5 1h2l0.5 -1h1l0.5 -1h0.5l0.5 -1l0.5 -1l0.5 -1h0.5l0.5 -2l0.5 -1l0.5 -1l0.5 -2l0.5 -1h0.5l0.5 -2l0.5 -2l0.5 -2l0.5 -1h0.5l0.5 1l0.5 1l0.5 2l0.5 1l0.5 2l0.5 2l0.5 1l0.5 1l0.5 1l0.5 2l0.5 2l0.5 1l0.5 1l0.5 1l0.5 1l0.5 1l0.5 2h0.5l0.5 1h0.5l0.5 1h0.5l0.5 -1l0.5 -1h0.5l0.5 -1h0.5l0.5 -1l0.5 -1h0.5l0.5 -2h0.5l0.5 -2h0.5l0.5 -2l0.5 -1l0.5 -2h0.5l0.5 -1l0.5 -1l0.5 -1l0.5 2l0.5 2l0.5 2l0.5 3l0.5 2l0.5 2l0.5 1l0.5 2l0.5 2l0.5 1l0.5 2l0.5 2l0.5 1l0.5 2l0.5 1h0.5l0.5 1h0.5l0.5 2h1l0.5 1h2l0.5 -1h0.5l0.5 -1l0.5 -1l0.5 -1h1l0.5 -1l0.5 -1l0.5 -1l0.5 -1l0.5 1l0.5 -1l0.5 -1h0.5l0.5 -1l0.5 -1l0.5 -1h1l0.5 -1l0.5 -1h0.5l0.5 -1h0.5l0.5 -1h0.5l0.5 -2l0.5 -1l0.5 -2l0.5 -1h0.5l0.5 -2l0.5 -2l0.5 -1l0.5 -2l0.5 -2l0.5 -1l0.5 -2l0.5 -3l0.5 -2l0.5 -2l0.5 -2l0.5 -2l0.5 -3l0.5 -3l0.5 -2l0.5 -3l0.5 -4l0.5 -2l0.5 -4l0.5 -3l0.5 -3l0.5 -4l0.5 -3l0.5 -2l0.5 -2l0.5 -4l0.5 -2l0.5 -4l0.5 -1l0.5 -2l0.5 -1l0.5 -2l0.5 -1l0.5 -1l0.5 -2h0.5l0.5 -3h0.5l0.5 -1l0.5 2l0.5 2l0.5 4l0.5 3l0.5 3l0.5 2l0.5 2l0.5 3l0.5 3l0.5 1l0.5 3l0.5 3l0.5 3l0.5 3l0.5 3l0.5 3l0.5 4l0.5 3l0.5 3l0.5 4l0.5 3l0.5 5l0.5 2l0.5 4l0.5 3l0.5 3l0.5 1l0.5 -1h0.5l0.5 -1l0.5 -1h0.5l0.5 -1h0.5l0.5 5l0.5 6l0.5 8l0.5 6l0.5 2l0.5 2l0.5 2l0.5 1l0.5 2l0.5 2l0.5 1h0.5l0.5 1l0.5 -1l0.5 1h1.5l0.5 1l0.5 1l0.5 -1l0.5 1h1l0.5 -1h1.5l0.5 -1l0.5 1h4l0.5 -1l0.5 1l0.5 -1h0.5l0.5 1l0.5 -1h2l0.5 -1l0.5 1h0.5l0.5 1h1l0.5 1l0.5 1h1l0.5 1l0.5 -1l0.5 1h1l0.5 1l0.5 1h0.5l0.5 -1l0.5 1h0.5l0.5 1l0.5 -1l0.5 -1h4.5l0.5 -1l0.5 1l0.5 -1h0.5l0.5 -1h3l0.5 1h1l0.5 1h1.5l0.5 -1h1.5l0.5 -1l0.5 1l0.5 -2l0.5 1l0.5 -2l0.5 1l0.5 -1h0.5l0.5 -1l0.5 -2l0.5 -1l0.5 -1l0.5 -2l0.5 -1l0.5 -1l0.5 -2l0.5 -1l0.5 -4l0.5 -1l0.5 -3l0.5 -3l0.5 -2l0.5 -3l0.5 -4l0.5 -3l0.5 -5l0.5 -4l0.5 -5l0.5 -4l0.5 -5l0.5 -5l0.5 -5l0.5 -5l0.5 -2l0.5 -2l0.5 -2l0.5 -1h0.5l0.5 1l0.5 1l0.5 3l0.5 1l0.5 2l0.5 5l0.5 4l0.5 5l0.5 4l0.5 6l0.5 3l0.5 4l0.5 5l0.5 3l0.5 5l0.5 3l0.5 3l0.5 3l0.5 4l0.5 3l0.5 3l0.5 2h0.5l0.5 2l0.5 1h0.5l0.5 2l0.5 1h3l0.5 1h0.5l0.5 -1h2.5l0.5 -1l0.5 -1h0.5l0.5 -1h0.5l0.5 -1l0.5 -1h0.5l0.5 -1l0.5 -1l0.5 -2l0.5 -2l0.5 -1l0.5 -1l0.5 -1l0.5 -2l0.5 -1l0.5 -1h0.5l0.5 -1l0.5 -2h1l0.5 -1h3.5l0.5 -1h0.5l0.5 1l0.5 1l0.5 1h0.5l0.5 2l0.5 1l0.5 2h0.5l0.5 1l0.5 2h0.5l0.5 1h0.5l0.5 1l0.5 1l0.5 1l0.5 1l0.5 1l0.5 2l0.5 1l0.5 2l0.5 1l0.5 2h1l0.5 1l0.5 1l0.5 1l0.5 1l0.5 -1l0.5 1l0.5 1h2l0.5 1h1.5l0.5 -1h0.5l0.5 -1l0.5 -1l0.5 1h0.5l0.5 -1h0.5l0.5 -1h0.5l0.5 -1l0.5 -1h0.5l0.5 -2h0.5l0.5 -2h2.5l0.5 -1l0.5 1h1.5l0.5 1h0.5l0.5 1l0.5 1l0.5 1h0.5l0.5 1h0.5l0.5 1l0.5 1l0.5 1h1l0.5 1h1l0.5 1h0.5l0.5 1h1l0.5 1h2.5l0.5 1l0.5 -1l0.5 1h0.5l0.5 -1l0.5 1h4.5l0.5 1l0.5 -1h1l0.5 1l0.5 -1h0.5l0.5 -1l0.5 1h0.5l0.5 -1h2l0.5 -1h0.5l0.5 1h1l0.5 -1l0.5 1h2.5l0.5 1l0.5 -1h1l0.5 -1h1l0.5 -2l0.5 2l0.5 -1l0.5 -1h2.5l0.5 -1h1.5l0.5 -1l0.5 1h1.5l0.5 -1l0.5 1h3.5l0.5 -1h1.5l0.5 -1l0.5 -1h1.5l0.5 -1h0.5l0.5 1h2.5l0.5 1l0.5 -1h2.5l0.5 -1h1l0.5 -1l0.5 -1h0.5l0.5 -1h1.5l0.5 -1h1.5l0.5 -1h0.5l0.5 -1l0.5 1h0.5l0.5 -1l0.5 1h0.5l0.5 1h1l0.5 1l0.5 -1l0.5 1h0.5l0.5 1l0.5 -1l0.5 -1h0.5l0.5 -1l0.5 1l0.5 -2h1.5l0.5 -1l0.5 -1l0.5 1l0.5 -1h0.5l0.5 -1l0.5 -1h0.5l0.5 -1h0.5l0.5 -1l0.5 -1h0.5l0.5 1h0.5l0.5 1h0.5l0.5 1l0.5 1l0.5 1h0.5l0.5 1h0.5l0.5 1h1.5l0.5 1h1l0.5 1l0.5 1h1l0.5 -1l0.5 1l0.5 -1l0.5 1l0.5 -1l0.5 1h2l0.5 1h2.5l0.5 -1l0.5 1l0.5 -1l0.5 -1l0.5 2l0.5 -1h0.5l0.5 -1l0.5 -1l0.5 1h3l0.5 -1h2l0.5 -1h1l0.5 1h2.5l0.5 1l0.5 1h2l0.5 1h2.5l0.5 1h1l0.5 1h0.5l0.5 -1h1l0.5 -2h0.5l0.5 -1h0.5l0.5 -1l0.5 -1h1l0.5 -1l0.5 1h0.5l0.5 -2l0.5 1h3.5l0.5 -1l0.5 -1h0.5l0.5 -1h1l0.5 -1h1l0.5 -1h0.5l0.5 -1h0.5l0.5 1h1.5l0.5 -1h0.5l0.5 1l0.5 -1h0.5l0.5 -1h0.5l0.5 -1l0.5 -1h0.5l0.5 -2l0.5 1l0.5 -1l0.5 -2h0.5l0.5 -1l0.5 1h1l0.5 1l0.5 1l0.5 -1h0.5l0.5 2h1l0.5 2h0.5l0.5 1l0.5 1l0.5 1h0.5l0.5 2h0.5l0.5 1l0.5 1h0.5l0.5 2l0.5 1l0.5 1l0.5 1l0.5 1l0.5 1l0.5 1h0.5l0.5 1l0.5 1h1l0.5 1h0.5l0.5 1h1.5l0.5 1h1l0.5 1h2l0.5 1h0.5l0.5 1l0.5 -1h1l0.5 -1h2.5l0.5 -1h1.5l0.5 1h1.5l0.5 1h1l0.5 1l0.5 -1l0.5 1h1l0.5 1l0.5 -1l0.5 1h1l0.5 -1l0.5 1h0.5l0.5 1l0.5 -1l0.5 1l0.5 -1h1l0.5 -1h0.5l0.5 -1h0.5l0.5 -1l0.5 -1l0.5 1l0.5 -2h1l0.5 -1l0.5 1h0.5l0.5 -1h0.5l0.5 1l0.5 -1h1.5l0.5 1h0.5l0.5 1l0.5 -1l0.5 1h1.5l0.5 1h0.5l0.5 -1l0.5 2h0.5l0.5 -1h0.5l0.5 1h0.5l0.5 1h0.5l0.5 -1h0.5l0.5 1h1l0.5 1h3l0.5 2l0.5 -1l0.5 1l0.5 -1h0.5l0.5 1h1.5l0.5 1l0.5 -1h0.5l0.5 -1h2.5l0.5 -1l0.5 1h0.5l0.5 -1l0.5 1h0.5l0.5 -1l0.5 1l0.5 -1l0.5 1h0.5l0.5 1h2.5l0.5 1l0.5 -1h0.5l0.5 1h0.5l0.5 -1l0.5 2h0.5l0.5 -1h0.5l0.5 1h3.5l0.5 1l0.5 -1l0.5 1h3.5l0.5 -1h1.5l0.5 -1l0.5 1l0.5 -1h0.5l0.5 1l0.5 -1l0.5 1l0.5 -1h0.5l0.5 -1l0.5 1h1.5l0.5 1l0.5 -1h1l0.5 -1h3.5l0.5 -1l0.5 1h0.5l0.5 -1h2.5l0.5 1l0.5 -1h1l0.5 1l0.5 -1h1.5l0.5 1l0.5 -1l0.5 1h2l0.5 1h1l0.5 -1l0.5 1h0.5l0.5 1h1l0.5 -1h0.5l0.5 1h0.5l0.5 -1h0.5l0.5 1l0.5 -1h2l0.5 1l0.5 -1h3.5l0.5 -1h1l0.5 1h3l0.5 -1l0.5 1h2.5l0.5 1h1l0.5 1h1l0.5 1h0.5l0.5 1h4l0.5 -1h3.5l0.5 -1l0.5 1l0.5 -1l0.5 1l0.5 -1l0.5 -1l0.5 1l0.5 -1l0.5 1l0.5 -1l0.5 -1l0.5 1h0.5l0.5 -1h1l0.5 1l0.5 -1h2l0.5 -1h1.5l0.5 -1l0.5 1l0.5 2l0.5 -1h1l0.5 1l0.5 1l0.5 -1l0.5 1h0.5l0.5 1h2l0.5 1l0.5 -1l0.5 -1l0.5 1l0.5 -1h1.5l0.5 -1h0.5l0.5 -1h0.5l0.5 1l0.5 -1h2l0.5 -1l0.5 1l0.5 1l0.5 -1h2l0.5 1l0.5 -1l0.5 1l0.5 -1l0.5 -1l0.5 1h2.5l0.5 -1l0.5 1h0.5l0.5 -1h2.5l0.5 1l0.5 -1h0.5l0.5 1l0.5 -1l0.5 1h1.5l0.5 1l0.5 -1l0.5 1h1l0.5 1h1l0.5 1l0.5 1l0.5 -1h0.5l0.5 1l0.5 -1h1l0.5 1l0.5 -1h1l0.5 -1l0.5 1h1.5l0.5 -1h1l0.5 -2l0.5 1h2.5l0.5 -1l0.5 1h2l0.5 1h0.5l0.5 -1l0.5 1h2.5l0.5 -1l0.5 1l0.5 -1h2l0.5 -1h4l0.5 -1l0.5 1l0.5 -2l0.5 2l0.5 -1h0.5l0.5 -1h1l0.5 -1l0.5 1l0.5 -1l0.5 1l0.5 -1l0.5 1l0.5 -1h2l0.5 -1h3l0.5 -1l0.5 1h1l0.5 -1h1.5l0.5 1h0.5l0.5 1l0.5 -1l0.5 1h1l0.5 2l0.5 -1h0.5l0.5 1h1l0.5 1h0.5l0.5 1h1l0.5 1l0.5 -1l0.5 1h0.5l0.5 1l0.5 -1h1l0.5 -1h0.5l0.5 -1l0.5 -1l0.5 -1l0.5 1l0.5 -1l0.5 -1l0.5 -1h0.5l0.5 -1h0.5l0.5 -1h1.5l0.5 -1h1l0.5 -1h0.5l0.5 -1h1l0.5 1l0.5 -1h1l0.5 -1l0.5 1h1l0.5 1l0.5 1l0.5 -1h0.5l0.5 1h0.5l0.5 1h0.5l0.5 1h0.5l0.5 1l0.5 -1l0.5 1h0.5l0.5 1h0.5l0.5 1l0.5 -1l0.5 1l0.5 1h1l0.5 -1l0.5 1h1l0.5 1l0.5 -1h0.5l0.5 1l0.5 -1h0.5l0.5 1h0.5l0.5 -1h1l0.5 1h2l0.5 -1l0.5 1h1l0.5 -1h0.5l0.5 -1h0.5l0.5 1l0.5 -1h0.5l0.5 -1h2l0.5 -1l0.5 1h1l0.5 1h0.5l0.5 1h1l0.5 1h0.5l0.5 1h2l0.5 -1l0.5 2h0.5l0.5 -1h0.5l0.5 1h0.5l0.5 1l0.5 -1h0.5l0.5 1l0.5 -1l0.5 1h1.5l0.5 1l0.5 -1h0.5l0.5 1l0.5 -1l0.5 1h1l0.5 -1h0.5l0.5 1l0.5 -1h1l0.5 -1l0.5 1l0.5 -1l0.5 -1l0.5 1h0.5l0.5 -1h0.5l0.5 1h1l0.5 -1h1.5l0.5 -1h0.5l0.5 1h1.5l0.5 -1h0.5l0.5 -1h2l0.5 -1l0.5 -1l0.5 1l0.5 -2h1l0.5 -1l0.5 -1h1l0.5 -1l0.5 1h1l0.5 1h1l0.5 1h1l0.5 1l0.5 1h1l0.5 2l0.5 1h0.5l0.5 -1l0.5 1l0.5 1l0.5 1h0.5l0.5 1h2l0.5 1l0.5 -1l0.5 1h3.5l0.5 1l0.5 -1l0.5 -1h0.5l0.5 1h0.5l0.5 1l0.5 -1h0.5l0.5 1h1.5l0.5 -1l0.5 1h0.5l0.5 -1l0.5 1l0.5 -1l0.5 1l0.5 -1h0.5l0.5 -1l0.5 1h2l0.5 -1h1.5l0.5 1l0.5 -1h1.5l0.5 -1l0.5 1l0.5 -1h0.5l0.5 -1h4l0.5 -1h0.5l0.5 1h0.5l0.5 -1l0.5 1h2l0.5 -1h2l0.5 -1l0.5 1l0.5 -1l0.5 1h0.5l0.5 -1h2l0.5 -1h0.5l0.5 -1h1.5l0.5 -1l0.5 -1h0.5l0.5 -1l0.5 -1h0.5l0.5 -1h0.5l0.5 -2h0.5l0.5 -1l0.5 -1l0.5 -1l0.5 -1l0.5 1l0.5 1l0.5 -1l0.5 1l0.5 1h1l0.5 2h0.5l0.5 1l0.5 1h0.5l0.5 2h1l0.5 1h1l0.5 1l0.5 -1h0.5l0.5 1h1l0.5 1h0.5l0.5 -1h4l0.5 -1h4.5l0.5 1h2.5l0.5 -1h2.5l0.5 1h1l0.5 1h1.5l0.5 1l0.5 1h0.5l0.5 -1h1l0.5 1l0.5 -1h0.5l0.5 1h0.5l0.5 -1l0.5 1l0.5 -1l0.5 1h0.5l0.5 1l0.5 -1h1l0.5 -1l0.5 2l0.5 -1h1l0.5 1l0.5 -1l0.5 1h1l0.5 1h1.5l0.5 1h2.5l0.5 1h1l0.5 1h1.5l0.5 -1l0.5 1h0.5l0.5 1l0.5 -1l0.5 1l0.5 -1l0.5 1l0.5 -1l0.5 1h0.5l0.5 1l0.5 -1l0.5 1h4l0.5 1h0.5l0.5 -1h3l0.5 1l0.5 -1l0.5 1h0.5l0.5 -1l0.5 1h0.5l0.5 -1h0.5l0.5 1h0.5l0.5 -1h1l0.5 1l0.5 -1h0.5l0.5 1l0.5 -1l0.5 1h1l0.5 -1l0.5 -1l0.5 1h2l0.5 -1l0.5 1l0.5 -1h1l0.5 2l0.5 -2l0.5 1l0.5 -1l0.5 1h0.5l0.5 -1h0.5l0.5 1l0.5 -1h2l0.5 1l0.5 -1h2l0.5 1l0.5 -1h2.5l0.5 -1l0.5 1h1l0.5 -1h1.5l0.5 1h0.5l0.5 -1h0.5l0.5 1l0.5 1l0.5 -2h1l0.5 1h0.5l0.5 -1l0.5 1l0.5 -1l0.5 1h0.5l0.5 -1l0.5 1h2l0.5 1l0.5 -2l0.5 1h1.5l0.5 -1h2l0.5 1l0.5 -1l0.5 -1l0.5 1h0.5l0.5 -1h1.5" stroke="#000000" stroke-width="7"/>
</g>
<text class="t" x="340.8" y="1553.9" font-size="50.5" text-anchor="middle" textLength="51.5" lengthAdjust="spacingAndGlyphs">10</text>
<text class="t" x="570.8" y="1553.9" font-size="50.5" text-anchor="middle" textLength="51.5" lengthAdjust="spacingAndGlyphs">15</text>
<text class="t" x="800.8" y="1553.9" font-size="50.5" text-anchor="middle" textLength="51.5" lengthAdjust="spacingAndGlyphs">20</text>
<text class="t" x="1030.8" y="1553.9" font-size="50.5" text-anchor="middle" textLength="51.5" lengthAdjust="spacingAndGlyphs">25</text>
<text class="t" x="1260.8" y="1553.9" font-size="50.5" text-anchor="middle" textLength="51.5" lengthAdjust="spacingAndGlyphs">30</text>
<text class="t" x="1490.8" y="1553.9" font-size="50.5" text-anchor="middle" textLength="51.5" lengthAdjust="spacingAndGlyphs">35</text>
<text class="t" x="1720.8" y="1553.9" font-size="50.5" text-anchor="middle" textLength="51.5" lengthAdjust="spacingAndGlyphs">40</text>
<text class="t" x="1950.8" y="1553.9" font-size="50.5" text-anchor="middle" textLength="51.5" lengthAdjust="spacingAndGlyphs">45</text>
<text x="1764.6" y="426" font-size="60" textLength="185.8" lengthAdjust="spacingAndGlyphs">Ag-NZ</text>
<text x="1812.1" y="679.4" font-size="60" textLength="78.4" lengthAdjust="spacingAndGlyphs">ZX</text>
<text x="1806.8" y="913" font-size="60" textLength="86" lengthAdjust="spacingAndGlyphs">ZD</text>
<text x="1757.4" y="1139" font-size="60" textLength="188.4" lengthAdjust="spacingAndGlyphs">Na-NZ</text>
<text x="1816" y="1346" font-size="60" textLength="91.1" lengthAdjust="spacingAndGlyphs">NZ</text>
<text class="b" transform="translate(70.5 0) rotate(-90)"><tspan x="-958.6" y="0" font-size="63" textLength="240.6" lengthAdjust="spacingAndGlyphs">Intensity</tspan><tspan> </tspan><tspan x="-701.9" y="0" font-size="63" textLength="129.7" lengthAdjust="spacingAndGlyphs">(a.u.)</tspan></text>
<text class="b"><tspan x="1053.7" y="1678.7" font-size="57" textLength="29.8" lengthAdjust="spacingAndGlyphs">2</tspan><tspan font-style="italic" x="1088.5" y="1678.7" font-size="64" textLength="36.4" lengthAdjust="spacingAndGlyphs">θ</tspan><tspan> </tspan><tspan x="1148.6" y="1678.7" font-size="60" textLength="134.5" lengthAdjust="spacingAndGlyphs">(deg)</tspan></text>
</svg>
</body></html>
